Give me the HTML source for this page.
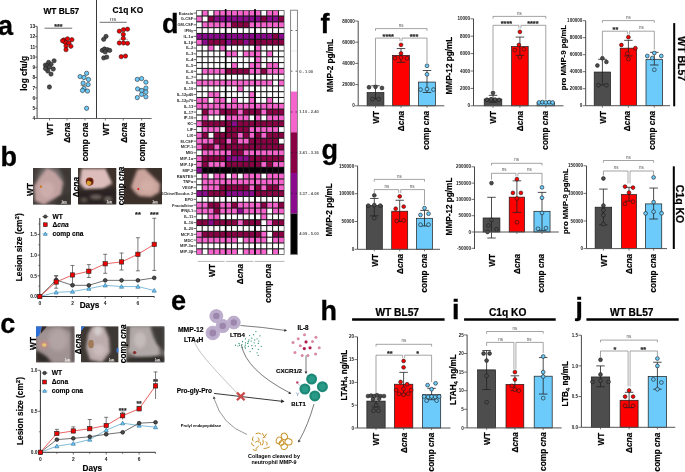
<!DOCTYPE html>
<html><head><meta charset="utf-8"><title>Figure</title>
<style>
html,body{margin:0;padding:0;background:#fff;width:685px;height:472px;overflow:hidden;}
svg{display:block;font-family:"Liberation Sans", sans-serif;will-change:transform;}
</style></head><body>
<svg width="685" height="472" viewBox="0 0 685 472">
<rect width="685" height="472" fill="#fff"/>
<defs>
<filter id="b2" x="-30%" y="-30%" width="160%" height="160%"><feGaussianBlur stdDeviation="2.2"/></filter>
<filter id="b15" x="-30%" y="-30%" width="160%" height="160%"><feGaussianBlur stdDeviation="1.4"/></filter>
<filter id="b05" x="-50%" y="-50%" width="200%" height="200%"><feGaussianBlur stdDeviation="0.5"/></filter>
</defs>
<text x="-2.1" y="34.9" font-size="27" font-weight="bold" text-anchor="start" fill="#000" stroke="#000" stroke-width="0.3">a</text>
<text x="61.3" y="13.6" font-size="8.4" font-weight="bold" text-anchor="middle" fill="#000" stroke="#000" stroke-width="0.18">WT BL57</text>
<text x="127.8" y="13.3" font-size="8.4" font-weight="bold" text-anchor="middle" fill="#000" stroke="#000" stroke-width="0.18">C1q KO</text>
<line x1="96.5" y1="0" x2="96.5" y2="118.5" stroke="#222" stroke-width="0.9"/>
<line x1="37.1" y1="26.34" x2="37.1" y2="118.5" stroke="#333" stroke-width="0.9"/>
<line x1="37.1" y1="118.5" x2="151.6" y2="118.5" stroke="#555" stroke-width="0.9"/>
<line x1="35.1" y1="118.5" x2="37.1" y2="118.5" stroke="#333" stroke-width="0.7"/>
<text x="35.3" y="120.25" font-size="4.9" font-weight="bold" text-anchor="end" fill="#222">4</text>
<line x1="35.1" y1="108.26" x2="37.1" y2="108.26" stroke="#333" stroke-width="0.7"/>
<text x="35.3" y="110.01" font-size="4.9" font-weight="bold" text-anchor="end" fill="#222">5</text>
<line x1="35.1" y1="98.02" x2="37.1" y2="98.02" stroke="#333" stroke-width="0.7"/>
<text x="35.3" y="99.77" font-size="4.9" font-weight="bold" text-anchor="end" fill="#222">6</text>
<line x1="35.1" y1="87.78" x2="37.1" y2="87.78" stroke="#333" stroke-width="0.7"/>
<text x="35.3" y="89.53" font-size="4.9" font-weight="bold" text-anchor="end" fill="#222">7</text>
<line x1="35.1" y1="77.54" x2="37.1" y2="77.54" stroke="#333" stroke-width="0.7"/>
<text x="35.3" y="79.29" font-size="4.9" font-weight="bold" text-anchor="end" fill="#222">8</text>
<line x1="35.1" y1="67.3" x2="37.1" y2="67.3" stroke="#333" stroke-width="0.7"/>
<text x="35.3" y="69.05" font-size="4.9" font-weight="bold" text-anchor="end" fill="#222">9</text>
<line x1="35.1" y1="57.06" x2="37.1" y2="57.06" stroke="#333" stroke-width="0.7"/>
<text x="35.3" y="58.81" font-size="4.9" font-weight="bold" text-anchor="end" fill="#222">10</text>
<line x1="35.1" y1="46.82" x2="37.1" y2="46.82" stroke="#333" stroke-width="0.7"/>
<text x="35.3" y="48.57" font-size="4.9" font-weight="bold" text-anchor="end" fill="#222">11</text>
<line x1="35.1" y1="36.58" x2="37.1" y2="36.58" stroke="#333" stroke-width="0.7"/>
<text x="35.3" y="38.33" font-size="4.9" font-weight="bold" text-anchor="end" fill="#222">12</text>
<line x1="35.1" y1="26.34" x2="37.1" y2="26.34" stroke="#333" stroke-width="0.7"/>
<text x="35.3" y="28.09" font-size="4.9" font-weight="bold" text-anchor="end" fill="#222">13</text>
<line x1="49.5" y1="118.5" x2="49.5" y2="120.5" stroke="#555" stroke-width="0.8"/>
<text x="0" y="0" transform="translate(52.89 122.6) rotate(-90)" font-size="8.3" font-weight="bold" text-anchor="end" fill="#000" stroke="#000" stroke-width="0.18">WT</text>
<line x1="67" y1="118.5" x2="67" y2="120.5" stroke="#555" stroke-width="0.8"/>
<text x="0" y="0" transform="translate(70.39 122.6) rotate(-90)" font-size="8.3" font-weight="bold" text-anchor="end" fill="#000" stroke="#000" stroke-width="0.18">&#916;<tspan font-style="italic">cna</tspan></text>
<line x1="85" y1="118.5" x2="85" y2="120.5" stroke="#555" stroke-width="0.8"/>
<text x="0" y="0" transform="translate(88.39 122.6) rotate(-90)" font-size="8.3" font-weight="bold" text-anchor="end" fill="#000" stroke="#000" stroke-width="0.18">comp <tspan font-style="italic">cna</tspan></text>
<line x1="105.4" y1="118.5" x2="105.4" y2="120.5" stroke="#555" stroke-width="0.8"/>
<text x="0" y="0" transform="translate(108.79 122.6) rotate(-90)" font-size="8.3" font-weight="bold" text-anchor="end" fill="#000" stroke="#000" stroke-width="0.18">WT</text>
<line x1="123.3" y1="118.5" x2="123.3" y2="120.5" stroke="#555" stroke-width="0.8"/>
<text x="0" y="0" transform="translate(126.69 122.6) rotate(-90)" font-size="8.3" font-weight="bold" text-anchor="end" fill="#000" stroke="#000" stroke-width="0.18">&#916;<tspan font-style="italic">cna</tspan></text>
<line x1="141.6" y1="118.5" x2="141.6" y2="120.5" stroke="#555" stroke-width="0.8"/>
<text x="0" y="0" transform="translate(144.99 122.6) rotate(-90)" font-size="8.3" font-weight="bold" text-anchor="end" fill="#000" stroke="#000" stroke-width="0.18">comp <tspan font-style="italic">cna</tspan></text>
<text x="0" y="0" transform="translate(26.52 73.3) rotate(-90)" font-size="8.4" font-weight="bold" text-anchor="middle" fill="#000" stroke="#000" stroke-width="0.18">log cfu/g</text>
<line x1="44.5" y1="28.2" x2="72.2" y2="28.2" stroke="#333" stroke-width="0.7"/>
<text x="58.3" y="29" font-size="7" font-weight="bold" text-anchor="middle" fill="#222" stroke="#222" stroke-width="0.15">***</text>
<line x1="99.7" y1="22.3" x2="126.7" y2="22.3" stroke="#333" stroke-width="0.7"/>
<text x="113.2" y="20.6" font-size="6" font-weight="normal" text-anchor="middle" fill="#444">ns</text>
<line x1="45" y1="68.5" x2="54" y2="68.5" stroke="#777" stroke-width="0.6"/>
<line x1="62.5" y1="43.5" x2="71.5" y2="43.5" stroke="#777" stroke-width="0.6"/>
<line x1="80.5" y1="85.5" x2="89.5" y2="85.5" stroke="#777" stroke-width="0.6"/>
<line x1="100.9" y1="48.5" x2="109.9" y2="48.5" stroke="#777" stroke-width="0.6"/>
<line x1="118.8" y1="39.3" x2="127.8" y2="39.3" stroke="#777" stroke-width="0.6"/>
<line x1="137.1" y1="89" x2="146.1" y2="89" stroke="#777" stroke-width="0.6"/>
<circle cx="54.1" cy="60.8" r="2.15" fill="#4a4a4a" stroke="#1a1a1a" stroke-width="0.55"/>
<circle cx="48.6" cy="62.4" r="2.15" fill="#4a4a4a" stroke="#1a1a1a" stroke-width="0.55"/>
<circle cx="45.4" cy="65.1" r="2.15" fill="#4a4a4a" stroke="#1a1a1a" stroke-width="0.55"/>
<circle cx="51" cy="64.3" r="2.15" fill="#4a4a4a" stroke="#1a1a1a" stroke-width="0.55"/>
<circle cx="47" cy="65.9" r="2.15" fill="#4a4a4a" stroke="#1a1a1a" stroke-width="0.55"/>
<circle cx="49.4" cy="67.1" r="2.15" fill="#4a4a4a" stroke="#1a1a1a" stroke-width="0.55"/>
<circle cx="53.3" cy="69" r="2.15" fill="#4a4a4a" stroke="#1a1a1a" stroke-width="0.55"/>
<circle cx="47.8" cy="71" r="2.15" fill="#4a4a4a" stroke="#1a1a1a" stroke-width="0.55"/>
<circle cx="51" cy="74.1" r="2.15" fill="#4a4a4a" stroke="#1a1a1a" stroke-width="0.55"/>
<circle cx="49.4" cy="87" r="2.15" fill="#4a4a4a" stroke="#1a1a1a" stroke-width="0.55"/>
<circle cx="45.5" cy="68.5" r="2.15" fill="#4a4a4a" stroke="#1a1a1a" stroke-width="0.55"/>
<circle cx="63.8" cy="40" r="2.15" fill="#f00000" stroke="#1a1a1a" stroke-width="0.55"/>
<circle cx="67.5" cy="38.8" r="2.15" fill="#f00000" stroke="#1a1a1a" stroke-width="0.55"/>
<circle cx="71.9" cy="39.7" r="2.15" fill="#f00000" stroke="#1a1a1a" stroke-width="0.55"/>
<circle cx="65.2" cy="42.3" r="2.15" fill="#f00000" stroke="#1a1a1a" stroke-width="0.55"/>
<circle cx="69" cy="43" r="2.15" fill="#f00000" stroke="#1a1a1a" stroke-width="0.55"/>
<circle cx="66" cy="46" r="2.15" fill="#f00000" stroke="#1a1a1a" stroke-width="0.55"/>
<circle cx="70.9" cy="46.3" r="2.15" fill="#f00000" stroke="#1a1a1a" stroke-width="0.55"/>
<circle cx="66" cy="49.7" r="2.15" fill="#f00000" stroke="#1a1a1a" stroke-width="0.55"/>
<circle cx="62.5" cy="40.8" r="2.15" fill="#f00000" stroke="#1a1a1a" stroke-width="0.55"/>
<circle cx="86.6" cy="73.3" r="2.15" fill="#6ccbfb" stroke="#1a1a1a" stroke-width="0.55"/>
<circle cx="80.1" cy="76.6" r="2.15" fill="#6ccbfb" stroke="#1a1a1a" stroke-width="0.55"/>
<circle cx="84" cy="77.5" r="2.15" fill="#6ccbfb" stroke="#1a1a1a" stroke-width="0.55"/>
<circle cx="88.5" cy="79.5" r="2.15" fill="#6ccbfb" stroke="#1a1a1a" stroke-width="0.55"/>
<circle cx="83.1" cy="83.1" r="2.15" fill="#6ccbfb" stroke="#1a1a1a" stroke-width="0.55"/>
<circle cx="88.1" cy="84.6" r="2.15" fill="#6ccbfb" stroke="#1a1a1a" stroke-width="0.55"/>
<circle cx="84" cy="88.4" r="2.15" fill="#6ccbfb" stroke="#1a1a1a" stroke-width="0.55"/>
<circle cx="87.5" cy="91.1" r="2.15" fill="#6ccbfb" stroke="#1a1a1a" stroke-width="0.55"/>
<circle cx="82.5" cy="90.5" r="2.15" fill="#6ccbfb" stroke="#1a1a1a" stroke-width="0.55"/>
<circle cx="86.6" cy="108.3" r="2.15" fill="#6ccbfb" stroke="#1a1a1a" stroke-width="0.55"/>
<circle cx="106" cy="36.4" r="2.15" fill="#4a4a4a" stroke="#1a1a1a" stroke-width="0.55"/>
<circle cx="103.7" cy="39.3" r="2.15" fill="#4a4a4a" stroke="#1a1a1a" stroke-width="0.55"/>
<circle cx="102.3" cy="50.4" r="2.15" fill="#4a4a4a" stroke="#1a1a1a" stroke-width="0.55"/>
<circle cx="104.5" cy="49" r="2.15" fill="#4a4a4a" stroke="#1a1a1a" stroke-width="0.55"/>
<circle cx="107.4" cy="49.7" r="2.15" fill="#4a4a4a" stroke="#1a1a1a" stroke-width="0.55"/>
<circle cx="109.7" cy="50.4" r="2.15" fill="#4a4a4a" stroke="#1a1a1a" stroke-width="0.55"/>
<circle cx="105.2" cy="51.9" r="2.15" fill="#4a4a4a" stroke="#1a1a1a" stroke-width="0.55"/>
<circle cx="103.7" cy="57.9" r="2.15" fill="#4a4a4a" stroke="#1a1a1a" stroke-width="0.55"/>
<circle cx="106.7" cy="57.1" r="2.15" fill="#4a4a4a" stroke="#1a1a1a" stroke-width="0.55"/>
<circle cx="119.3" cy="31.2" r="2.15" fill="#f00000" stroke="#1a1a1a" stroke-width="0.55"/>
<circle cx="123.5" cy="29.7" r="2.15" fill="#f00000" stroke="#1a1a1a" stroke-width="0.55"/>
<circle cx="127.5" cy="29.2" r="2.15" fill="#f00000" stroke="#1a1a1a" stroke-width="0.55"/>
<circle cx="123.3" cy="34.4" r="2.15" fill="#f00000" stroke="#1a1a1a" stroke-width="0.55"/>
<circle cx="123.3" cy="38.3" r="2.15" fill="#f00000" stroke="#1a1a1a" stroke-width="0.55"/>
<circle cx="119.3" cy="43" r="2.15" fill="#f00000" stroke="#1a1a1a" stroke-width="0.55"/>
<circle cx="123.5" cy="43" r="2.15" fill="#f00000" stroke="#1a1a1a" stroke-width="0.55"/>
<circle cx="127.5" cy="43.3" r="2.15" fill="#f00000" stroke="#1a1a1a" stroke-width="0.55"/>
<circle cx="121.2" cy="56.7" r="2.15" fill="#f00000" stroke="#1a1a1a" stroke-width="0.55"/>
<circle cx="125.5" cy="56.1" r="2.15" fill="#f00000" stroke="#1a1a1a" stroke-width="0.55"/>
<circle cx="137.3" cy="79.4" r="2.15" fill="#6ccbfb" stroke="#1a1a1a" stroke-width="0.55"/>
<circle cx="141.6" cy="78.6" r="2.15" fill="#6ccbfb" stroke="#1a1a1a" stroke-width="0.55"/>
<circle cx="145.9" cy="82.2" r="2.15" fill="#6ccbfb" stroke="#1a1a1a" stroke-width="0.55"/>
<circle cx="137.6" cy="88.9" r="2.15" fill="#6ccbfb" stroke="#1a1a1a" stroke-width="0.55"/>
<circle cx="141.6" cy="90.5" r="2.15" fill="#6ccbfb" stroke="#1a1a1a" stroke-width="0.55"/>
<circle cx="145.9" cy="88.1" r="2.15" fill="#6ccbfb" stroke="#1a1a1a" stroke-width="0.55"/>
<circle cx="145.9" cy="92.1" r="2.15" fill="#6ccbfb" stroke="#1a1a1a" stroke-width="0.55"/>
<circle cx="141.6" cy="94.4" r="2.15" fill="#6ccbfb" stroke="#1a1a1a" stroke-width="0.55"/>
<circle cx="145.9" cy="96.8" r="2.15" fill="#6ccbfb" stroke="#1a1a1a" stroke-width="0.55"/>
<circle cx="137.3" cy="97.6" r="2.15" fill="#6ccbfb" stroke="#1a1a1a" stroke-width="0.55"/>
<text x="0.4" y="166.4" font-size="27" font-weight="bold" text-anchor="start" fill="#000" stroke="#000" stroke-width="0.3">b</text>
<clipPath id="cp1"><rect x="33" y="168" width="38" height="36.8"/></clipPath>
<g clip-path="url(#cp1)">
<rect x="33" y="168" width="38" height="36.8" fill="#433d3a"/>
<ellipse cx="50" cy="180" rx="13" ry="16" fill="#6e6866" filter="url(#b2)" opacity="1"/>
<polygon points="47,168 55,172 63,182 61,195 52,200 44,205 35,201 34,186 40,177" fill="#c2a2a1" filter="url(#b15)" opacity="1"/>
<ellipse cx="47" cy="190" rx="7" ry="8" fill="#cdadac" filter="url(#b15)" opacity="1"/>
<polygon points="58,198 71,191 71,205 55,205" fill="#3a3432" filter="url(#b15)" opacity="1"/>
<polygon points="60,168 71,168 71,188" fill="#3e3836" filter="url(#b15)" opacity="1"/>
<ellipse cx="41" cy="186.7" rx="1.1" ry="1.1" fill="#d07010" filter="url(#b05)" opacity="1"/>
</g>
<text x="64" y="202.8" font-size="2.6" font-weight="bold" text-anchor="middle" fill="#fff">1cm</text>
<line x1="61" y1="203.4" x2="67" y2="203.4" stroke="#fff" stroke-width="0.5"/>
<clipPath id="cp2"><rect x="78" y="168" width="38.4" height="36.6"/></clipPath>
<g clip-path="url(#cp2)">
<rect x="78" y="168" width="38.4" height="36.6" fill="#3a302a"/>
<polygon points="81.5,168.6 106,168.6 112.4,183.2 103.3,188.7 85.1,189.6 79.6,183.2" fill="#dcbdbc" filter="url(#b15)" opacity="1"/>
<polygon points="106,168 116.4,168 116.4,186" fill="#3e302a" filter="url(#b15)" opacity="1"/>
<polygon points="78,191 100,190 116.4,188 116.4,205 78,205" fill="#2a2420" filter="url(#b15)" opacity="1"/>
<ellipse cx="96" cy="197" rx="6" ry="2.5" fill="#6a625c" filter="url(#b15)" opacity="1"/>
<ellipse cx="84" cy="200" rx="3.5" ry="2.2" fill="#5e564e" filter="url(#b15)" opacity="1"/>
<ellipse cx="108" cy="199" rx="4" ry="2.5" fill="#6e6a60" filter="url(#b15)" opacity="1"/>
<ellipse cx="89.7" cy="181.6" rx="3.9" ry="4.1" fill="#7a2a12" filter="url(#b05)" opacity="1"/>
<ellipse cx="88.9" cy="183" rx="2.4" ry="2.2" fill="#d8a030" filter="url(#b05)" opacity="1"/>
<ellipse cx="90.8" cy="180.2" rx="1.4" ry="1.4" fill="#4a1a0a" filter="url(#b05)" opacity="1"/>
</g>
<text x="109.4" y="202.6" font-size="2.6" font-weight="bold" text-anchor="middle" fill="#fff">1cm</text>
<line x1="106.4" y1="203.2" x2="112.4" y2="203.2" stroke="#fff" stroke-width="0.5"/>
<clipPath id="cp3"><rect x="124" y="168" width="38" height="36.6"/></clipPath>
<g clip-path="url(#cp3)">
<rect x="124" y="168" width="38" height="36.6" fill="#3c302a"/>
<polygon points="137.4,169.6 144.7,168.6 151.1,175 160.2,184.1 159.3,192.3 151.1,196.9 139.2,196 134.7,192.3 131,186.9 133.8,178.7" fill="#cba59d" filter="url(#b15)" opacity="1"/>
<ellipse cx="147" cy="186" rx="7" ry="6" fill="#d2aea6" filter="url(#b15)" opacity="1"/>
<ellipse cx="138.3" cy="189.1" rx="1.1" ry="1.1" fill="#d02020" filter="url(#b05)" opacity="1"/>
</g>
<text x="155" y="202.6" font-size="2.6" font-weight="bold" text-anchor="middle" fill="#fff">1cm</text>
<line x1="152" y1="203.2" x2="158" y2="203.2" stroke="#fff" stroke-width="0.5"/>
<text x="0" y="0" transform="translate(32.79 183) rotate(-90)" font-size="8.3" font-weight="bold" text-anchor="end" fill="#000" stroke="#000" stroke-width="0.18">WT</text>
<text x="0" y="0" transform="translate(78.99 177) rotate(-90)" font-size="8.3" font-weight="bold" text-anchor="end" fill="#000" stroke="#000" stroke-width="0.18">&#916;<tspan font-style="italic">cna</tspan></text>
<text x="0" y="0" transform="translate(123.79 166.6) rotate(-90)" font-size="8.3" font-weight="bold" text-anchor="end" fill="#000" stroke="#000" stroke-width="0.18">comp <tspan font-style="italic">cna</tspan></text>
<line x1="39.8" y1="218" x2="39.8" y2="296.5" stroke="#333" stroke-width="1"/>
<line x1="39.8" y1="296.5" x2="154.3" y2="296.5" stroke="#333" stroke-width="1"/>
<line x1="37.6" y1="296.5" x2="39.8" y2="296.5" stroke="#333" stroke-width="0.8"/>
<text x="37" y="298.25" font-size="4.9" font-weight="bold" text-anchor="end" fill="#222">0.0</text>
<line x1="37.6" y1="275.8" x2="39.8" y2="275.8" stroke="#333" stroke-width="0.8"/>
<text x="37" y="277.55" font-size="4.9" font-weight="bold" text-anchor="end" fill="#222">0.5</text>
<line x1="37.6" y1="255.1" x2="39.8" y2="255.1" stroke="#333" stroke-width="0.8"/>
<text x="37" y="256.85" font-size="4.9" font-weight="bold" text-anchor="end" fill="#222">1.0</text>
<line x1="37.6" y1="234.4" x2="39.8" y2="234.4" stroke="#333" stroke-width="0.8"/>
<text x="37" y="236.15" font-size="4.9" font-weight="bold" text-anchor="end" fill="#222">1.5</text>
<line x1="38.3" y1="286.15" x2="39.8" y2="286.15" stroke="#333" stroke-width="0.6"/>
<line x1="38.3" y1="265.45" x2="39.8" y2="265.45" stroke="#333" stroke-width="0.6"/>
<line x1="38.3" y1="244.75" x2="39.8" y2="244.75" stroke="#333" stroke-width="0.6"/>
<line x1="38.3" y1="224.05" x2="39.8" y2="224.05" stroke="#333" stroke-width="0.6"/>
<line x1="39.8" y1="296.5" x2="39.8" y2="298.7" stroke="#333" stroke-width="0.7"/>
<text x="39.8" y="304.6" font-size="4.9" font-weight="bold" text-anchor="middle" fill="#222">0</text>
<line x1="56.15" y1="296.5" x2="56.15" y2="298" stroke="#333" stroke-width="0.7"/>
<line x1="72.5" y1="296.5" x2="72.5" y2="298.7" stroke="#333" stroke-width="0.7"/>
<text x="72.5" y="304.6" font-size="4.9" font-weight="bold" text-anchor="middle" fill="#222">2</text>
<line x1="88.85" y1="296.5" x2="88.85" y2="298" stroke="#333" stroke-width="0.7"/>
<line x1="105.2" y1="296.5" x2="105.2" y2="298.7" stroke="#333" stroke-width="0.7"/>
<text x="105.2" y="304.6" font-size="4.9" font-weight="bold" text-anchor="middle" fill="#222">4</text>
<line x1="121.55" y1="296.5" x2="121.55" y2="298" stroke="#333" stroke-width="0.7"/>
<line x1="137.9" y1="296.5" x2="137.9" y2="298.7" stroke="#333" stroke-width="0.7"/>
<text x="137.9" y="304.6" font-size="4.9" font-weight="bold" text-anchor="middle" fill="#222">6</text>
<line x1="154.25" y1="296.5" x2="154.25" y2="298" stroke="#333" stroke-width="0.7"/>
<text x="89.5" y="308.3" font-size="8.2" font-weight="bold" text-anchor="middle" fill="#000" stroke="#000" stroke-width="0.18">Days</text>
<line x1="56.15" y1="282.84" x2="56.15" y2="275.8" stroke="#444" stroke-width="0.7"/>
<line x1="54.15" y1="275.8" x2="58.15" y2="275.8" stroke="#444" stroke-width="0.7"/>
<line x1="54.15" y1="282.84" x2="58.15" y2="282.84" stroke="#444" stroke-width="0.7"/>
<line x1="56.15" y1="288.22" x2="56.15" y2="275.8" stroke="#444" stroke-width="0.7"/>
<line x1="54.15" y1="275.8" x2="58.15" y2="275.8" stroke="#444" stroke-width="0.7"/>
<line x1="54.15" y1="288.22" x2="58.15" y2="288.22" stroke="#444" stroke-width="0.7"/>
<line x1="72.5" y1="284.08" x2="72.5" y2="265.45" stroke="#444" stroke-width="0.7"/>
<line x1="70.5" y1="265.45" x2="74.5" y2="265.45" stroke="#444" stroke-width="0.7"/>
<line x1="70.5" y1="284.08" x2="74.5" y2="284.08" stroke="#444" stroke-width="0.7"/>
<line x1="88.85" y1="277.46" x2="88.85" y2="264.62" stroke="#444" stroke-width="0.7"/>
<line x1="86.85" y1="264.62" x2="90.85" y2="264.62" stroke="#444" stroke-width="0.7"/>
<line x1="86.85" y1="277.46" x2="90.85" y2="277.46" stroke="#444" stroke-width="0.7"/>
<line x1="105.2" y1="273.32" x2="105.2" y2="254.27" stroke="#444" stroke-width="0.7"/>
<line x1="103.2" y1="254.27" x2="107.2" y2="254.27" stroke="#444" stroke-width="0.7"/>
<line x1="103.2" y1="273.32" x2="107.2" y2="273.32" stroke="#444" stroke-width="0.7"/>
<line x1="121.55" y1="270" x2="121.55" y2="253.03" stroke="#444" stroke-width="0.7"/>
<line x1="119.55" y1="253.03" x2="123.55" y2="253.03" stroke="#444" stroke-width="0.7"/>
<line x1="119.55" y1="270" x2="123.55" y2="270" stroke="#444" stroke-width="0.7"/>
<line x1="137.9" y1="270.83" x2="137.9" y2="237.71" stroke="#444" stroke-width="0.7"/>
<line x1="135.9" y1="237.71" x2="139.9" y2="237.71" stroke="#444" stroke-width="0.7"/>
<line x1="135.9" y1="270.83" x2="139.9" y2="270.83" stroke="#444" stroke-width="0.7"/>
<line x1="154.25" y1="270.42" x2="154.25" y2="218.25" stroke="#444" stroke-width="0.7"/>
<line x1="152.25" y1="218.25" x2="156.25" y2="218.25" stroke="#444" stroke-width="0.7"/>
<line x1="152.25" y1="270.42" x2="156.25" y2="270.42" stroke="#444" stroke-width="0.7"/>
<polyline points="39.8,296.5 56.15,292.36 72.5,291.53 88.85,288.63 105.2,285.32 121.55,286.56 137.9,286.56 154.25,290.5" fill="none" stroke="#4aa0c8" stroke-width="0.7"/>
<polyline points="39.8,296.5 56.15,279.94 72.5,285.32 88.85,285.32 105.2,280.35 121.55,280.35 137.9,280.35 154.25,277.87" fill="none" stroke="#333" stroke-width="0.7"/>
<polyline points="39.8,296.5 56.15,282.01 72.5,274.97 88.85,271.25 105.2,263.79 121.55,261.93 137.9,254.27 154.25,244.34" fill="none" stroke="#e02020" stroke-width="0.7"/>
<polygon points="39.8,294.43 37.73,298.16 41.87,298.16" fill="#6ccbfb" stroke="#2a6a90" stroke-width="0.6"/>
<polygon points="56.15,290.29 54.08,294.02 58.22,294.02" fill="#6ccbfb" stroke="#2a6a90" stroke-width="0.6"/>
<polygon points="72.5,289.46 70.43,293.19 74.57,293.19" fill="#6ccbfb" stroke="#2a6a90" stroke-width="0.6"/>
<polygon points="88.85,286.56 86.78,290.29 90.92,290.29" fill="#6ccbfb" stroke="#2a6a90" stroke-width="0.6"/>
<polygon points="105.2,283.25 103.13,286.98 107.27,286.98" fill="#6ccbfb" stroke="#2a6a90" stroke-width="0.6"/>
<polygon points="121.55,284.49 119.48,288.22 123.62,288.22" fill="#6ccbfb" stroke="#2a6a90" stroke-width="0.6"/>
<polygon points="137.9,284.49 135.83,288.22 139.97,288.22" fill="#6ccbfb" stroke="#2a6a90" stroke-width="0.6"/>
<polygon points="154.25,288.43 152.18,292.15 156.32,292.15" fill="#6ccbfb" stroke="#2a6a90" stroke-width="0.6"/>
<circle cx="39.8" cy="296.5" r="1.89" fill="#4a4a4a" stroke="#111" stroke-width="0.6"/>
<circle cx="56.15" cy="279.94" r="1.89" fill="#4a4a4a" stroke="#111" stroke-width="0.6"/>
<circle cx="72.5" cy="285.32" r="1.89" fill="#4a4a4a" stroke="#111" stroke-width="0.6"/>
<circle cx="88.85" cy="285.32" r="1.89" fill="#4a4a4a" stroke="#111" stroke-width="0.6"/>
<circle cx="105.2" cy="280.35" r="1.89" fill="#4a4a4a" stroke="#111" stroke-width="0.6"/>
<circle cx="121.55" cy="280.35" r="1.89" fill="#4a4a4a" stroke="#111" stroke-width="0.6"/>
<circle cx="137.9" cy="280.35" r="1.89" fill="#4a4a4a" stroke="#111" stroke-width="0.6"/>
<circle cx="154.25" cy="277.87" r="1.89" fill="#4a4a4a" stroke="#111" stroke-width="0.6"/>
<rect x="37.64" y="294.34" width="4.32" height="4.32" fill="#f00000" stroke="#222" stroke-width="0.6"/>
<rect x="53.99" y="279.85" width="4.32" height="4.32" fill="#f00000" stroke="#222" stroke-width="0.6"/>
<rect x="70.34" y="272.81" width="4.32" height="4.32" fill="#f00000" stroke="#222" stroke-width="0.6"/>
<rect x="86.69" y="269.09" width="4.32" height="4.32" fill="#f00000" stroke="#222" stroke-width="0.6"/>
<rect x="103.04" y="261.63" width="4.32" height="4.32" fill="#f00000" stroke="#222" stroke-width="0.6"/>
<rect x="119.39" y="259.77" width="4.32" height="4.32" fill="#f00000" stroke="#222" stroke-width="0.6"/>
<rect x="135.74" y="252.11" width="4.32" height="4.32" fill="#f00000" stroke="#222" stroke-width="0.6"/>
<rect x="152.09" y="242.18" width="4.32" height="4.32" fill="#f00000" stroke="#222" stroke-width="0.6"/>
<line x1="42.3" y1="216.6" x2="48.3" y2="216.6" stroke="#333" stroke-width="0.6"/>
<circle cx="45.3" cy="216.6" r="1.68" fill="#4a4a4a" stroke="#111" stroke-width="0.6"/>
<text x="52.6" y="218.9" font-size="6.6" font-weight="bold" text-anchor="start" fill="#000" stroke="#000" stroke-width="0.15">WT</text>
<rect x="43.38" y="222.78" width="3.84" height="3.84" fill="#f00000" stroke="#222" stroke-width="0.6"/>
<text x="52.6" y="227" font-size="6.6" font-weight="bold" text-anchor="start" fill="#000" stroke="#000" stroke-width="0.15">&#916;<tspan font-style="italic">cna</tspan></text>
<line x1="42.3" y1="233.9" x2="48.3" y2="233.9" stroke="#4a9ac0" stroke-width="0.6"/>
<polygon points="45.3,232.06 43.46,235.37 47.14,235.37" fill="#6ccbfb" stroke="#2a6a90" stroke-width="0.6"/>
<text x="52.6" y="236.2" font-size="6.6" font-weight="bold" text-anchor="start" fill="#000" stroke="#000" stroke-width="0.15">comp cna</text>
<text x="0" y="0" transform="translate(21.89 247.3) rotate(-90)" font-size="8.3" font-weight="bold" text-anchor="middle" fill="#000" stroke="#000" stroke-width="0.18">Lesion size (cm<tspan font-size="6.2" dy="-3.2">2</tspan><tspan dy="3.2">)</tspan></text>
<text x="137.9" y="217.1" font-size="7.4" font-weight="bold" text-anchor="middle" fill="#222" stroke="#222" stroke-width="0.16">**</text>
<text x="154.25" y="217.1" font-size="7.4" font-weight="bold" text-anchor="middle" fill="#222" stroke="#222" stroke-width="0.16">***</text>
<text x="0.2" y="333.2" font-size="27" font-weight="bold" text-anchor="start" fill="#000" stroke="#000" stroke-width="0.3">c</text>
<clipPath id="cp4"><rect x="36" y="326.2" width="38.6" height="36.4"/></clipPath>
<g clip-path="url(#cp4)">
<rect x="36" y="326.2" width="38.6" height="36.4" fill="#7e7270"/>
<polygon points="36,332 58,326 74.6,334 74.6,362.6 50,362.6 36,352" fill="#a09292" filter="url(#b15)" opacity="1"/>
<ellipse cx="58" cy="340" rx="10" ry="11" fill="#b2a4a4" filter="url(#b2)" opacity="1"/>
<polygon points="71,326 74.6,326 74.6,362 71,362" fill="#5e5654" filter="url(#b15)" opacity="1"/>
<polygon points="36,350 46,356 52,362.6 36,362.6" fill="#2e2a28" filter="url(#b15)" opacity="1"/>
<polygon points="36,326.2 42,326.2 39,336 36,337" fill="#2f6fd8" filter="url(#b05)" opacity="1"/>
<polygon points="42,326.2 47,326.2 40.5,334" fill="#302c2c" filter="url(#b05)" opacity="1"/>
<ellipse cx="44" cy="344.5" rx="4" ry="3.5" fill="#d08a84" filter="url(#b15)" opacity="0.8"/>
<ellipse cx="44.3" cy="345" rx="2.2" ry="1.7" fill="#e6c870" filter="url(#b05)" opacity="1"/>
</g>
<text x="67.6" y="360.6" font-size="2.6" font-weight="bold" text-anchor="middle" fill="#fff">1cm</text>
<line x1="64.6" y1="361.2" x2="70.6" y2="361.2" stroke="#fff" stroke-width="0.5"/>
<clipPath id="cp5"><rect x="81" y="326.2" width="37.6" height="36.4"/></clipPath>
<g clip-path="url(#cp5)">
<rect x="81" y="326.2" width="37.6" height="36.4" fill="#3e3834"/>
<polygon points="92,326.2 104,326.2 109,338 110,352 102,362.6 90,360 86,348 88,334" fill="#bcacab" filter="url(#b15)" opacity="1"/>
<ellipse cx="98" cy="331" rx="4" ry="5" fill="#d4cccc" filter="url(#b15)" opacity="1"/>
<ellipse cx="99" cy="350" rx="6" ry="6" fill="#cabcbc" filter="url(#b15)" opacity="1"/>
<polygon points="81,326.2 85,326.2 81,331" fill="#3a78d8" filter="url(#b05)" opacity="1"/>
<ellipse cx="91" cy="344" rx="2.8" ry="4.2" fill="#a07a58" filter="url(#b05)" opacity="1"/>
<ellipse cx="117.6" cy="350.3" rx="1.2" ry="2.6" fill="#3a78d8" filter="url(#b05)" opacity="1"/>
</g>
<text x="111.6" y="360.6" font-size="2.6" font-weight="bold" text-anchor="middle" fill="#fff">1cm</text>
<line x1="108.6" y1="361.2" x2="114.6" y2="361.2" stroke="#fff" stroke-width="0.5"/>
<clipPath id="cp6"><rect x="126.2" y="326.2" width="38.4" height="36.4"/></clipPath>
<g clip-path="url(#cp6)">
<rect x="126.2" y="326.2" width="38.4" height="36.4" fill="#6e6866"/>
<polygon points="130,326.2 150.3,326.2 153.1,336.7 159.4,345.8 159.4,354.9 150.3,358.5 136.7,357.6 127.6,352.1 128.5,341.2" fill="#b0a8a6" filter="url(#b15)" opacity="1"/>
<ellipse cx="140" cy="340" rx="6" ry="8" fill="#c4bcba" filter="url(#b15)" opacity="1"/>
<polygon points="126.2,326.2 129,326.2 129,348 126.2,348" fill="#4a4440" filter="url(#b15)" opacity="1"/>
<polygon points="151,326.2 164.6,326.2 164.6,352 157,344" fill="#3e3a38" filter="url(#b15)" opacity="1"/>
<polygon points="126.2,358 164.6,356 164.6,362.6 126.2,362.6" fill="#2e2a28" filter="url(#b15)" opacity="1"/>
<ellipse cx="134.6" cy="352.6" rx="1.8" ry="1.5" fill="#8a3030" filter="url(#b05)" opacity="1"/>
</g>
<text x="157.6" y="360.6" font-size="2.6" font-weight="bold" text-anchor="middle" fill="#fff">1cm</text>
<line x1="154.6" y1="361.2" x2="160.6" y2="361.2" stroke="#fff" stroke-width="0.5"/>
<text x="0" y="0" transform="translate(35.99 337) rotate(-90)" font-size="8.3" font-weight="bold" text-anchor="end" fill="#000" stroke="#000" stroke-width="0.18">WT</text>
<text x="0" y="0" transform="translate(81.39 334) rotate(-90)" font-size="8.3" font-weight="bold" text-anchor="end" fill="#000" stroke="#000" stroke-width="0.18">&#916;<tspan font-style="italic">cna</tspan></text>
<text x="0" y="0" transform="translate(126.19 324.5) rotate(-90)" font-size="8.3" font-weight="bold" text-anchor="end" fill="#000" stroke="#000" stroke-width="0.18">comp <tspan font-style="italic">cna</tspan></text>
<line x1="40.4" y1="370.7" x2="40.4" y2="452.3" stroke="#333" stroke-width="1"/>
<line x1="40.4" y1="452.3" x2="155.7" y2="452.3" stroke="#333" stroke-width="1"/>
<line x1="38.2" y1="452.3" x2="40.4" y2="452.3" stroke="#333" stroke-width="0.8"/>
<text x="37.6" y="454.05" font-size="4.9" font-weight="bold" text-anchor="end" fill="#222">0.0</text>
<line x1="38.2" y1="411.3" x2="40.4" y2="411.3" stroke="#333" stroke-width="0.8"/>
<text x="37.6" y="413.05" font-size="4.9" font-weight="bold" text-anchor="end" fill="#222">0.5</text>
<line x1="38.2" y1="370.3" x2="40.4" y2="370.3" stroke="#333" stroke-width="0.8"/>
<text x="37.6" y="372.05" font-size="4.9" font-weight="bold" text-anchor="end" fill="#222">1.0</text>
<line x1="38.9" y1="431.8" x2="40.4" y2="431.8" stroke="#333" stroke-width="0.6"/>
<line x1="38.9" y1="390.8" x2="40.4" y2="390.8" stroke="#333" stroke-width="0.6"/>
<line x1="40.4" y1="452.3" x2="40.4" y2="454.5" stroke="#333" stroke-width="0.7"/>
<text x="40.4" y="461.3" font-size="4.9" font-weight="bold" text-anchor="middle" fill="#222">0</text>
<line x1="56.85" y1="452.3" x2="56.85" y2="453.8" stroke="#333" stroke-width="0.7"/>
<line x1="73.3" y1="452.3" x2="73.3" y2="454.5" stroke="#333" stroke-width="0.7"/>
<text x="73.3" y="461.3" font-size="4.9" font-weight="bold" text-anchor="middle" fill="#222">2</text>
<line x1="89.75" y1="452.3" x2="89.75" y2="453.8" stroke="#333" stroke-width="0.7"/>
<line x1="106.2" y1="452.3" x2="106.2" y2="454.5" stroke="#333" stroke-width="0.7"/>
<text x="106.2" y="461.3" font-size="4.9" font-weight="bold" text-anchor="middle" fill="#222">4</text>
<line x1="122.65" y1="452.3" x2="122.65" y2="453.8" stroke="#333" stroke-width="0.7"/>
<line x1="139.1" y1="452.3" x2="139.1" y2="454.5" stroke="#333" stroke-width="0.7"/>
<text x="139.1" y="461.3" font-size="4.9" font-weight="bold" text-anchor="middle" fill="#222">6</text>
<line x1="155.55" y1="452.3" x2="155.55" y2="453.8" stroke="#333" stroke-width="0.7"/>
<text x="92.3" y="471" font-size="8.2" font-weight="bold" text-anchor="middle" fill="#000" stroke="#000" stroke-width="0.18">Days</text>
<line x1="56.85" y1="433.44" x2="56.85" y2="429.34" stroke="#444" stroke-width="0.7"/>
<line x1="54.85" y1="429.34" x2="58.85" y2="429.34" stroke="#444" stroke-width="0.7"/>
<line x1="73.3" y1="430.98" x2="73.3" y2="426.88" stroke="#444" stroke-width="0.7"/>
<line x1="71.3" y1="426.88" x2="75.3" y2="426.88" stroke="#444" stroke-width="0.7"/>
<line x1="89.75" y1="428.68" x2="89.75" y2="419.5" stroke="#444" stroke-width="0.7"/>
<line x1="87.75" y1="419.5" x2="91.75" y2="419.5" stroke="#444" stroke-width="0.7"/>
<line x1="106.2" y1="425.49" x2="106.2" y2="417.29" stroke="#444" stroke-width="0.7"/>
<line x1="104.2" y1="417.29" x2="108.2" y2="417.29" stroke="#444" stroke-width="0.7"/>
<line x1="122.65" y1="419.5" x2="122.65" y2="412.12" stroke="#444" stroke-width="0.7"/>
<line x1="120.65" y1="412.12" x2="124.65" y2="412.12" stroke="#444" stroke-width="0.7"/>
<line x1="139.1" y1="410.48" x2="139.1" y2="406.38" stroke="#444" stroke-width="0.7"/>
<line x1="137.1" y1="406.38" x2="141.1" y2="406.38" stroke="#444" stroke-width="0.7"/>
<line x1="155.55" y1="399" x2="155.55" y2="371.94" stroke="#444" stroke-width="0.7"/>
<line x1="153.55" y1="371.94" x2="157.55" y2="371.94" stroke="#444" stroke-width="0.7"/>
<polyline points="40.4,452.3 56.85,446.15 73.3,443.61 89.75,439.51 106.2,430.16 122.65,423.19 139.1,425.49 155.55,427.13" fill="none" stroke="#4aa0c8" stroke-width="0.7"/>
<polyline points="40.4,452.3 56.85,439.59 73.3,438.36 89.75,436.72 106.2,434.26 122.65,432.29 139.1,423.19 155.55,422.29" fill="none" stroke="#333" stroke-width="0.7"/>
<polyline points="40.4,452.3 56.85,433.44 73.3,430.98 89.75,428.68 106.2,425.49 122.65,415.73 139.1,408.84 155.55,385.88" fill="none" stroke="#e02020" stroke-width="0.7"/>
<polygon points="40.4,450.23 38.33,453.96 42.47,453.96" fill="#6ccbfb" stroke="#2a6a90" stroke-width="0.6"/>
<polygon points="56.85,444.08 54.78,447.81 58.92,447.81" fill="#6ccbfb" stroke="#2a6a90" stroke-width="0.6"/>
<polygon points="73.3,441.54 71.23,445.26 75.37,445.26" fill="#6ccbfb" stroke="#2a6a90" stroke-width="0.6"/>
<polygon points="89.75,437.44 87.68,441.16 91.82,441.16" fill="#6ccbfb" stroke="#2a6a90" stroke-width="0.6"/>
<polygon points="106.2,428.09 104.13,431.82 108.27,431.82" fill="#6ccbfb" stroke="#2a6a90" stroke-width="0.6"/>
<polygon points="122.65,421.12 120.58,424.85 124.72,424.85" fill="#6ccbfb" stroke="#2a6a90" stroke-width="0.6"/>
<polygon points="139.1,423.42 137.03,427.14 141.17,427.14" fill="#6ccbfb" stroke="#2a6a90" stroke-width="0.6"/>
<polygon points="155.55,425.06 153.48,428.78 157.62,428.78" fill="#6ccbfb" stroke="#2a6a90" stroke-width="0.6"/>
<circle cx="40.4" cy="452.3" r="1.89" fill="#4a4a4a" stroke="#111" stroke-width="0.6"/>
<circle cx="56.85" cy="439.59" r="1.89" fill="#4a4a4a" stroke="#111" stroke-width="0.6"/>
<circle cx="73.3" cy="438.36" r="1.89" fill="#4a4a4a" stroke="#111" stroke-width="0.6"/>
<circle cx="89.75" cy="436.72" r="1.89" fill="#4a4a4a" stroke="#111" stroke-width="0.6"/>
<circle cx="106.2" cy="434.26" r="1.89" fill="#4a4a4a" stroke="#111" stroke-width="0.6"/>
<circle cx="122.65" cy="432.29" r="1.89" fill="#4a4a4a" stroke="#111" stroke-width="0.6"/>
<circle cx="139.1" cy="423.19" r="1.89" fill="#4a4a4a" stroke="#111" stroke-width="0.6"/>
<circle cx="155.55" cy="422.29" r="1.89" fill="#4a4a4a" stroke="#111" stroke-width="0.6"/>
<rect x="38.24" y="450.14" width="4.32" height="4.32" fill="#f00000" stroke="#222" stroke-width="0.6"/>
<rect x="54.69" y="431.28" width="4.32" height="4.32" fill="#f00000" stroke="#222" stroke-width="0.6"/>
<rect x="71.14" y="428.82" width="4.32" height="4.32" fill="#f00000" stroke="#222" stroke-width="0.6"/>
<rect x="87.59" y="426.52" width="4.32" height="4.32" fill="#f00000" stroke="#222" stroke-width="0.6"/>
<rect x="104.04" y="423.33" width="4.32" height="4.32" fill="#f00000" stroke="#222" stroke-width="0.6"/>
<rect x="120.49" y="413.57" width="4.32" height="4.32" fill="#f00000" stroke="#222" stroke-width="0.6"/>
<rect x="136.94" y="406.68" width="4.32" height="4.32" fill="#f00000" stroke="#222" stroke-width="0.6"/>
<rect x="153.39" y="383.72" width="4.32" height="4.32" fill="#f00000" stroke="#222" stroke-width="0.6"/>
<line x1="41.6" y1="373" x2="47.6" y2="373" stroke="#333" stroke-width="0.6"/>
<circle cx="44.6" cy="373" r="1.68" fill="#4a4a4a" stroke="#111" stroke-width="0.6"/>
<text x="51.8" y="375.3" font-size="6.7" font-weight="bold" text-anchor="start" fill="#000" stroke="#000" stroke-width="0.15">WT</text>
<rect x="42.68" y="380.08" width="3.84" height="3.84" fill="#f00000" stroke="#222" stroke-width="0.6"/>
<text x="51.8" y="384.3" font-size="6.7" font-weight="bold" text-anchor="start" fill="#000" stroke="#000" stroke-width="0.15">&#916;cna</text>
<line x1="41.6" y1="390.9" x2="47.6" y2="390.9" stroke="#4a9ac0" stroke-width="0.6"/>
<polygon points="44.6,389.06 42.76,392.37 46.44,392.37" fill="#6ccbfb" stroke="#2a6a90" stroke-width="0.6"/>
<text x="51.8" y="393.2" font-size="6.7" font-weight="bold" text-anchor="start" fill="#000" stroke="#000" stroke-width="0.15">comp cna</text>
<text x="0" y="0" transform="translate(23.19 411) rotate(-90)" font-size="8.3" font-weight="bold" text-anchor="middle" fill="#000" stroke="#000" stroke-width="0.18">Lesion size (cm<tspan font-size="6.2" dy="-3.2">2</tspan><tspan dy="3.2">)</tspan></text>
<text x="122.65" y="413" font-size="6.6" font-weight="bold" text-anchor="middle" fill="#222" stroke="#222" stroke-width="0.15">***</text>
<text x="139.1" y="405.7" font-size="6.6" font-weight="bold" text-anchor="middle" fill="#222" stroke="#222" stroke-width="0.15">**</text>
<text x="155.55" y="383.7" font-size="6.6" font-weight="bold" text-anchor="middle" fill="#222" stroke="#222" stroke-width="0.15">**</text>
<text x="162" y="32.9" font-size="27" font-weight="bold" text-anchor="start" fill="#000" stroke="#000" stroke-width="0.3">d</text>
<rect x="196.3" y="10.2" width="88.05" height="244.44" fill="#1a1a1a"/>
<rect x="196.85" y="10.75" width="4.77" height="4.72" fill="#ffffff"/>
<rect x="202.72" y="10.75" width="4.77" height="4.72" fill="#f564cc"/>
<rect x="208.59" y="10.75" width="4.77" height="4.72" fill="#ffffff"/>
<rect x="214.46" y="10.75" width="4.77" height="4.72" fill="#f564cc"/>
<rect x="220.33" y="10.75" width="4.77" height="4.72" fill="#f564cc"/>
<rect x="226.2" y="10.75" width="4.77" height="4.72" fill="#f564cc"/>
<rect x="232.07" y="10.75" width="4.77" height="4.72" fill="#f564cc"/>
<rect x="237.94" y="10.75" width="4.77" height="4.72" fill="#f564cc"/>
<rect x="243.81" y="10.75" width="4.77" height="4.72" fill="#f564cc"/>
<rect x="249.68" y="10.75" width="4.77" height="4.72" fill="#f564cc"/>
<rect x="255.55" y="10.75" width="4.77" height="4.72" fill="#f564cc"/>
<rect x="261.42" y="10.75" width="4.77" height="4.72" fill="#ffffff"/>
<rect x="267.29" y="10.75" width="4.77" height="4.72" fill="#f564cc"/>
<rect x="273.16" y="10.75" width="4.77" height="4.72" fill="#f564cc"/>
<rect x="279.03" y="10.75" width="4.77" height="4.72" fill="#ffffff"/>
<rect x="196.85" y="16.57" width="4.77" height="4.72" fill="#f564cc"/>
<rect x="202.72" y="16.57" width="4.77" height="4.72" fill="#ffffff"/>
<rect x="208.59" y="16.57" width="4.77" height="4.72" fill="#8a0044"/>
<rect x="214.46" y="16.57" width="4.77" height="4.72" fill="#8c0a8e"/>
<rect x="220.33" y="16.57" width="4.77" height="4.72" fill="#8c0a8e"/>
<rect x="226.2" y="16.57" width="4.77" height="4.72" fill="#8c0a8e"/>
<rect x="232.07" y="16.57" width="4.77" height="4.72" fill="#8c0a8e"/>
<rect x="237.94" y="16.57" width="4.77" height="4.72" fill="#8c0a8e"/>
<rect x="243.81" y="16.57" width="4.77" height="4.72" fill="#8c0a8e"/>
<rect x="249.68" y="16.57" width="4.77" height="4.72" fill="#8c0a8e"/>
<rect x="255.55" y="16.57" width="4.77" height="4.72" fill="#8c0a8e"/>
<rect x="261.42" y="16.57" width="4.77" height="4.72" fill="#8a0044"/>
<rect x="267.29" y="16.57" width="4.77" height="4.72" fill="#8c0a8e"/>
<rect x="273.16" y="16.57" width="4.77" height="4.72" fill="#8c0a8e"/>
<rect x="279.03" y="16.57" width="4.77" height="4.72" fill="#8a0044"/>
<rect x="196.85" y="22.39" width="4.77" height="4.72" fill="#ffffff"/>
<rect x="202.72" y="22.39" width="4.77" height="4.72" fill="#f564cc"/>
<rect x="208.59" y="22.39" width="4.77" height="4.72" fill="#f564cc"/>
<rect x="214.46" y="22.39" width="4.77" height="4.72" fill="#f564cc"/>
<rect x="220.33" y="22.39" width="4.77" height="4.72" fill="#f564cc"/>
<rect x="226.2" y="22.39" width="4.77" height="4.72" fill="#f564cc"/>
<rect x="232.07" y="22.39" width="4.77" height="4.72" fill="#8a0044"/>
<rect x="237.94" y="22.39" width="4.77" height="4.72" fill="#8a0044"/>
<rect x="243.81" y="22.39" width="4.77" height="4.72" fill="#8a0044"/>
<rect x="249.68" y="22.39" width="4.77" height="4.72" fill="#f564cc"/>
<rect x="255.55" y="22.39" width="4.77" height="4.72" fill="#f564cc"/>
<rect x="261.42" y="22.39" width="4.77" height="4.72" fill="#f564cc"/>
<rect x="267.29" y="22.39" width="4.77" height="4.72" fill="#f564cc"/>
<rect x="273.16" y="22.39" width="4.77" height="4.72" fill="#f564cc"/>
<rect x="279.03" y="22.39" width="4.77" height="4.72" fill="#f564cc"/>
<rect x="196.85" y="28.21" width="4.77" height="4.72" fill="#ffffff"/>
<rect x="202.72" y="28.21" width="4.77" height="4.72" fill="#ffffff"/>
<rect x="208.59" y="28.21" width="4.77" height="4.72" fill="#ffffff"/>
<rect x="214.46" y="28.21" width="4.77" height="4.72" fill="#ffffff"/>
<rect x="220.33" y="28.21" width="4.77" height="4.72" fill="#ffffff"/>
<rect x="226.2" y="28.21" width="4.77" height="4.72" fill="#ffffff"/>
<rect x="232.07" y="28.21" width="4.77" height="4.72" fill="#ffffff"/>
<rect x="237.94" y="28.21" width="4.77" height="4.72" fill="#ffffff"/>
<rect x="243.81" y="28.21" width="4.77" height="4.72" fill="#ffffff"/>
<rect x="249.68" y="28.21" width="4.77" height="4.72" fill="#ffffff"/>
<rect x="255.55" y="28.21" width="4.77" height="4.72" fill="#ffffff"/>
<rect x="261.42" y="28.21" width="4.77" height="4.72" fill="#ffffff"/>
<rect x="267.29" y="28.21" width="4.77" height="4.72" fill="#ffffff"/>
<rect x="273.16" y="28.21" width="4.77" height="4.72" fill="#ffffff"/>
<rect x="279.03" y="28.21" width="4.77" height="4.72" fill="#ffffff"/>
<rect x="196.85" y="34.03" width="4.77" height="4.72" fill="#8c0a8e"/>
<rect x="202.72" y="34.03" width="4.77" height="4.72" fill="#8c0a8e"/>
<rect x="208.59" y="34.03" width="4.77" height="4.72" fill="#8c0a8e"/>
<rect x="214.46" y="34.03" width="4.77" height="4.72" fill="#8c0a8e"/>
<rect x="220.33" y="34.03" width="4.77" height="4.72" fill="#8c0a8e"/>
<rect x="226.2" y="34.03" width="4.77" height="4.72" fill="#8c0a8e"/>
<rect x="232.07" y="34.03" width="4.77" height="4.72" fill="#8c0a8e"/>
<rect x="237.94" y="34.03" width="4.77" height="4.72" fill="#8c0a8e"/>
<rect x="243.81" y="34.03" width="4.77" height="4.72" fill="#8c0a8e"/>
<rect x="249.68" y="34.03" width="4.77" height="4.72" fill="#8c0a8e"/>
<rect x="255.55" y="34.03" width="4.77" height="4.72" fill="#8c0a8e"/>
<rect x="261.42" y="34.03" width="4.77" height="4.72" fill="#8c0a8e"/>
<rect x="267.29" y="34.03" width="4.77" height="4.72" fill="#8c0a8e"/>
<rect x="273.16" y="34.03" width="4.77" height="4.72" fill="#8a0044"/>
<rect x="279.03" y="34.03" width="4.77" height="4.72" fill="#8c0a8e"/>
<rect x="196.85" y="39.85" width="4.77" height="4.72" fill="#f564cc"/>
<rect x="202.72" y="39.85" width="4.77" height="4.72" fill="#8c0a8e"/>
<rect x="208.59" y="39.85" width="4.77" height="4.72" fill="#8a0044"/>
<rect x="214.46" y="39.85" width="4.77" height="4.72" fill="#8a0044"/>
<rect x="220.33" y="39.85" width="4.77" height="4.72" fill="#8a0044"/>
<rect x="226.2" y="39.85" width="4.77" height="4.72" fill="#8c0a8e"/>
<rect x="232.07" y="39.85" width="4.77" height="4.72" fill="#8a0044"/>
<rect x="237.94" y="39.85" width="4.77" height="4.72" fill="#8a0044"/>
<rect x="243.81" y="39.85" width="4.77" height="4.72" fill="#8c0a8e"/>
<rect x="249.68" y="39.85" width="4.77" height="4.72" fill="#8a0044"/>
<rect x="255.55" y="39.85" width="4.77" height="4.72" fill="#8a0044"/>
<rect x="261.42" y="39.85" width="4.77" height="4.72" fill="#8a0044"/>
<rect x="267.29" y="39.85" width="4.77" height="4.72" fill="#8a0044"/>
<rect x="273.16" y="39.85" width="4.77" height="4.72" fill="#8a0044"/>
<rect x="279.03" y="39.85" width="4.77" height="4.72" fill="#8a0044"/>
<rect x="196.85" y="45.67" width="4.77" height="4.72" fill="#ffffff"/>
<rect x="202.72" y="45.67" width="4.77" height="4.72" fill="#ffffff"/>
<rect x="208.59" y="45.67" width="4.77" height="4.72" fill="#f564cc"/>
<rect x="214.46" y="45.67" width="4.77" height="4.72" fill="#ffffff"/>
<rect x="220.33" y="45.67" width="4.77" height="4.72" fill="#f564cc"/>
<rect x="226.2" y="45.67" width="4.77" height="4.72" fill="#ffffff"/>
<rect x="232.07" y="45.67" width="4.77" height="4.72" fill="#ffffff"/>
<rect x="237.94" y="45.67" width="4.77" height="4.72" fill="#ffffff"/>
<rect x="243.81" y="45.67" width="4.77" height="4.72" fill="#ffffff"/>
<rect x="249.68" y="45.67" width="4.77" height="4.72" fill="#ffffff"/>
<rect x="255.55" y="45.67" width="4.77" height="4.72" fill="#f564cc"/>
<rect x="261.42" y="45.67" width="4.77" height="4.72" fill="#ffffff"/>
<rect x="267.29" y="45.67" width="4.77" height="4.72" fill="#ffffff"/>
<rect x="273.16" y="45.67" width="4.77" height="4.72" fill="#ffffff"/>
<rect x="279.03" y="45.67" width="4.77" height="4.72" fill="#ffffff"/>
<rect x="196.85" y="51.49" width="4.77" height="4.72" fill="#ffffff"/>
<rect x="202.72" y="51.49" width="4.77" height="4.72" fill="#ffffff"/>
<rect x="208.59" y="51.49" width="4.77" height="4.72" fill="#ffffff"/>
<rect x="214.46" y="51.49" width="4.77" height="4.72" fill="#ffffff"/>
<rect x="220.33" y="51.49" width="4.77" height="4.72" fill="#ffffff"/>
<rect x="226.2" y="51.49" width="4.77" height="4.72" fill="#f564cc"/>
<rect x="232.07" y="51.49" width="4.77" height="4.72" fill="#f564cc"/>
<rect x="237.94" y="51.49" width="4.77" height="4.72" fill="#ffffff"/>
<rect x="243.81" y="51.49" width="4.77" height="4.72" fill="#f564cc"/>
<rect x="249.68" y="51.49" width="4.77" height="4.72" fill="#f564cc"/>
<rect x="255.55" y="51.49" width="4.77" height="4.72" fill="#f564cc"/>
<rect x="261.42" y="51.49" width="4.77" height="4.72" fill="#ffffff"/>
<rect x="267.29" y="51.49" width="4.77" height="4.72" fill="#f564cc"/>
<rect x="273.16" y="51.49" width="4.77" height="4.72" fill="#ffffff"/>
<rect x="279.03" y="51.49" width="4.77" height="4.72" fill="#ffffff"/>
<rect x="196.85" y="57.31" width="4.77" height="4.72" fill="#ffffff"/>
<rect x="202.72" y="57.31" width="4.77" height="4.72" fill="#ffffff"/>
<rect x="208.59" y="57.31" width="4.77" height="4.72" fill="#ffffff"/>
<rect x="214.46" y="57.31" width="4.77" height="4.72" fill="#ffffff"/>
<rect x="220.33" y="57.31" width="4.77" height="4.72" fill="#ffffff"/>
<rect x="226.2" y="57.31" width="4.77" height="4.72" fill="#ffffff"/>
<rect x="232.07" y="57.31" width="4.77" height="4.72" fill="#ffffff"/>
<rect x="237.94" y="57.31" width="4.77" height="4.72" fill="#ffffff"/>
<rect x="243.81" y="57.31" width="4.77" height="4.72" fill="#ffffff"/>
<rect x="249.68" y="57.31" width="4.77" height="4.72" fill="#ffffff"/>
<rect x="255.55" y="57.31" width="4.77" height="4.72" fill="#f564cc"/>
<rect x="261.42" y="57.31" width="4.77" height="4.72" fill="#ffffff"/>
<rect x="267.29" y="57.31" width="4.77" height="4.72" fill="#ffffff"/>
<rect x="273.16" y="57.31" width="4.77" height="4.72" fill="#ffffff"/>
<rect x="279.03" y="57.31" width="4.77" height="4.72" fill="#ffffff"/>
<rect x="196.85" y="63.13" width="4.77" height="4.72" fill="#ffffff"/>
<rect x="202.72" y="63.13" width="4.77" height="4.72" fill="#ffffff"/>
<rect x="208.59" y="63.13" width="4.77" height="4.72" fill="#ffffff"/>
<rect x="214.46" y="63.13" width="4.77" height="4.72" fill="#ffffff"/>
<rect x="220.33" y="63.13" width="4.77" height="4.72" fill="#ffffff"/>
<rect x="226.2" y="63.13" width="4.77" height="4.72" fill="#ffffff"/>
<rect x="232.07" y="63.13" width="4.77" height="4.72" fill="#f564cc"/>
<rect x="237.94" y="63.13" width="4.77" height="4.72" fill="#ffffff"/>
<rect x="243.81" y="63.13" width="4.77" height="4.72" fill="#ffffff"/>
<rect x="249.68" y="63.13" width="4.77" height="4.72" fill="#f564cc"/>
<rect x="255.55" y="63.13" width="4.77" height="4.72" fill="#f564cc"/>
<rect x="261.42" y="63.13" width="4.77" height="4.72" fill="#ffffff"/>
<rect x="267.29" y="63.13" width="4.77" height="4.72" fill="#f564cc"/>
<rect x="273.16" y="63.13" width="4.77" height="4.72" fill="#f564cc"/>
<rect x="279.03" y="63.13" width="4.77" height="4.72" fill="#ffffff"/>
<rect x="196.85" y="68.95" width="4.77" height="4.72" fill="#ffffff"/>
<rect x="202.72" y="68.95" width="4.77" height="4.72" fill="#f564cc"/>
<rect x="208.59" y="68.95" width="4.77" height="4.72" fill="#f564cc"/>
<rect x="214.46" y="68.95" width="4.77" height="4.72" fill="#f564cc"/>
<rect x="220.33" y="68.95" width="4.77" height="4.72" fill="#f564cc"/>
<rect x="226.2" y="68.95" width="4.77" height="4.72" fill="#8a0044"/>
<rect x="232.07" y="68.95" width="4.77" height="4.72" fill="#8a0044"/>
<rect x="237.94" y="68.95" width="4.77" height="4.72" fill="#8a0044"/>
<rect x="243.81" y="68.95" width="4.77" height="4.72" fill="#8a0044"/>
<rect x="249.68" y="68.95" width="4.77" height="4.72" fill="#f564cc"/>
<rect x="255.55" y="68.95" width="4.77" height="4.72" fill="#f564cc"/>
<rect x="261.42" y="68.95" width="4.77" height="4.72" fill="#8a0044"/>
<rect x="267.29" y="68.95" width="4.77" height="4.72" fill="#f564cc"/>
<rect x="273.16" y="68.95" width="4.77" height="4.72" fill="#f564cc"/>
<rect x="279.03" y="68.95" width="4.77" height="4.72" fill="#f564cc"/>
<rect x="196.85" y="74.77" width="4.77" height="4.72" fill="#ffffff"/>
<rect x="202.72" y="74.77" width="4.77" height="4.72" fill="#ffffff"/>
<rect x="208.59" y="74.77" width="4.77" height="4.72" fill="#ffffff"/>
<rect x="214.46" y="74.77" width="4.77" height="4.72" fill="#ffffff"/>
<rect x="220.33" y="74.77" width="4.77" height="4.72" fill="#ffffff"/>
<rect x="226.2" y="74.77" width="4.77" height="4.72" fill="#ffffff"/>
<rect x="232.07" y="74.77" width="4.77" height="4.72" fill="#ffffff"/>
<rect x="237.94" y="74.77" width="4.77" height="4.72" fill="#ffffff"/>
<rect x="243.81" y="74.77" width="4.77" height="4.72" fill="#ffffff"/>
<rect x="249.68" y="74.77" width="4.77" height="4.72" fill="#ffffff"/>
<rect x="255.55" y="74.77" width="4.77" height="4.72" fill="#ffffff"/>
<rect x="261.42" y="74.77" width="4.77" height="4.72" fill="#ffffff"/>
<rect x="267.29" y="74.77" width="4.77" height="4.72" fill="#ffffff"/>
<rect x="273.16" y="74.77" width="4.77" height="4.72" fill="#ffffff"/>
<rect x="279.03" y="74.77" width="4.77" height="4.72" fill="#ffffff"/>
<rect x="196.85" y="80.59" width="4.77" height="4.72" fill="#f564cc"/>
<rect x="202.72" y="80.59" width="4.77" height="4.72" fill="#f564cc"/>
<rect x="208.59" y="80.59" width="4.77" height="4.72" fill="#f564cc"/>
<rect x="214.46" y="80.59" width="4.77" height="4.72" fill="#f564cc"/>
<rect x="220.33" y="80.59" width="4.77" height="4.72" fill="#f564cc"/>
<rect x="226.2" y="80.59" width="4.77" height="4.72" fill="#f564cc"/>
<rect x="232.07" y="80.59" width="4.77" height="4.72" fill="#f564cc"/>
<rect x="237.94" y="80.59" width="4.77" height="4.72" fill="#f564cc"/>
<rect x="243.81" y="80.59" width="4.77" height="4.72" fill="#f564cc"/>
<rect x="249.68" y="80.59" width="4.77" height="4.72" fill="#f564cc"/>
<rect x="255.55" y="80.59" width="4.77" height="4.72" fill="#f564cc"/>
<rect x="261.42" y="80.59" width="4.77" height="4.72" fill="#f564cc"/>
<rect x="267.29" y="80.59" width="4.77" height="4.72" fill="#f564cc"/>
<rect x="273.16" y="80.59" width="4.77" height="4.72" fill="#ffffff"/>
<rect x="279.03" y="80.59" width="4.77" height="4.72" fill="#f564cc"/>
<rect x="196.85" y="86.41" width="4.77" height="4.72" fill="#ffffff"/>
<rect x="202.72" y="86.41" width="4.77" height="4.72" fill="#ffffff"/>
<rect x="208.59" y="86.41" width="4.77" height="4.72" fill="#ffffff"/>
<rect x="214.46" y="86.41" width="4.77" height="4.72" fill="#ffffff"/>
<rect x="220.33" y="86.41" width="4.77" height="4.72" fill="#ffffff"/>
<rect x="226.2" y="86.41" width="4.77" height="4.72" fill="#ffffff"/>
<rect x="232.07" y="86.41" width="4.77" height="4.72" fill="#ffffff"/>
<rect x="237.94" y="86.41" width="4.77" height="4.72" fill="#f564cc"/>
<rect x="243.81" y="86.41" width="4.77" height="4.72" fill="#ffffff"/>
<rect x="249.68" y="86.41" width="4.77" height="4.72" fill="#ffffff"/>
<rect x="255.55" y="86.41" width="4.77" height="4.72" fill="#ffffff"/>
<rect x="261.42" y="86.41" width="4.77" height="4.72" fill="#ffffff"/>
<rect x="267.29" y="86.41" width="4.77" height="4.72" fill="#ffffff"/>
<rect x="273.16" y="86.41" width="4.77" height="4.72" fill="#ffffff"/>
<rect x="279.03" y="86.41" width="4.77" height="4.72" fill="#ffffff"/>
<rect x="196.85" y="92.23" width="4.77" height="4.72" fill="#ffffff"/>
<rect x="202.72" y="92.23" width="4.77" height="4.72" fill="#ffffff"/>
<rect x="208.59" y="92.23" width="4.77" height="4.72" fill="#f564cc"/>
<rect x="214.46" y="92.23" width="4.77" height="4.72" fill="#f564cc"/>
<rect x="220.33" y="92.23" width="4.77" height="4.72" fill="#ffffff"/>
<rect x="226.2" y="92.23" width="4.77" height="4.72" fill="#ffffff"/>
<rect x="232.07" y="92.23" width="4.77" height="4.72" fill="#ffffff"/>
<rect x="237.94" y="92.23" width="4.77" height="4.72" fill="#ffffff"/>
<rect x="243.81" y="92.23" width="4.77" height="4.72" fill="#ffffff"/>
<rect x="249.68" y="92.23" width="4.77" height="4.72" fill="#f564cc"/>
<rect x="255.55" y="92.23" width="4.77" height="4.72" fill="#ffffff"/>
<rect x="261.42" y="92.23" width="4.77" height="4.72" fill="#ffffff"/>
<rect x="267.29" y="92.23" width="4.77" height="4.72" fill="#ffffff"/>
<rect x="273.16" y="92.23" width="4.77" height="4.72" fill="#ffffff"/>
<rect x="279.03" y="92.23" width="4.77" height="4.72" fill="#ffffff"/>
<rect x="196.85" y="98.05" width="4.77" height="4.72" fill="#f564cc"/>
<rect x="202.72" y="98.05" width="4.77" height="4.72" fill="#f564cc"/>
<rect x="208.59" y="98.05" width="4.77" height="4.72" fill="#ffffff"/>
<rect x="214.46" y="98.05" width="4.77" height="4.72" fill="#f564cc"/>
<rect x="220.33" y="98.05" width="4.77" height="4.72" fill="#f564cc"/>
<rect x="226.2" y="98.05" width="4.77" height="4.72" fill="#ffffff"/>
<rect x="232.07" y="98.05" width="4.77" height="4.72" fill="#f564cc"/>
<rect x="237.94" y="98.05" width="4.77" height="4.72" fill="#ffffff"/>
<rect x="243.81" y="98.05" width="4.77" height="4.72" fill="#ffffff"/>
<rect x="249.68" y="98.05" width="4.77" height="4.72" fill="#f564cc"/>
<rect x="255.55" y="98.05" width="4.77" height="4.72" fill="#ffffff"/>
<rect x="261.42" y="98.05" width="4.77" height="4.72" fill="#ffffff"/>
<rect x="267.29" y="98.05" width="4.77" height="4.72" fill="#f564cc"/>
<rect x="273.16" y="98.05" width="4.77" height="4.72" fill="#ffffff"/>
<rect x="279.03" y="98.05" width="4.77" height="4.72" fill="#ffffff"/>
<rect x="196.85" y="103.87" width="4.77" height="4.72" fill="#f564cc"/>
<rect x="202.72" y="103.87" width="4.77" height="4.72" fill="#f564cc"/>
<rect x="208.59" y="103.87" width="4.77" height="4.72" fill="#f564cc"/>
<rect x="214.46" y="103.87" width="4.77" height="4.72" fill="#f564cc"/>
<rect x="220.33" y="103.87" width="4.77" height="4.72" fill="#f564cc"/>
<rect x="226.2" y="103.87" width="4.77" height="4.72" fill="#f564cc"/>
<rect x="232.07" y="103.87" width="4.77" height="4.72" fill="#f564cc"/>
<rect x="237.94" y="103.87" width="4.77" height="4.72" fill="#f564cc"/>
<rect x="243.81" y="103.87" width="4.77" height="4.72" fill="#f564cc"/>
<rect x="249.68" y="103.87" width="4.77" height="4.72" fill="#f564cc"/>
<rect x="255.55" y="103.87" width="4.77" height="4.72" fill="#f564cc"/>
<rect x="261.42" y="103.87" width="4.77" height="4.72" fill="#f564cc"/>
<rect x="267.29" y="103.87" width="4.77" height="4.72" fill="#f564cc"/>
<rect x="273.16" y="103.87" width="4.77" height="4.72" fill="#f564cc"/>
<rect x="279.03" y="103.87" width="4.77" height="4.72" fill="#f564cc"/>
<rect x="196.85" y="109.69" width="4.77" height="4.72" fill="#ffffff"/>
<rect x="202.72" y="109.69" width="4.77" height="4.72" fill="#8a0044"/>
<rect x="208.59" y="109.69" width="4.77" height="4.72" fill="#f564cc"/>
<rect x="214.46" y="109.69" width="4.77" height="4.72" fill="#f564cc"/>
<rect x="220.33" y="109.69" width="4.77" height="4.72" fill="#8a0044"/>
<rect x="226.2" y="109.69" width="4.77" height="4.72" fill="#8a0044"/>
<rect x="232.07" y="109.69" width="4.77" height="4.72" fill="#8a0044"/>
<rect x="237.94" y="109.69" width="4.77" height="4.72" fill="#f564cc"/>
<rect x="243.81" y="109.69" width="4.77" height="4.72" fill="#8a0044"/>
<rect x="249.68" y="109.69" width="4.77" height="4.72" fill="#8a0044"/>
<rect x="255.55" y="109.69" width="4.77" height="4.72" fill="#8a0044"/>
<rect x="261.42" y="109.69" width="4.77" height="4.72" fill="#f564cc"/>
<rect x="267.29" y="109.69" width="4.77" height="4.72" fill="#8a0044"/>
<rect x="273.16" y="109.69" width="4.77" height="4.72" fill="#8a0044"/>
<rect x="279.03" y="109.69" width="4.77" height="4.72" fill="#8a0044"/>
<rect x="196.85" y="115.51" width="4.77" height="4.72" fill="#ffffff"/>
<rect x="202.72" y="115.51" width="4.77" height="4.72" fill="#f564cc"/>
<rect x="208.59" y="115.51" width="4.77" height="4.72" fill="#ffffff"/>
<rect x="214.46" y="115.51" width="4.77" height="4.72" fill="#ffffff"/>
<rect x="220.33" y="115.51" width="4.77" height="4.72" fill="#ffffff"/>
<rect x="226.2" y="115.51" width="4.77" height="4.72" fill="#f564cc"/>
<rect x="232.07" y="115.51" width="4.77" height="4.72" fill="#f564cc"/>
<rect x="237.94" y="115.51" width="4.77" height="4.72" fill="#f564cc"/>
<rect x="243.81" y="115.51" width="4.77" height="4.72" fill="#f564cc"/>
<rect x="249.68" y="115.51" width="4.77" height="4.72" fill="#ffffff"/>
<rect x="255.55" y="115.51" width="4.77" height="4.72" fill="#f564cc"/>
<rect x="261.42" y="115.51" width="4.77" height="4.72" fill="#ffffff"/>
<rect x="267.29" y="115.51" width="4.77" height="4.72" fill="#f564cc"/>
<rect x="273.16" y="115.51" width="4.77" height="4.72" fill="#f564cc"/>
<rect x="279.03" y="115.51" width="4.77" height="4.72" fill="#f564cc"/>
<rect x="196.85" y="121.33" width="4.77" height="4.72" fill="#f564cc"/>
<rect x="202.72" y="121.33" width="4.77" height="4.72" fill="#8a0044"/>
<rect x="208.59" y="121.33" width="4.77" height="4.72" fill="#8a0044"/>
<rect x="214.46" y="121.33" width="4.77" height="4.72" fill="#8a0044"/>
<rect x="220.33" y="121.33" width="4.77" height="4.72" fill="#8a0044"/>
<rect x="226.2" y="121.33" width="4.77" height="4.72" fill="#8a0044"/>
<rect x="232.07" y="121.33" width="4.77" height="4.72" fill="#8c0a8e"/>
<rect x="237.94" y="121.33" width="4.77" height="4.72" fill="#8a0044"/>
<rect x="243.81" y="121.33" width="4.77" height="4.72" fill="#8a0044"/>
<rect x="249.68" y="121.33" width="4.77" height="4.72" fill="#8a0044"/>
<rect x="255.55" y="121.33" width="4.77" height="4.72" fill="#8a0044"/>
<rect x="261.42" y="121.33" width="4.77" height="4.72" fill="#8a0044"/>
<rect x="267.29" y="121.33" width="4.77" height="4.72" fill="#8a0044"/>
<rect x="273.16" y="121.33" width="4.77" height="4.72" fill="#8a0044"/>
<rect x="279.03" y="121.33" width="4.77" height="4.72" fill="#8a0044"/>
<rect x="196.85" y="127.15" width="4.77" height="4.72" fill="#ffffff"/>
<rect x="202.72" y="127.15" width="4.77" height="4.72" fill="#f564cc"/>
<rect x="208.59" y="127.15" width="4.77" height="4.72" fill="#f564cc"/>
<rect x="214.46" y="127.15" width="4.77" height="4.72" fill="#f564cc"/>
<rect x="220.33" y="127.15" width="4.77" height="4.72" fill="#ffffff"/>
<rect x="226.2" y="127.15" width="4.77" height="4.72" fill="#8a0044"/>
<rect x="232.07" y="127.15" width="4.77" height="4.72" fill="#8a0044"/>
<rect x="237.94" y="127.15" width="4.77" height="4.72" fill="#8a0044"/>
<rect x="243.81" y="127.15" width="4.77" height="4.72" fill="#8a0044"/>
<rect x="249.68" y="127.15" width="4.77" height="4.72" fill="#f564cc"/>
<rect x="255.55" y="127.15" width="4.77" height="4.72" fill="#f564cc"/>
<rect x="261.42" y="127.15" width="4.77" height="4.72" fill="#f564cc"/>
<rect x="267.29" y="127.15" width="4.77" height="4.72" fill="#f564cc"/>
<rect x="273.16" y="127.15" width="4.77" height="4.72" fill="#f564cc"/>
<rect x="279.03" y="127.15" width="4.77" height="4.72" fill="#ffffff"/>
<rect x="196.85" y="132.97" width="4.77" height="4.72" fill="#f564cc"/>
<rect x="202.72" y="132.97" width="4.77" height="4.72" fill="#8a0044"/>
<rect x="208.59" y="132.97" width="4.77" height="4.72" fill="#ffffff"/>
<rect x="214.46" y="132.97" width="4.77" height="4.72" fill="#8a0044"/>
<rect x="220.33" y="132.97" width="4.77" height="4.72" fill="#8a0044"/>
<rect x="226.2" y="132.97" width="4.77" height="4.72" fill="#8a0044"/>
<rect x="232.07" y="132.97" width="4.77" height="4.72" fill="#8a0044"/>
<rect x="237.94" y="132.97" width="4.77" height="4.72" fill="#f564cc"/>
<rect x="243.81" y="132.97" width="4.77" height="4.72" fill="#8a0044"/>
<rect x="249.68" y="132.97" width="4.77" height="4.72" fill="#f564cc"/>
<rect x="255.55" y="132.97" width="4.77" height="4.72" fill="#8a0044"/>
<rect x="261.42" y="132.97" width="4.77" height="4.72" fill="#f564cc"/>
<rect x="267.29" y="132.97" width="4.77" height="4.72" fill="#8a0044"/>
<rect x="273.16" y="132.97" width="4.77" height="4.72" fill="#8a0044"/>
<rect x="279.03" y="132.97" width="4.77" height="4.72" fill="#8a0044"/>
<rect x="196.85" y="138.79" width="4.77" height="4.72" fill="#f564cc"/>
<rect x="202.72" y="138.79" width="4.77" height="4.72" fill="#f564cc"/>
<rect x="208.59" y="138.79" width="4.77" height="4.72" fill="#f564cc"/>
<rect x="214.46" y="138.79" width="4.77" height="4.72" fill="#8a0044"/>
<rect x="220.33" y="138.79" width="4.77" height="4.72" fill="#8a0044"/>
<rect x="226.2" y="138.79" width="4.77" height="4.72" fill="#f564cc"/>
<rect x="232.07" y="138.79" width="4.77" height="4.72" fill="#8a0044"/>
<rect x="237.94" y="138.79" width="4.77" height="4.72" fill="#f564cc"/>
<rect x="243.81" y="138.79" width="4.77" height="4.72" fill="#f564cc"/>
<rect x="249.68" y="138.79" width="4.77" height="4.72" fill="#8a0044"/>
<rect x="255.55" y="138.79" width="4.77" height="4.72" fill="#8a0044"/>
<rect x="261.42" y="138.79" width="4.77" height="4.72" fill="#8a0044"/>
<rect x="267.29" y="138.79" width="4.77" height="4.72" fill="#8a0044"/>
<rect x="273.16" y="138.79" width="4.77" height="4.72" fill="#8a0044"/>
<rect x="279.03" y="138.79" width="4.77" height="4.72" fill="#ffffff"/>
<rect x="196.85" y="144.61" width="4.77" height="4.72" fill="#f564cc"/>
<rect x="202.72" y="144.61" width="4.77" height="4.72" fill="#8a0044"/>
<rect x="208.59" y="144.61" width="4.77" height="4.72" fill="#8a0044"/>
<rect x="214.46" y="144.61" width="4.77" height="4.72" fill="#f564cc"/>
<rect x="220.33" y="144.61" width="4.77" height="4.72" fill="#8a0044"/>
<rect x="226.2" y="144.61" width="4.77" height="4.72" fill="#8a0044"/>
<rect x="232.07" y="144.61" width="4.77" height="4.72" fill="#8a0044"/>
<rect x="237.94" y="144.61" width="4.77" height="4.72" fill="#8a0044"/>
<rect x="243.81" y="144.61" width="4.77" height="4.72" fill="#8a0044"/>
<rect x="249.68" y="144.61" width="4.77" height="4.72" fill="#8a0044"/>
<rect x="255.55" y="144.61" width="4.77" height="4.72" fill="#8a0044"/>
<rect x="261.42" y="144.61" width="4.77" height="4.72" fill="#8a0044"/>
<rect x="267.29" y="144.61" width="4.77" height="4.72" fill="#8a0044"/>
<rect x="273.16" y="144.61" width="4.77" height="4.72" fill="#8a0044"/>
<rect x="279.03" y="144.61" width="4.77" height="4.72" fill="#8a0044"/>
<rect x="196.85" y="150.43" width="4.77" height="4.72" fill="#ffffff"/>
<rect x="202.72" y="150.43" width="4.77" height="4.72" fill="#f564cc"/>
<rect x="208.59" y="150.43" width="4.77" height="4.72" fill="#f564cc"/>
<rect x="214.46" y="150.43" width="4.77" height="4.72" fill="#f564cc"/>
<rect x="220.33" y="150.43" width="4.77" height="4.72" fill="#f564cc"/>
<rect x="226.2" y="150.43" width="4.77" height="4.72" fill="#f564cc"/>
<rect x="232.07" y="150.43" width="4.77" height="4.72" fill="#8a0044"/>
<rect x="237.94" y="150.43" width="4.77" height="4.72" fill="#8a0044"/>
<rect x="243.81" y="150.43" width="4.77" height="4.72" fill="#f564cc"/>
<rect x="249.68" y="150.43" width="4.77" height="4.72" fill="#f564cc"/>
<rect x="255.55" y="150.43" width="4.77" height="4.72" fill="#f564cc"/>
<rect x="261.42" y="150.43" width="4.77" height="4.72" fill="#f564cc"/>
<rect x="267.29" y="150.43" width="4.77" height="4.72" fill="#f564cc"/>
<rect x="273.16" y="150.43" width="4.77" height="4.72" fill="#f564cc"/>
<rect x="279.03" y="150.43" width="4.77" height="4.72" fill="#f564cc"/>
<rect x="196.85" y="156.25" width="4.77" height="4.72" fill="#f564cc"/>
<rect x="202.72" y="156.25" width="4.77" height="4.72" fill="#8a0044"/>
<rect x="208.59" y="156.25" width="4.77" height="4.72" fill="#8a0044"/>
<rect x="214.46" y="156.25" width="4.77" height="4.72" fill="#8a0044"/>
<rect x="220.33" y="156.25" width="4.77" height="4.72" fill="#8a0044"/>
<rect x="226.2" y="156.25" width="4.77" height="4.72" fill="#8c0a8e"/>
<rect x="232.07" y="156.25" width="4.77" height="4.72" fill="#8c0a8e"/>
<rect x="237.94" y="156.25" width="4.77" height="4.72" fill="#8c0a8e"/>
<rect x="243.81" y="156.25" width="4.77" height="4.72" fill="#8c0a8e"/>
<rect x="249.68" y="156.25" width="4.77" height="4.72" fill="#8a0044"/>
<rect x="255.55" y="156.25" width="4.77" height="4.72" fill="#8a0044"/>
<rect x="261.42" y="156.25" width="4.77" height="4.72" fill="#8a0044"/>
<rect x="267.29" y="156.25" width="4.77" height="4.72" fill="#8a0044"/>
<rect x="273.16" y="156.25" width="4.77" height="4.72" fill="#8a0044"/>
<rect x="279.03" y="156.25" width="4.77" height="4.72" fill="#8a0044"/>
<rect x="196.85" y="162.07" width="4.77" height="4.72" fill="#f564cc"/>
<rect x="202.72" y="162.07" width="4.77" height="4.72" fill="#8a0044"/>
<rect x="208.59" y="162.07" width="4.77" height="4.72" fill="#f564cc"/>
<rect x="214.46" y="162.07" width="4.77" height="4.72" fill="#f564cc"/>
<rect x="220.33" y="162.07" width="4.77" height="4.72" fill="#f564cc"/>
<rect x="226.2" y="162.07" width="4.77" height="4.72" fill="#8a0044"/>
<rect x="232.07" y="162.07" width="4.77" height="4.72" fill="#8a0044"/>
<rect x="237.94" y="162.07" width="4.77" height="4.72" fill="#8a0044"/>
<rect x="243.81" y="162.07" width="4.77" height="4.72" fill="#8a0044"/>
<rect x="249.68" y="162.07" width="4.77" height="4.72" fill="#8a0044"/>
<rect x="255.55" y="162.07" width="4.77" height="4.72" fill="#8a0044"/>
<rect x="261.42" y="162.07" width="4.77" height="4.72" fill="#f564cc"/>
<rect x="267.29" y="162.07" width="4.77" height="4.72" fill="#8a0044"/>
<rect x="273.16" y="162.07" width="4.77" height="4.72" fill="#f564cc"/>
<rect x="279.03" y="162.07" width="4.77" height="4.72" fill="#f564cc"/>
<rect x="196.85" y="167.89" width="4.77" height="4.72" fill="#8c0a8e"/>
<rect x="202.72" y="167.89" width="4.77" height="4.72" fill="#050005"/>
<rect x="208.59" y="167.89" width="4.77" height="4.72" fill="#050005"/>
<rect x="214.46" y="167.89" width="4.77" height="4.72" fill="#050005"/>
<rect x="220.33" y="167.89" width="4.77" height="4.72" fill="#050005"/>
<rect x="226.2" y="167.89" width="4.77" height="4.72" fill="#050005"/>
<rect x="232.07" y="167.89" width="4.77" height="4.72" fill="#050005"/>
<rect x="237.94" y="167.89" width="4.77" height="4.72" fill="#050005"/>
<rect x="243.81" y="167.89" width="4.77" height="4.72" fill="#050005"/>
<rect x="249.68" y="167.89" width="4.77" height="4.72" fill="#050005"/>
<rect x="255.55" y="167.89" width="4.77" height="4.72" fill="#050005"/>
<rect x="261.42" y="167.89" width="4.77" height="4.72" fill="#050005"/>
<rect x="267.29" y="167.89" width="4.77" height="4.72" fill="#050005"/>
<rect x="273.16" y="167.89" width="4.77" height="4.72" fill="#050005"/>
<rect x="279.03" y="167.89" width="4.77" height="4.72" fill="#050005"/>
<rect x="196.85" y="173.71" width="4.77" height="4.72" fill="#ffffff"/>
<rect x="202.72" y="173.71" width="4.77" height="4.72" fill="#f564cc"/>
<rect x="208.59" y="173.71" width="4.77" height="4.72" fill="#ffffff"/>
<rect x="214.46" y="173.71" width="4.77" height="4.72" fill="#f564cc"/>
<rect x="220.33" y="173.71" width="4.77" height="4.72" fill="#f564cc"/>
<rect x="226.2" y="173.71" width="4.77" height="4.72" fill="#ffffff"/>
<rect x="232.07" y="173.71" width="4.77" height="4.72" fill="#f564cc"/>
<rect x="237.94" y="173.71" width="4.77" height="4.72" fill="#ffffff"/>
<rect x="243.81" y="173.71" width="4.77" height="4.72" fill="#f564cc"/>
<rect x="249.68" y="173.71" width="4.77" height="4.72" fill="#f564cc"/>
<rect x="255.55" y="173.71" width="4.77" height="4.72" fill="#f564cc"/>
<rect x="261.42" y="173.71" width="4.77" height="4.72" fill="#ffffff"/>
<rect x="267.29" y="173.71" width="4.77" height="4.72" fill="#f564cc"/>
<rect x="273.16" y="173.71" width="4.77" height="4.72" fill="#f564cc"/>
<rect x="279.03" y="173.71" width="4.77" height="4.72" fill="#f564cc"/>
<rect x="196.85" y="179.53" width="4.77" height="4.72" fill="#ffffff"/>
<rect x="202.72" y="179.53" width="4.77" height="4.72" fill="#f564cc"/>
<rect x="208.59" y="179.53" width="4.77" height="4.72" fill="#f564cc"/>
<rect x="214.46" y="179.53" width="4.77" height="4.72" fill="#f564cc"/>
<rect x="220.33" y="179.53" width="4.77" height="4.72" fill="#f564cc"/>
<rect x="226.2" y="179.53" width="4.77" height="4.72" fill="#f564cc"/>
<rect x="232.07" y="179.53" width="4.77" height="4.72" fill="#f564cc"/>
<rect x="237.94" y="179.53" width="4.77" height="4.72" fill="#f564cc"/>
<rect x="243.81" y="179.53" width="4.77" height="4.72" fill="#f564cc"/>
<rect x="249.68" y="179.53" width="4.77" height="4.72" fill="#f564cc"/>
<rect x="255.55" y="179.53" width="4.77" height="4.72" fill="#f564cc"/>
<rect x="261.42" y="179.53" width="4.77" height="4.72" fill="#f564cc"/>
<rect x="267.29" y="179.53" width="4.77" height="4.72" fill="#f564cc"/>
<rect x="273.16" y="179.53" width="4.77" height="4.72" fill="#f564cc"/>
<rect x="279.03" y="179.53" width="4.77" height="4.72" fill="#f564cc"/>
<rect x="196.85" y="185.35" width="4.77" height="4.72" fill="#ffffff"/>
<rect x="202.72" y="185.35" width="4.77" height="4.72" fill="#f564cc"/>
<rect x="208.59" y="185.35" width="4.77" height="4.72" fill="#f564cc"/>
<rect x="214.46" y="185.35" width="4.77" height="4.72" fill="#f564cc"/>
<rect x="220.33" y="185.35" width="4.77" height="4.72" fill="#8a0044"/>
<rect x="226.2" y="185.35" width="4.77" height="4.72" fill="#8a0044"/>
<rect x="232.07" y="185.35" width="4.77" height="4.72" fill="#8a0044"/>
<rect x="237.94" y="185.35" width="4.77" height="4.72" fill="#8a0044"/>
<rect x="243.81" y="185.35" width="4.77" height="4.72" fill="#8a0044"/>
<rect x="249.68" y="185.35" width="4.77" height="4.72" fill="#f564cc"/>
<rect x="255.55" y="185.35" width="4.77" height="4.72" fill="#8a0044"/>
<rect x="261.42" y="185.35" width="4.77" height="4.72" fill="#f564cc"/>
<rect x="267.29" y="185.35" width="4.77" height="4.72" fill="#8a0044"/>
<rect x="273.16" y="185.35" width="4.77" height="4.72" fill="#8a0044"/>
<rect x="279.03" y="185.35" width="4.77" height="4.72" fill="#f564cc"/>
<rect x="196.85" y="191.17" width="4.77" height="4.72" fill="#8c0a8e"/>
<rect x="202.72" y="191.17" width="4.77" height="4.72" fill="#8c0a8e"/>
<rect x="208.59" y="191.17" width="4.77" height="4.72" fill="#8a0044"/>
<rect x="214.46" y="191.17" width="4.77" height="4.72" fill="#8a0044"/>
<rect x="220.33" y="191.17" width="4.77" height="4.72" fill="#8a0044"/>
<rect x="226.2" y="191.17" width="4.77" height="4.72" fill="#8c0a8e"/>
<rect x="232.07" y="191.17" width="4.77" height="4.72" fill="#8c0a8e"/>
<rect x="237.94" y="191.17" width="4.77" height="4.72" fill="#8c0a8e"/>
<rect x="243.81" y="191.17" width="4.77" height="4.72" fill="#8c0a8e"/>
<rect x="249.68" y="191.17" width="4.77" height="4.72" fill="#8c0a8e"/>
<rect x="255.55" y="191.17" width="4.77" height="4.72" fill="#8a0044"/>
<rect x="261.42" y="191.17" width="4.77" height="4.72" fill="#8a0044"/>
<rect x="267.29" y="191.17" width="4.77" height="4.72" fill="#8a0044"/>
<rect x="273.16" y="191.17" width="4.77" height="4.72" fill="#8a0044"/>
<rect x="279.03" y="191.17" width="4.77" height="4.72" fill="#8a0044"/>
<rect x="196.85" y="196.99" width="4.77" height="4.72" fill="#ffffff"/>
<rect x="202.72" y="196.99" width="4.77" height="4.72" fill="#ffffff"/>
<rect x="208.59" y="196.99" width="4.77" height="4.72" fill="#ffffff"/>
<rect x="214.46" y="196.99" width="4.77" height="4.72" fill="#ffffff"/>
<rect x="220.33" y="196.99" width="4.77" height="4.72" fill="#ffffff"/>
<rect x="226.2" y="196.99" width="4.77" height="4.72" fill="#ffffff"/>
<rect x="232.07" y="196.99" width="4.77" height="4.72" fill="#ffffff"/>
<rect x="237.94" y="196.99" width="4.77" height="4.72" fill="#ffffff"/>
<rect x="243.81" y="196.99" width="4.77" height="4.72" fill="#ffffff"/>
<rect x="249.68" y="196.99" width="4.77" height="4.72" fill="#ffffff"/>
<rect x="255.55" y="196.99" width="4.77" height="4.72" fill="#ffffff"/>
<rect x="261.42" y="196.99" width="4.77" height="4.72" fill="#ffffff"/>
<rect x="267.29" y="196.99" width="4.77" height="4.72" fill="#ffffff"/>
<rect x="273.16" y="196.99" width="4.77" height="4.72" fill="#ffffff"/>
<rect x="279.03" y="196.99" width="4.77" height="4.72" fill="#ffffff"/>
<rect x="196.85" y="202.81" width="4.77" height="4.72" fill="#f564cc"/>
<rect x="202.72" y="202.81" width="4.77" height="4.72" fill="#f564cc"/>
<rect x="208.59" y="202.81" width="4.77" height="4.72" fill="#8a0044"/>
<rect x="214.46" y="202.81" width="4.77" height="4.72" fill="#8a0044"/>
<rect x="220.33" y="202.81" width="4.77" height="4.72" fill="#f564cc"/>
<rect x="226.2" y="202.81" width="4.77" height="4.72" fill="#f564cc"/>
<rect x="232.07" y="202.81" width="4.77" height="4.72" fill="#8a0044"/>
<rect x="237.94" y="202.81" width="4.77" height="4.72" fill="#f564cc"/>
<rect x="243.81" y="202.81" width="4.77" height="4.72" fill="#f564cc"/>
<rect x="249.68" y="202.81" width="4.77" height="4.72" fill="#f564cc"/>
<rect x="255.55" y="202.81" width="4.77" height="4.72" fill="#f564cc"/>
<rect x="261.42" y="202.81" width="4.77" height="4.72" fill="#8a0044"/>
<rect x="267.29" y="202.81" width="4.77" height="4.72" fill="#f564cc"/>
<rect x="273.16" y="202.81" width="4.77" height="4.72" fill="#f564cc"/>
<rect x="279.03" y="202.81" width="4.77" height="4.72" fill="#8a0044"/>
<rect x="196.85" y="208.63" width="4.77" height="4.72" fill="#f564cc"/>
<rect x="202.72" y="208.63" width="4.77" height="4.72" fill="#f564cc"/>
<rect x="208.59" y="208.63" width="4.77" height="4.72" fill="#f564cc"/>
<rect x="214.46" y="208.63" width="4.77" height="4.72" fill="#8a0044"/>
<rect x="220.33" y="208.63" width="4.77" height="4.72" fill="#f564cc"/>
<rect x="226.2" y="208.63" width="4.77" height="4.72" fill="#f564cc"/>
<rect x="232.07" y="208.63" width="4.77" height="4.72" fill="#f564cc"/>
<rect x="237.94" y="208.63" width="4.77" height="4.72" fill="#8c0a8e"/>
<rect x="243.81" y="208.63" width="4.77" height="4.72" fill="#f564cc"/>
<rect x="249.68" y="208.63" width="4.77" height="4.72" fill="#f564cc"/>
<rect x="255.55" y="208.63" width="4.77" height="4.72" fill="#f564cc"/>
<rect x="261.42" y="208.63" width="4.77" height="4.72" fill="#f564cc"/>
<rect x="267.29" y="208.63" width="4.77" height="4.72" fill="#ffffff"/>
<rect x="273.16" y="208.63" width="4.77" height="4.72" fill="#f564cc"/>
<rect x="279.03" y="208.63" width="4.77" height="4.72" fill="#f564cc"/>
<rect x="196.85" y="214.45" width="4.77" height="4.72" fill="#ffffff"/>
<rect x="202.72" y="214.45" width="4.77" height="4.72" fill="#ffffff"/>
<rect x="208.59" y="214.45" width="4.77" height="4.72" fill="#f564cc"/>
<rect x="214.46" y="214.45" width="4.77" height="4.72" fill="#f564cc"/>
<rect x="220.33" y="214.45" width="4.77" height="4.72" fill="#ffffff"/>
<rect x="226.2" y="214.45" width="4.77" height="4.72" fill="#ffffff"/>
<rect x="232.07" y="214.45" width="4.77" height="4.72" fill="#ffffff"/>
<rect x="237.94" y="214.45" width="4.77" height="4.72" fill="#ffffff"/>
<rect x="243.81" y="214.45" width="4.77" height="4.72" fill="#ffffff"/>
<rect x="249.68" y="214.45" width="4.77" height="4.72" fill="#ffffff"/>
<rect x="255.55" y="214.45" width="4.77" height="4.72" fill="#ffffff"/>
<rect x="261.42" y="214.45" width="4.77" height="4.72" fill="#f564cc"/>
<rect x="267.29" y="214.45" width="4.77" height="4.72" fill="#ffffff"/>
<rect x="273.16" y="214.45" width="4.77" height="4.72" fill="#ffffff"/>
<rect x="279.03" y="214.45" width="4.77" height="4.72" fill="#ffffff"/>
<rect x="196.85" y="220.27" width="4.77" height="4.72" fill="#8a0044"/>
<rect x="202.72" y="220.27" width="4.77" height="4.72" fill="#8a0044"/>
<rect x="208.59" y="220.27" width="4.77" height="4.72" fill="#8c0a8e"/>
<rect x="214.46" y="220.27" width="4.77" height="4.72" fill="#8a0044"/>
<rect x="220.33" y="220.27" width="4.77" height="4.72" fill="#8a0044"/>
<rect x="226.2" y="220.27" width="4.77" height="4.72" fill="#8a0044"/>
<rect x="232.07" y="220.27" width="4.77" height="4.72" fill="#8a0044"/>
<rect x="237.94" y="220.27" width="4.77" height="4.72" fill="#f564cc"/>
<rect x="243.81" y="220.27" width="4.77" height="4.72" fill="#8a0044"/>
<rect x="249.68" y="220.27" width="4.77" height="4.72" fill="#8a0044"/>
<rect x="255.55" y="220.27" width="4.77" height="4.72" fill="#8a0044"/>
<rect x="261.42" y="220.27" width="4.77" height="4.72" fill="#ffffff"/>
<rect x="267.29" y="220.27" width="4.77" height="4.72" fill="#f564cc"/>
<rect x="273.16" y="220.27" width="4.77" height="4.72" fill="#8a0044"/>
<rect x="279.03" y="220.27" width="4.77" height="4.72" fill="#8a0044"/>
<rect x="196.85" y="226.09" width="4.77" height="4.72" fill="#ffffff"/>
<rect x="202.72" y="226.09" width="4.77" height="4.72" fill="#ffffff"/>
<rect x="208.59" y="226.09" width="4.77" height="4.72" fill="#ffffff"/>
<rect x="214.46" y="226.09" width="4.77" height="4.72" fill="#ffffff"/>
<rect x="220.33" y="226.09" width="4.77" height="4.72" fill="#ffffff"/>
<rect x="226.2" y="226.09" width="4.77" height="4.72" fill="#ffffff"/>
<rect x="232.07" y="226.09" width="4.77" height="4.72" fill="#ffffff"/>
<rect x="237.94" y="226.09" width="4.77" height="4.72" fill="#ffffff"/>
<rect x="243.81" y="226.09" width="4.77" height="4.72" fill="#ffffff"/>
<rect x="249.68" y="226.09" width="4.77" height="4.72" fill="#ffffff"/>
<rect x="255.55" y="226.09" width="4.77" height="4.72" fill="#ffffff"/>
<rect x="261.42" y="226.09" width="4.77" height="4.72" fill="#ffffff"/>
<rect x="267.29" y="226.09" width="4.77" height="4.72" fill="#ffffff"/>
<rect x="273.16" y="226.09" width="4.77" height="4.72" fill="#ffffff"/>
<rect x="279.03" y="226.09" width="4.77" height="4.72" fill="#ffffff"/>
<rect x="196.85" y="231.91" width="4.77" height="4.72" fill="#f564cc"/>
<rect x="202.72" y="231.91" width="4.77" height="4.72" fill="#8a0044"/>
<rect x="208.59" y="231.91" width="4.77" height="4.72" fill="#8a0044"/>
<rect x="214.46" y="231.91" width="4.77" height="4.72" fill="#8a0044"/>
<rect x="220.33" y="231.91" width="4.77" height="4.72" fill="#8a0044"/>
<rect x="226.2" y="231.91" width="4.77" height="4.72" fill="#8a0044"/>
<rect x="232.07" y="231.91" width="4.77" height="4.72" fill="#8a0044"/>
<rect x="237.94" y="231.91" width="4.77" height="4.72" fill="#8a0044"/>
<rect x="243.81" y="231.91" width="4.77" height="4.72" fill="#8a0044"/>
<rect x="249.68" y="231.91" width="4.77" height="4.72" fill="#8a0044"/>
<rect x="255.55" y="231.91" width="4.77" height="4.72" fill="#8a0044"/>
<rect x="261.42" y="231.91" width="4.77" height="4.72" fill="#f564cc"/>
<rect x="267.29" y="231.91" width="4.77" height="4.72" fill="#ffffff"/>
<rect x="273.16" y="231.91" width="4.77" height="4.72" fill="#8a0044"/>
<rect x="279.03" y="231.91" width="4.77" height="4.72" fill="#8a0044"/>
<rect x="196.85" y="237.73" width="4.77" height="4.72" fill="#f564cc"/>
<rect x="202.72" y="237.73" width="4.77" height="4.72" fill="#f564cc"/>
<rect x="208.59" y="237.73" width="4.77" height="4.72" fill="#f564cc"/>
<rect x="214.46" y="237.73" width="4.77" height="4.72" fill="#f564cc"/>
<rect x="220.33" y="237.73" width="4.77" height="4.72" fill="#f564cc"/>
<rect x="226.2" y="237.73" width="4.77" height="4.72" fill="#f564cc"/>
<rect x="232.07" y="237.73" width="4.77" height="4.72" fill="#f564cc"/>
<rect x="237.94" y="237.73" width="4.77" height="4.72" fill="#ffffff"/>
<rect x="243.81" y="237.73" width="4.77" height="4.72" fill="#f564cc"/>
<rect x="249.68" y="237.73" width="4.77" height="4.72" fill="#f564cc"/>
<rect x="255.55" y="237.73" width="4.77" height="4.72" fill="#f564cc"/>
<rect x="261.42" y="237.73" width="4.77" height="4.72" fill="#f564cc"/>
<rect x="267.29" y="237.73" width="4.77" height="4.72" fill="#ffffff"/>
<rect x="273.16" y="237.73" width="4.77" height="4.72" fill="#f564cc"/>
<rect x="279.03" y="237.73" width="4.77" height="4.72" fill="#f564cc"/>
<rect x="196.85" y="243.55" width="4.77" height="4.72" fill="#ffffff"/>
<rect x="202.72" y="243.55" width="4.77" height="4.72" fill="#ffffff"/>
<rect x="208.59" y="243.55" width="4.77" height="4.72" fill="#ffffff"/>
<rect x="214.46" y="243.55" width="4.77" height="4.72" fill="#ffffff"/>
<rect x="220.33" y="243.55" width="4.77" height="4.72" fill="#ffffff"/>
<rect x="226.2" y="243.55" width="4.77" height="4.72" fill="#ffffff"/>
<rect x="232.07" y="243.55" width="4.77" height="4.72" fill="#ffffff"/>
<rect x="237.94" y="243.55" width="4.77" height="4.72" fill="#ffffff"/>
<rect x="243.81" y="243.55" width="4.77" height="4.72" fill="#ffffff"/>
<rect x="249.68" y="243.55" width="4.77" height="4.72" fill="#ffffff"/>
<rect x="255.55" y="243.55" width="4.77" height="4.72" fill="#ffffff"/>
<rect x="261.42" y="243.55" width="4.77" height="4.72" fill="#ffffff"/>
<rect x="267.29" y="243.55" width="4.77" height="4.72" fill="#ffffff"/>
<rect x="273.16" y="243.55" width="4.77" height="4.72" fill="#ffffff"/>
<rect x="279.03" y="243.55" width="4.77" height="4.72" fill="#ffffff"/>
<rect x="196.85" y="249.37" width="4.77" height="4.72" fill="#f564cc"/>
<rect x="202.72" y="249.37" width="4.77" height="4.72" fill="#ffffff"/>
<rect x="208.59" y="249.37" width="4.77" height="4.72" fill="#f564cc"/>
<rect x="214.46" y="249.37" width="4.77" height="4.72" fill="#f564cc"/>
<rect x="220.33" y="249.37" width="4.77" height="4.72" fill="#f564cc"/>
<rect x="226.2" y="249.37" width="4.77" height="4.72" fill="#f564cc"/>
<rect x="232.07" y="249.37" width="4.77" height="4.72" fill="#f564cc"/>
<rect x="237.94" y="249.37" width="4.77" height="4.72" fill="#ffffff"/>
<rect x="243.81" y="249.37" width="4.77" height="4.72" fill="#f564cc"/>
<rect x="249.68" y="249.37" width="4.77" height="4.72" fill="#f564cc"/>
<rect x="255.55" y="249.37" width="4.77" height="4.72" fill="#f564cc"/>
<rect x="261.42" y="249.37" width="4.77" height="4.72" fill="#f564cc"/>
<rect x="267.29" y="249.37" width="4.77" height="4.72" fill="#ffffff"/>
<rect x="273.16" y="249.37" width="4.77" height="4.72" fill="#f564cc"/>
<rect x="279.03" y="249.37" width="4.77" height="4.72" fill="#ffffff"/>
<line x1="225.65" y1="9" x2="225.65" y2="254.64" stroke="#000" stroke-width="1.6"/>
<line x1="255" y1="9" x2="255" y2="254.64" stroke="#000" stroke-width="1.6"/>
<line x1="193.6" y1="13.11" x2="196.3" y2="13.11" stroke="#222" stroke-width="0.7"/>
<text x="193.2" y="14.56" font-size="4" font-weight="bold" text-anchor="end" fill="#2a2a2a">Eotaxin</text>
<line x1="193.6" y1="18.93" x2="196.3" y2="18.93" stroke="#222" stroke-width="0.7"/>
<text x="193.2" y="20.38" font-size="4" font-weight="bold" text-anchor="end" fill="#2a2a2a">G-CSF</text>
<line x1="193.6" y1="24.75" x2="196.3" y2="24.75" stroke="#222" stroke-width="0.7"/>
<text x="193.2" y="26.2" font-size="4" font-weight="bold" text-anchor="end" fill="#2a2a2a">GM-CSF</text>
<line x1="193.6" y1="30.57" x2="196.3" y2="30.57" stroke="#222" stroke-width="0.7"/>
<text x="193.2" y="32.02" font-size="4" font-weight="bold" text-anchor="end" fill="#2a2a2a">IFN&#947;</text>
<line x1="193.6" y1="36.39" x2="196.3" y2="36.39" stroke="#222" stroke-width="0.7"/>
<text x="193.2" y="37.84" font-size="4" font-weight="bold" text-anchor="end" fill="#2a2a2a">IL-1&#945;</text>
<line x1="193.6" y1="42.21" x2="196.3" y2="42.21" stroke="#222" stroke-width="0.7"/>
<text x="193.2" y="43.66" font-size="4" font-weight="bold" text-anchor="end" fill="#2a2a2a">IL-1&#946;</text>
<line x1="193.6" y1="48.03" x2="196.3" y2="48.03" stroke="#222" stroke-width="0.7"/>
<text x="193.2" y="49.48" font-size="4" font-weight="bold" text-anchor="end" fill="#2a2a2a">IL-2</text>
<line x1="193.6" y1="53.85" x2="196.3" y2="53.85" stroke="#222" stroke-width="0.7"/>
<text x="193.2" y="55.3" font-size="4" font-weight="bold" text-anchor="end" fill="#2a2a2a">IL-3</text>
<line x1="193.6" y1="59.67" x2="196.3" y2="59.67" stroke="#222" stroke-width="0.7"/>
<text x="193.2" y="61.12" font-size="4" font-weight="bold" text-anchor="end" fill="#2a2a2a">IL-4</text>
<line x1="193.6" y1="65.49" x2="196.3" y2="65.49" stroke="#222" stroke-width="0.7"/>
<text x="193.2" y="66.94" font-size="4" font-weight="bold" text-anchor="end" fill="#2a2a2a">IL-5</text>
<line x1="193.6" y1="71.31" x2="196.3" y2="71.31" stroke="#222" stroke-width="0.7"/>
<text x="193.2" y="72.76" font-size="4" font-weight="bold" text-anchor="end" fill="#2a2a2a">IL-6</text>
<line x1="193.6" y1="77.13" x2="196.3" y2="77.13" stroke="#222" stroke-width="0.7"/>
<text x="193.2" y="78.58" font-size="4" font-weight="bold" text-anchor="end" fill="#2a2a2a">IL-7</text>
<line x1="193.6" y1="82.95" x2="196.3" y2="82.95" stroke="#222" stroke-width="0.7"/>
<text x="193.2" y="84.4" font-size="4" font-weight="bold" text-anchor="end" fill="#2a2a2a">IL-9</text>
<line x1="193.6" y1="88.77" x2="196.3" y2="88.77" stroke="#222" stroke-width="0.7"/>
<text x="193.2" y="90.22" font-size="4" font-weight="bold" text-anchor="end" fill="#2a2a2a">IL-10</text>
<line x1="193.6" y1="94.59" x2="196.3" y2="94.59" stroke="#222" stroke-width="0.7"/>
<text x="193.2" y="96.04" font-size="4" font-weight="bold" text-anchor="end" fill="#2a2a2a">IL-12p40</text>
<line x1="193.6" y1="100.41" x2="196.3" y2="100.41" stroke="#222" stroke-width="0.7"/>
<text x="193.2" y="101.86" font-size="4" font-weight="bold" text-anchor="end" fill="#2a2a2a">IL-12p70</text>
<line x1="193.6" y1="106.23" x2="196.3" y2="106.23" stroke="#222" stroke-width="0.7"/>
<text x="193.2" y="107.68" font-size="4" font-weight="bold" text-anchor="end" fill="#2a2a2a">IL-13</text>
<line x1="193.6" y1="112.05" x2="196.3" y2="112.05" stroke="#222" stroke-width="0.7"/>
<text x="193.2" y="113.5" font-size="4" font-weight="bold" text-anchor="end" fill="#2a2a2a">IL-17</text>
<line x1="193.6" y1="117.87" x2="196.3" y2="117.87" stroke="#222" stroke-width="0.7"/>
<text x="193.2" y="119.32" font-size="4" font-weight="bold" text-anchor="end" fill="#2a2a2a">IP-10</text>
<line x1="193.6" y1="123.69" x2="196.3" y2="123.69" stroke="#222" stroke-width="0.7"/>
<text x="193.2" y="125.14" font-size="4" font-weight="bold" text-anchor="end" fill="#2a2a2a">KC</text>
<line x1="193.6" y1="129.51" x2="196.3" y2="129.51" stroke="#222" stroke-width="0.7"/>
<text x="193.2" y="130.96" font-size="4" font-weight="bold" text-anchor="end" fill="#2a2a2a">LIF</text>
<line x1="193.6" y1="135.33" x2="196.3" y2="135.33" stroke="#222" stroke-width="0.7"/>
<text x="193.2" y="136.78" font-size="4" font-weight="bold" text-anchor="end" fill="#2a2a2a">LIX</text>
<line x1="193.6" y1="141.15" x2="196.3" y2="141.15" stroke="#222" stroke-width="0.7"/>
<text x="193.2" y="142.6" font-size="4" font-weight="bold" text-anchor="end" fill="#2a2a2a">M-CSF</text>
<line x1="193.6" y1="146.97" x2="196.3" y2="146.97" stroke="#222" stroke-width="0.7"/>
<text x="193.2" y="148.42" font-size="4" font-weight="bold" text-anchor="end" fill="#2a2a2a">MCP-1</text>
<line x1="193.6" y1="152.79" x2="196.3" y2="152.79" stroke="#222" stroke-width="0.7"/>
<text x="193.2" y="154.24" font-size="4" font-weight="bold" text-anchor="end" fill="#2a2a2a">MIG</text>
<line x1="193.6" y1="158.61" x2="196.3" y2="158.61" stroke="#222" stroke-width="0.7"/>
<text x="193.2" y="160.06" font-size="4" font-weight="bold" text-anchor="end" fill="#2a2a2a">MIP-1&#945;</text>
<line x1="193.6" y1="164.43" x2="196.3" y2="164.43" stroke="#222" stroke-width="0.7"/>
<text x="193.2" y="165.88" font-size="4" font-weight="bold" text-anchor="end" fill="#2a2a2a">MIP-1&#946;</text>
<line x1="193.6" y1="170.25" x2="196.3" y2="170.25" stroke="#222" stroke-width="0.7"/>
<text x="193.2" y="171.7" font-size="4" font-weight="bold" text-anchor="end" fill="#2a2a2a">MIP-2</text>
<line x1="193.6" y1="176.07" x2="196.3" y2="176.07" stroke="#222" stroke-width="0.7"/>
<text x="193.2" y="177.52" font-size="4" font-weight="bold" text-anchor="end" fill="#2a2a2a">RANTES</text>
<line x1="193.6" y1="181.89" x2="196.3" y2="181.89" stroke="#222" stroke-width="0.7"/>
<text x="193.2" y="183.34" font-size="4" font-weight="bold" text-anchor="end" fill="#2a2a2a">TNF&#945;</text>
<line x1="193.6" y1="187.71" x2="196.3" y2="187.71" stroke="#222" stroke-width="0.7"/>
<text x="193.2" y="189.16" font-size="4" font-weight="bold" text-anchor="end" fill="#2a2a2a">VEGF</text>
<line x1="193.6" y1="193.53" x2="196.3" y2="193.53" stroke="#222" stroke-width="0.7"/>
<text x="193.2" y="194.98" font-size="4" font-weight="bold" text-anchor="end" fill="#2a2a2a">6Ckine/Exodus 2</text>
<line x1="193.6" y1="199.35" x2="196.3" y2="199.35" stroke="#222" stroke-width="0.7"/>
<text x="193.2" y="200.8" font-size="4" font-weight="bold" text-anchor="end" fill="#2a2a2a">EPO</text>
<line x1="193.6" y1="205.17" x2="196.3" y2="205.17" stroke="#222" stroke-width="0.7"/>
<text x="193.2" y="206.62" font-size="4" font-weight="bold" text-anchor="end" fill="#2a2a2a">Fractalkine</text>
<line x1="193.6" y1="210.99" x2="196.3" y2="210.99" stroke="#222" stroke-width="0.7"/>
<text x="193.2" y="212.44" font-size="4" font-weight="bold" text-anchor="end" fill="#2a2a2a">IFN&#946;-1</text>
<line x1="193.6" y1="216.81" x2="196.3" y2="216.81" stroke="#222" stroke-width="0.7"/>
<text x="193.2" y="218.26" font-size="4" font-weight="bold" text-anchor="end" fill="#2a2a2a">IL-11</text>
<line x1="193.6" y1="222.63" x2="196.3" y2="222.63" stroke="#222" stroke-width="0.7"/>
<text x="193.2" y="224.08" font-size="4" font-weight="bold" text-anchor="end" fill="#2a2a2a">IL-16</text>
<line x1="193.6" y1="228.45" x2="196.3" y2="228.45" stroke="#222" stroke-width="0.7"/>
<text x="193.2" y="229.9" font-size="4" font-weight="bold" text-anchor="end" fill="#2a2a2a">IL-20</text>
<line x1="193.6" y1="234.27" x2="196.3" y2="234.27" stroke="#222" stroke-width="0.7"/>
<text x="193.2" y="235.72" font-size="4" font-weight="bold" text-anchor="end" fill="#2a2a2a">MCP-5</text>
<line x1="193.6" y1="240.09" x2="196.3" y2="240.09" stroke="#222" stroke-width="0.7"/>
<text x="193.2" y="241.54" font-size="4" font-weight="bold" text-anchor="end" fill="#2a2a2a">MDC</text>
<line x1="193.6" y1="245.91" x2="196.3" y2="245.91" stroke="#222" stroke-width="0.7"/>
<text x="193.2" y="247.36" font-size="4" font-weight="bold" text-anchor="end" fill="#2a2a2a">MIP-3&#945;</text>
<line x1="193.6" y1="251.73" x2="196.3" y2="251.73" stroke="#222" stroke-width="0.7"/>
<text x="193.2" y="253.18" font-size="4" font-weight="bold" text-anchor="end" fill="#2a2a2a">MIP-3&#946;</text>
<line x1="197.7" y1="261.4" x2="224.6" y2="261.4" stroke="#888" stroke-width="0.6"/>
<line x1="226" y1="261.4" x2="253.2" y2="261.4" stroke="#888" stroke-width="0.6"/>
<line x1="254.6" y1="261.4" x2="284.5" y2="261.4" stroke="#888" stroke-width="0.6"/>
<text x="0" y="0" transform="translate(215.29 264) rotate(-90)" font-size="8.3" font-weight="bold" text-anchor="end" fill="#000" stroke="#000" stroke-width="0.18">WT</text>
<text x="0" y="0" transform="translate(243.39 264) rotate(-90)" font-size="8.3" font-weight="bold" text-anchor="end" fill="#000" stroke="#000" stroke-width="0.18">&#916;<tspan font-style="italic">cna</tspan></text>
<text x="0" y="0" transform="translate(270.59 264) rotate(-90)" font-size="8.3" font-weight="bold" text-anchor="end" fill="#000" stroke="#000" stroke-width="0.18">comp <tspan font-style="italic">cna</tspan></text>
<rect x="290.6" y="10.2" width="6.8" height="81.4" fill="#ffffff"/>
<rect x="290.6" y="91.6" width="6.8" height="40.7" fill="#f564cc"/>
<rect x="290.6" y="132.3" width="6.8" height="40.7" fill="#8a0044"/>
<rect x="290.6" y="173" width="6.8" height="40.7" fill="#8c0a8e"/>
<rect x="290.6" y="213.7" width="6.8" height="40.7" fill="#000000"/>
<line x1="291.1" y1="50.9" x2="296.9" y2="50.9" stroke="#ddd" stroke-width="0.6"/>
<rect x="290.6" y="10.2" width="6.8" height="244.2" fill="none" stroke="#7a7a7a" stroke-width="0.9"/>
<line x1="291.1" y1="30.5" x2="292.4" y2="30.5" stroke="#111" stroke-width="0.7"/>
<line x1="295.6" y1="30.5" x2="296.9" y2="30.5" stroke="#111" stroke-width="0.7"/>
<line x1="291.1" y1="71.2" x2="292.4" y2="71.2" stroke="#111" stroke-width="0.7"/>
<line x1="295.6" y1="71.2" x2="296.9" y2="71.2" stroke="#111" stroke-width="0.7"/>
<line x1="291.1" y1="112" x2="292.4" y2="112" stroke="#111" stroke-width="0.7"/>
<line x1="295.6" y1="112" x2="296.9" y2="112" stroke="#111" stroke-width="0.7"/>
<line x1="291.1" y1="152.6" x2="292.4" y2="152.6" stroke="#111" stroke-width="0.7"/>
<line x1="295.6" y1="152.6" x2="296.9" y2="152.6" stroke="#111" stroke-width="0.7"/>
<line x1="291.1" y1="193.3" x2="292.4" y2="193.3" stroke="#111" stroke-width="0.7"/>
<line x1="295.6" y1="193.3" x2="296.9" y2="193.3" stroke="#111" stroke-width="0.7"/>
<line x1="291.1" y1="234" x2="292.4" y2="234" stroke="#111" stroke-width="0.7"/>
<line x1="295.6" y1="234" x2="296.9" y2="234" stroke="#111" stroke-width="0.7"/>
<text x="299.2" y="72.65" font-size="4.1" font-weight="bold" text-anchor="start" fill="#555">0 - 1.00</text>
<text x="299.2" y="113.45" font-size="4.1" font-weight="bold" text-anchor="start" fill="#555">1.10 - 2.40</text>
<text x="299.2" y="154.05" font-size="4.1" font-weight="bold" text-anchor="start" fill="#555">2.41 - 3.36</text>
<text x="299.2" y="194.75" font-size="4.1" font-weight="bold" text-anchor="start" fill="#555">3.37 - 4.08</text>
<text x="299.2" y="235.45" font-size="4.1" font-weight="bold" text-anchor="start" fill="#555">4.09 - 5.00</text>
<text x="171.1" y="309.8" font-size="27" font-weight="bold" text-anchor="start" fill="#000" stroke="#000" stroke-width="0.3">e</text>
<circle cx="216.3" cy="316.1" r="6.9" fill="#cfc2da" filter="url(#b05)"/>
<circle cx="216.3" cy="316.1" r="6.5" fill="#bdadcd" stroke="#a898b8" stroke-width="0.5" stroke-dasharray="0.8 0.6"/>
<circle cx="216.3" cy="316.1" r="3.25" fill="#9c86ac" filter="url(#b05)"/>
<circle cx="233.8" cy="322.5" r="6.8" fill="#cfc2da" filter="url(#b05)"/>
<circle cx="233.8" cy="322.5" r="6.4" fill="#bdadcd" stroke="#a898b8" stroke-width="0.5" stroke-dasharray="0.8 0.6"/>
<circle cx="233.8" cy="322.5" r="3.2" fill="#9c86ac" filter="url(#b05)"/>
<circle cx="212.8" cy="333" r="7.2" fill="#cfc2da" filter="url(#b05)"/>
<circle cx="212.8" cy="333" r="6.8" fill="#bdadcd" stroke="#a898b8" stroke-width="0.5" stroke-dasharray="0.8 0.6"/>
<circle cx="212.8" cy="333" r="3.4" fill="#9c86ac" filter="url(#b05)"/>
<circle cx="222.7" cy="326" r="7" fill="#cfc2da" filter="url(#b05)"/>
<circle cx="222.7" cy="326" r="6.6" fill="#bdadcd" stroke="#a898b8" stroke-width="0.5" stroke-dasharray="0.8 0.6"/>
<circle cx="222.7" cy="326" r="3.3" fill="#9c86ac" filter="url(#b05)"/>
<text x="190.8" y="331.6" font-size="6.8" font-weight="bold" text-anchor="middle" fill="#000" stroke="#000" stroke-width="0.15">MMP-12</text>
<text x="193.6" y="341.6" font-size="6.6" font-weight="bold" text-anchor="middle" fill="#000" stroke="#000" stroke-width="0.15">LTA<tspan font-size="4.5" dy="1.2">4</tspan><tspan dy="-1.2">H</tspan></text>
<text x="237.5" y="336.7" font-size="6.2" font-weight="bold" text-anchor="middle" fill="#000" stroke="#000" stroke-width="0.14">LTB4</text>
<text x="303" y="330.4" font-size="6.3" font-weight="bold" text-anchor="middle" fill="#000" stroke="#000" stroke-width="0.14">IL-8</text>
<text x="289" y="372.7" font-size="6.2" font-weight="bold" text-anchor="middle" fill="#000" stroke="#000" stroke-width="0.14">CXCR1/2</text>
<text x="298.6" y="405.6" font-size="6" font-weight="bold" text-anchor="middle" fill="#000" stroke="#000" stroke-width="0.13">BLT1</text>
<text x="194.4" y="393.4" font-size="6.5" font-weight="bold" text-anchor="middle" fill="#000" stroke="#000" stroke-width="0.14">Pro-gly-Pro</text>
<text x="201" y="426.8" font-size="4" font-weight="bold" text-anchor="middle" fill="#000">Prolyl endopeptidase</text>
<text x="274" y="457.8" font-size="5.4" font-weight="bold" text-anchor="middle" fill="#000">Collagen cleaved by</text>
<text x="274" y="463.6" font-size="5.4" font-weight="bold" text-anchor="middle" fill="#000">neutrophil MMP-9</text>
<circle cx="249.5" cy="335.52" r="0.62" fill="#1f8a6a"/>
<circle cx="253.58" cy="334.7" r="0.62" fill="#1f8a6a"/>
<circle cx="255.91" cy="331.56" r="0.62" fill="#1f8a6a"/>
<circle cx="259.99" cy="335.87" r="0.62" fill="#1f8a6a"/>
<circle cx="245.43" cy="338.78" r="0.62" fill="#1f8a6a"/>
<circle cx="248.92" cy="339.94" r="0.62" fill="#1f8a6a"/>
<circle cx="251.83" cy="338.2" r="0.62" fill="#1f8a6a"/>
<circle cx="257.08" cy="338.78" r="0.62" fill="#1f8a6a"/>
<circle cx="239.02" cy="343.44" r="0.62" fill="#1f8a6a"/>
<circle cx="242.52" cy="341.69" r="0.62" fill="#1f8a6a"/>
<circle cx="245.43" cy="342.86" r="0.62" fill="#1f8a6a"/>
<circle cx="248.34" cy="341.69" r="0.62" fill="#1f8a6a"/>
<circle cx="251.25" cy="341.11" r="0.62" fill="#1f8a6a"/>
<circle cx="254.16" cy="342.86" r="0.62" fill="#1f8a6a"/>
<circle cx="258.24" cy="343.44" r="0.62" fill="#1f8a6a"/>
<circle cx="235.53" cy="345.19" r="0.62" fill="#1f8a6a"/>
<circle cx="237.86" cy="346" r="0.62" fill="#1f8a6a"/>
<circle cx="241.93" cy="344.6" r="0.62" fill="#1f8a6a"/>
<circle cx="245.43" cy="345.19" r="0.62" fill="#1f8a6a"/>
<circle cx="248.34" cy="346.35" r="0.62" fill="#1f8a6a"/>
<circle cx="251.83" cy="345.54" r="0.62" fill="#1f8a6a"/>
<circle cx="255.33" cy="345.77" r="0.62" fill="#1f8a6a"/>
<circle cx="261.15" cy="346.35" r="0.62" fill="#1f8a6a"/>
<circle cx="241.93" cy="347.52" r="0.62" fill="#1f8a6a"/>
<circle cx="245.43" cy="348.1" r="0.62" fill="#1f8a6a"/>
<circle cx="252.42" cy="348.68" r="0.62" fill="#1f8a6a"/>
<circle cx="258.24" cy="349.26" r="0.62" fill="#1f8a6a"/>
<circle cx="250.09" cy="351.59" r="0.62" fill="#1f8a6a"/>
<circle cx="257.08" cy="352.76" r="0.62" fill="#1f8a6a"/>
<circle cx="258.24" cy="355.32" r="0.62" fill="#1f8a6a"/>
<circle cx="247.76" cy="343.44" r="0.62" fill="#1f8a6a"/>
<circle cx="254.75" cy="339.94" r="0.62" fill="#1f8a6a"/>
<circle cx="239.6" cy="345.19" r="0.62" fill="#1f8a6a"/>
<circle cx="244.85" cy="346.93" r="0.62" fill="#1f8a6a"/>
<circle cx="258.82" cy="341.11" r="0.62" fill="#1f8a6a"/>
<circle cx="304.5" cy="334.85" r="1.5" fill="#d98aa2"/>
<circle cx="315.95" cy="337.14" r="1.5" fill="#d98aa2"/>
<circle cx="298.21" cy="338.66" r="1.5" fill="#d98aa2"/>
<circle cx="293.05" cy="342.48" r="1.5" fill="#d98aa2"/>
<circle cx="306.03" cy="341.91" r="1.6" fill="#b01e4e"/>
<circle cx="312.52" cy="341.53" r="1.5" fill="#d98aa2"/>
<circle cx="300.31" cy="345.73" r="1.5" fill="#d98aa2"/>
<circle cx="304.31" cy="348.59" r="1.6" fill="#b01e4e"/>
<circle cx="310.04" cy="347.82" r="1.6" fill="#b01e4e"/>
<circle cx="319.2" cy="347.82" r="1.5" fill="#d98aa2"/>
<circle cx="294.96" cy="352.6" r="1.5" fill="#d98aa2"/>
<circle cx="302.21" cy="355.46" r="1.5" fill="#d98aa2"/>
<circle cx="307.94" cy="355.46" r="1.5" fill="#d98aa2"/>
<circle cx="315.57" cy="354.12" r="1.5" fill="#d98aa2"/>
<circle cx="311.6" cy="379.1" r="5.5" fill="#1d8a78"/>
<circle cx="311.6" cy="379.1" r="3.2" fill="#2a9a88" filter="url(#b05)"/>
<circle cx="304.9" cy="389" r="5.5" fill="#1d8a78"/>
<circle cx="304.9" cy="389" r="3.2" fill="#2a9a88" filter="url(#b05)"/>
<circle cx="322.4" cy="386.7" r="5.5" fill="#1d8a78"/>
<circle cx="322.4" cy="386.7" r="3.2" fill="#2a9a88" filter="url(#b05)"/>
<circle cx="314.8" cy="395.9" r="5.5" fill="#1d8a78"/>
<circle cx="314.8" cy="395.9" r="3.2" fill="#2a9a88" filter="url(#b05)"/>
<circle cx="297.3" cy="382.5" r="1.2" fill="#c04070"/>
<line x1="297.6" y1="383.5" x2="300.5" y2="386" stroke="#7090b0" stroke-width="0.5"/>
<path d="M296.3 392.5 L297.6 394.5 L299 392.5 M297.6 394.5 L297.6 396" stroke="#5080b0" stroke-width="0.6" fill="none"/>
<path d="M240.5 325.5 Q262 327 285 330.4" fill="none" stroke="#222" stroke-width="0.6"/>
<polygon points="287,330.6 284.56,328.91 284.26,331.75" fill="#222"/>
<path d="M306 355.5 L306 371.5" fill="none" stroke="#222" stroke-width="0.6"/>
<polygon points="306,374 307.43,371.4 304.57,371.4" fill="#222"/>
<path d="M241.5 345 Q246 370 289 392.5" fill="none" stroke="#222" stroke-width="0.6"/>
<polygon points="291.2,394 289.8,391.38 288.24,393.78" fill="#222"/>
<path d="M214 393.4 L281 401.2" fill="none" stroke="#222" stroke-width="0.9"/>
<polygon points="284.5,401.6 281.34,399.35 280.91,403.07" fill="#222"/>
<path d="M314 404 Q308 425 299.5 440" fill="none" stroke="#222" stroke-width="0.6"/>
<polygon points="298.3,442.6 300.78,440.98 298.26,439.63" fill="#222"/>
<path d="M247 434.5 Q222 425 214.2 399" fill="none" stroke="#333" stroke-width="0.5"/>
<polygon points="213.8,396.2 212.84,399.01 215.66,398.51" fill="#333"/>
<path d="M194.4 341.6 C198 352, 214 369, 238 394" fill="none" stroke="#777" stroke-width="0.45"/>
<path d="M237 392.6 L244.6 400.2 M244.6 392.6 L237 400.2" stroke="#c94a4a" stroke-width="2.3" stroke-linecap="butt"/>
<ellipse cx="278.9" cy="440.3" rx="2.6" ry="3.4" transform="rotate(20 278.9 440.3)" fill="none" stroke="#c8952a" stroke-width="1"/>
<ellipse cx="284.4" cy="436.4" rx="3" ry="3.4" transform="rotate(-30 284.4 436.4)" fill="none" stroke="#c8952a" stroke-width="1"/>
<ellipse cx="288.5" cy="441.8" rx="3.6" ry="3.2" transform="rotate(10 288.5 441.8)" fill="none" stroke="#c8952a" stroke-width="1"/>
<ellipse cx="284.2" cy="446.6" rx="3.2" ry="2.8" transform="rotate(-20 284.2 446.6)" fill="none" stroke="#c8952a" stroke-width="1"/>
<ellipse cx="281.5" cy="443" rx="2.2" ry="2.6" transform="rotate(40 281.5 443)" fill="none" stroke="#c8952a" stroke-width="1"/>
<path d="M256 433.5 q3 -1.5 5 0.5" fill="none" stroke="#c8952a" stroke-width="1" stroke-linecap="round"/>
<path d="M253 437 q-1.5 2 0 4" fill="none" stroke="#c8952a" stroke-width="1" stroke-linecap="round"/>
<path d="M258 437.5 q2 1 1 3.5" fill="none" stroke="#c8952a" stroke-width="1" stroke-linecap="round"/>
<path d="M251.5 443 q0 2.5 2.5 3" fill="none" stroke="#c8952a" stroke-width="1" stroke-linecap="round"/>
<path d="M255.5 442 q2 -2 3.5 0" fill="none" stroke="#c8952a" stroke-width="1" stroke-linecap="round"/>
<path d="M262.5 433.5 l2.5 4" fill="none" stroke="#c8952a" stroke-width="1" stroke-linecap="round"/>
<path d="M266.5 434 q-1 3 -3.5 4" fill="none" stroke="#c8952a" stroke-width="1" stroke-linecap="round"/>
<path d="M263 440 q1 3 -0.5 5" fill="none" stroke="#c8952a" stroke-width="1" stroke-linecap="round"/>
<path d="M266 441.5 q2 1 1 3.5" fill="none" stroke="#c8952a" stroke-width="1" stroke-linecap="round"/>
<path d="M264 448.5 q3 0 5.5 -1.5" fill="none" stroke="#c8952a" stroke-width="1" stroke-linecap="round"/>
<path d="M253 449.5 q2 2 4 0.5" fill="none" stroke="#c8952a" stroke-width="1" stroke-linecap="round"/>
<path d="M258.5 446 q-1 2 -2.5 2.5" fill="none" stroke="#c8952a" stroke-width="1" stroke-linecap="round"/>
<path d="M260 442 l1 3" fill="none" stroke="#c8952a" stroke-width="1" stroke-linecap="round"/>
<text x="320.4" y="32.6" font-size="27" font-weight="bold" text-anchor="start" fill="#000" stroke="#000" stroke-width="0.3">f</text>
<rect x="367.1" y="92.55" width="16.8" height="13.25" fill="#4d4d4d" stroke="#1a1a1a" stroke-width="0.7"/>
<rect x="392.6" y="55.34" width="16.8" height="50.46" fill="#fe0000" stroke="#1a1a1a" stroke-width="0.7"/>
<rect x="418.6" y="82.06" width="16.8" height="23.74" fill="#6ccbfb" stroke="#1a1a1a" stroke-width="0.7"/>
<line x1="375.5" y1="98.91" x2="375.5" y2="85.77" stroke="#222" stroke-width="0.8"/>
<line x1="371.25" y1="85.77" x2="379.75" y2="85.77" stroke="#222" stroke-width="0.8"/>
<line x1="371.25" y1="98.91" x2="379.75" y2="98.91" stroke="#222" stroke-width="0.8"/>
<line x1="401" y1="62.34" x2="401" y2="48.56" stroke="#222" stroke-width="0.8"/>
<line x1="396.75" y1="48.56" x2="405.25" y2="48.56" stroke="#222" stroke-width="0.8"/>
<line x1="396.75" y1="62.34" x2="405.25" y2="62.34" stroke="#222" stroke-width="0.8"/>
<line x1="427" y1="92.44" x2="427" y2="70.5" stroke="#222" stroke-width="0.8"/>
<line x1="422.75" y1="70.5" x2="431.25" y2="70.5" stroke="#222" stroke-width="0.8"/>
<line x1="422.75" y1="92.44" x2="431.25" y2="92.44" stroke="#222" stroke-width="0.8"/>
<circle cx="369" cy="87.25" r="1.9" fill="#4d4d4d" stroke="#1a1a1a" stroke-width="0.6"/>
<circle cx="375.5" cy="86.83" r="1.9" fill="#4d4d4d" stroke="#1a1a1a" stroke-width="0.6"/>
<circle cx="382" cy="87.99" r="1.9" fill="#4d4d4d" stroke="#1a1a1a" stroke-width="0.6"/>
<circle cx="372.5" cy="99.12" r="1.9" fill="#4d4d4d" stroke="#1a1a1a" stroke-width="0.6"/>
<circle cx="378.7" cy="99.12" r="1.9" fill="#4d4d4d" stroke="#1a1a1a" stroke-width="0.6"/>
<circle cx="401" cy="44.85" r="1.9" fill="#fe0000" stroke="#1a1a1a" stroke-width="0.6"/>
<circle cx="401" cy="53.44" r="1.9" fill="#fe0000" stroke="#1a1a1a" stroke-width="0.6"/>
<circle cx="395" cy="58.1" r="1.9" fill="#fe0000" stroke="#1a1a1a" stroke-width="0.6"/>
<circle cx="401" cy="57.57" r="1.9" fill="#fe0000" stroke="#1a1a1a" stroke-width="0.6"/>
<circle cx="407" cy="58.31" r="1.9" fill="#fe0000" stroke="#1a1a1a" stroke-width="0.6"/>
<circle cx="427" cy="65.84" r="1.9" fill="#6ccbfb" stroke="#1a1a1a" stroke-width="0.6"/>
<circle cx="427" cy="74.32" r="1.9" fill="#6ccbfb" stroke="#1a1a1a" stroke-width="0.6"/>
<circle cx="420.5" cy="89.58" r="1.9" fill="#6ccbfb" stroke="#1a1a1a" stroke-width="0.6"/>
<circle cx="427" cy="89.05" r="1.9" fill="#6ccbfb" stroke="#1a1a1a" stroke-width="0.6"/>
<circle cx="433.5" cy="89.58" r="1.9" fill="#6ccbfb" stroke="#1a1a1a" stroke-width="0.6"/>
<line x1="358.2" y1="21" x2="358.2" y2="105.8" stroke="#333" stroke-width="0.9"/>
<line x1="358.2" y1="105.8" x2="444.3" y2="105.8" stroke="#555" stroke-width="1"/>
<line x1="355.2" y1="105.8" x2="358.2" y2="105.8" stroke="#333" stroke-width="0.7"/>
<text x="354.8" y="107.45" font-size="4.55" font-weight="bold" text-anchor="end" fill="#222">0</text>
<line x1="355.2" y1="84.6" x2="358.2" y2="84.6" stroke="#333" stroke-width="0.7"/>
<text x="354.8" y="86.25" font-size="4.55" font-weight="bold" text-anchor="end" fill="#222">20000</text>
<line x1="355.2" y1="63.4" x2="358.2" y2="63.4" stroke="#333" stroke-width="0.7"/>
<text x="354.8" y="65.05" font-size="4.55" font-weight="bold" text-anchor="end" fill="#222">40000</text>
<line x1="355.2" y1="42.2" x2="358.2" y2="42.2" stroke="#333" stroke-width="0.7"/>
<text x="354.8" y="43.85" font-size="4.55" font-weight="bold" text-anchor="end" fill="#222">60000</text>
<line x1="355.2" y1="21" x2="358.2" y2="21" stroke="#333" stroke-width="0.7"/>
<text x="354.8" y="22.65" font-size="4.55" font-weight="bold" text-anchor="end" fill="#222">80000</text>
<line x1="375.5" y1="105.8" x2="375.5" y2="107.8" stroke="#555" stroke-width="0.8"/>
<line x1="401" y1="105.8" x2="401" y2="107.8" stroke="#555" stroke-width="0.8"/>
<line x1="427" y1="105.8" x2="427" y2="107.8" stroke="#555" stroke-width="0.8"/>
<text x="0" y="0" transform="translate(332.55 65.5) rotate(-90)" font-size="8.2" font-weight="bold" text-anchor="middle" fill="#000" stroke="#000" stroke-width="0.18">MMP-2 pg/mL</text>
<text x="0" y="0" transform="translate(378.89 110.9) rotate(-90)" font-size="8.3" font-weight="bold" text-anchor="end" fill="#000" stroke="#000" stroke-width="0.18">WT</text>
<text x="0" y="0" transform="translate(404.39 110.9) rotate(-90)" font-size="8.3" font-weight="bold" text-anchor="end" fill="#000" stroke="#000" stroke-width="0.18">&#916;<tspan font-style="italic">cna</tspan></text>
<text x="0" y="0" transform="translate(429.39 110.9) rotate(-90)" font-size="8.3" font-weight="bold" text-anchor="end" fill="#000" stroke="#000" stroke-width="0.18">comp <tspan font-style="italic">cna</tspan></text>
<line x1="375.5" y1="28.6" x2="427" y2="28.6" stroke="#666" stroke-width="0.6"/>
<line x1="375.5" y1="28.6" x2="375.5" y2="30.8" stroke="#666" stroke-width="0.6"/>
<line x1="427" y1="28.6" x2="427" y2="30.8" stroke="#666" stroke-width="0.6"/>
<text x="401.25" y="26.7" font-size="4.5" font-weight="normal" text-anchor="middle" fill="#555">ns</text>
<line x1="375.5" y1="38.1" x2="400" y2="38.1" stroke="#666" stroke-width="0.6"/>
<line x1="402" y1="38.1" x2="427" y2="38.1" stroke="#666" stroke-width="0.6"/>
<line x1="375.5" y1="38.1" x2="375.5" y2="85.5" stroke="#666" stroke-width="0.6"/>
<line x1="400" y1="38.1" x2="400" y2="41.2" stroke="#666" stroke-width="0.55"/>
<line x1="402" y1="38.1" x2="402" y2="41.2" stroke="#666" stroke-width="0.55"/>
<line x1="427" y1="38.1" x2="427" y2="63.5" stroke="#666" stroke-width="0.6"/>
<text x="388.25" y="38.95" font-size="7.3" font-weight="bold" text-anchor="middle" fill="#222" stroke="#222" stroke-width="0.16">****</text>
<text x="414" y="38.95" font-size="7.3" font-weight="bold" text-anchor="middle" fill="#222" stroke="#222" stroke-width="0.16">***</text>
<rect x="484.2" y="99.01" width="17.6" height="6.79" fill="#4d4d4d" stroke="#1a1a1a" stroke-width="0.7"/>
<rect x="511.6" y="46.55" width="16.6" height="59.25" fill="#fe0000" stroke="#1a1a1a" stroke-width="0.7"/>
<rect x="537.1" y="102.58" width="17.4" height="3.22" fill="#6ccbfb" stroke="#1a1a1a" stroke-width="0.7"/>
<line x1="493" y1="102.32" x2="493" y2="95.36" stroke="#222" stroke-width="0.8"/>
<line x1="488.75" y1="95.36" x2="497.25" y2="95.36" stroke="#222" stroke-width="0.8"/>
<line x1="488.75" y1="102.32" x2="497.25" y2="102.32" stroke="#222" stroke-width="0.8"/>
<line x1="519.9" y1="55.34" x2="519.9" y2="37.07" stroke="#222" stroke-width="0.8"/>
<line x1="515.65" y1="37.07" x2="524.15" y2="37.07" stroke="#222" stroke-width="0.8"/>
<line x1="515.65" y1="55.34" x2="524.15" y2="55.34" stroke="#222" stroke-width="0.8"/>
<circle cx="493" cy="92.92" r="1.9" fill="#4d4d4d" stroke="#1a1a1a" stroke-width="0.6"/>
<circle cx="487" cy="99.71" r="1.9" fill="#4d4d4d" stroke="#1a1a1a" stroke-width="0.6"/>
<circle cx="491" cy="99.27" r="1.9" fill="#4d4d4d" stroke="#1a1a1a" stroke-width="0.6"/>
<circle cx="495" cy="99.54" r="1.9" fill="#4d4d4d" stroke="#1a1a1a" stroke-width="0.6"/>
<circle cx="499" cy="99.88" r="1.9" fill="#4d4d4d" stroke="#1a1a1a" stroke-width="0.6"/>
<circle cx="519.9" cy="31.85" r="1.9" fill="#fe0000" stroke="#1a1a1a" stroke-width="0.6"/>
<circle cx="518.9" cy="44.9" r="1.9" fill="#fe0000" stroke="#1a1a1a" stroke-width="0.6"/>
<circle cx="514.9" cy="50.12" r="1.9" fill="#fe0000" stroke="#1a1a1a" stroke-width="0.6"/>
<circle cx="523.9" cy="49.25" r="1.9" fill="#fe0000" stroke="#1a1a1a" stroke-width="0.6"/>
<circle cx="519.9" cy="57.08" r="1.9" fill="#fe0000" stroke="#1a1a1a" stroke-width="0.6"/>
<circle cx="539" cy="102.49" r="1.9" fill="#6ccbfb" stroke="#1a1a1a" stroke-width="0.6"/>
<circle cx="542.4" cy="102.15" r="1.9" fill="#6ccbfb" stroke="#1a1a1a" stroke-width="0.6"/>
<circle cx="545.8" cy="102.41" r="1.9" fill="#6ccbfb" stroke="#1a1a1a" stroke-width="0.6"/>
<circle cx="549.2" cy="102.15" r="1.9" fill="#6ccbfb" stroke="#1a1a1a" stroke-width="0.6"/>
<circle cx="552.6" cy="102.49" r="1.9" fill="#6ccbfb" stroke="#1a1a1a" stroke-width="0.6"/>
<line x1="473.5" y1="18.8" x2="473.5" y2="105.8" stroke="#333" stroke-width="0.9"/>
<line x1="473.5" y1="105.8" x2="563.5" y2="105.8" stroke="#555" stroke-width="1"/>
<line x1="470.5" y1="105.8" x2="473.5" y2="105.8" stroke="#333" stroke-width="0.7"/>
<text x="470.1" y="107.45" font-size="4.55" font-weight="bold" text-anchor="end" fill="#222">0</text>
<line x1="470.5" y1="88.4" x2="473.5" y2="88.4" stroke="#333" stroke-width="0.7"/>
<text x="470.1" y="90.05" font-size="4.55" font-weight="bold" text-anchor="end" fill="#222">2000</text>
<line x1="470.5" y1="71" x2="473.5" y2="71" stroke="#333" stroke-width="0.7"/>
<text x="470.1" y="72.65" font-size="4.55" font-weight="bold" text-anchor="end" fill="#222">4000</text>
<line x1="470.5" y1="53.6" x2="473.5" y2="53.6" stroke="#333" stroke-width="0.7"/>
<text x="470.1" y="55.25" font-size="4.55" font-weight="bold" text-anchor="end" fill="#222">6000</text>
<line x1="470.5" y1="36.2" x2="473.5" y2="36.2" stroke="#333" stroke-width="0.7"/>
<text x="470.1" y="37.85" font-size="4.55" font-weight="bold" text-anchor="end" fill="#222">8000</text>
<line x1="470.5" y1="18.8" x2="473.5" y2="18.8" stroke="#333" stroke-width="0.7"/>
<text x="470.1" y="20.45" font-size="4.55" font-weight="bold" text-anchor="end" fill="#222">10000</text>
<line x1="493" y1="105.8" x2="493" y2="107.8" stroke="#555" stroke-width="0.8"/>
<line x1="519.9" y1="105.8" x2="519.9" y2="107.8" stroke="#555" stroke-width="0.8"/>
<line x1="545.8" y1="105.8" x2="545.8" y2="107.8" stroke="#555" stroke-width="0.8"/>
<text x="0" y="0" transform="translate(451.95 65.6) rotate(-90)" font-size="8.2" font-weight="bold" text-anchor="middle" fill="#000" stroke="#000" stroke-width="0.18">MMP-12 pg/mL</text>
<text x="0" y="0" transform="translate(496.39 110.9) rotate(-90)" font-size="8.3" font-weight="bold" text-anchor="end" fill="#000" stroke="#000" stroke-width="0.18">WT</text>
<text x="0" y="0" transform="translate(523.29 110.9) rotate(-90)" font-size="8.3" font-weight="bold" text-anchor="end" fill="#000" stroke="#000" stroke-width="0.18">&#916;<tspan font-style="italic">cna</tspan></text>
<text x="0" y="0" transform="translate(548.19 110.9) rotate(-90)" font-size="8.3" font-weight="bold" text-anchor="end" fill="#000" stroke="#000" stroke-width="0.18">comp <tspan font-style="italic">cna</tspan></text>
<line x1="493" y1="16.4" x2="545.8" y2="16.4" stroke="#666" stroke-width="0.6"/>
<line x1="493" y1="16.4" x2="493" y2="18.6" stroke="#666" stroke-width="0.6"/>
<line x1="545.8" y1="16.4" x2="545.8" y2="18.6" stroke="#666" stroke-width="0.6"/>
<text x="519.4" y="14.5" font-size="4.5" font-weight="normal" text-anchor="middle" fill="#555">ns</text>
<line x1="493" y1="25.3" x2="518.9" y2="25.3" stroke="#666" stroke-width="0.6"/>
<line x1="520.9" y1="25.3" x2="545.8" y2="25.3" stroke="#666" stroke-width="0.6"/>
<line x1="493" y1="25.3" x2="493" y2="90" stroke="#666" stroke-width="0.6"/>
<line x1="518.9" y1="25.3" x2="518.9" y2="28.5" stroke="#666" stroke-width="0.55"/>
<line x1="520.9" y1="25.3" x2="520.9" y2="28.5" stroke="#666" stroke-width="0.55"/>
<line x1="545.8" y1="25.3" x2="545.8" y2="99.5" stroke="#666" stroke-width="0.6"/>
<text x="506.45" y="26.15" font-size="7.3" font-weight="bold" text-anchor="middle" fill="#222" stroke="#222" stroke-width="0.16">****</text>
<text x="532.85" y="26.15" font-size="7.3" font-weight="bold" text-anchor="middle" fill="#222" stroke="#222" stroke-width="0.16">****</text>
<rect x="594.2" y="72.04" width="16.4" height="33.66" fill="#4d4d4d" stroke="#1a1a1a" stroke-width="0.7"/>
<rect x="620.2" y="48.16" width="16.4" height="57.54" fill="#fe0000" stroke="#1a1a1a" stroke-width="0.7"/>
<rect x="646" y="59.29" width="16.6" height="46.41" fill="#6ccbfb" stroke="#1a1a1a" stroke-width="0.7"/>
<line x1="602.4" y1="84.88" x2="602.4" y2="59.29" stroke="#222" stroke-width="0.8"/>
<line x1="598.15" y1="59.29" x2="606.65" y2="59.29" stroke="#222" stroke-width="0.8"/>
<line x1="598.15" y1="84.88" x2="606.65" y2="84.88" stroke="#222" stroke-width="0.8"/>
<line x1="628.4" y1="55.98" x2="628.4" y2="40.34" stroke="#222" stroke-width="0.8"/>
<line x1="624.15" y1="40.34" x2="632.65" y2="40.34" stroke="#222" stroke-width="0.8"/>
<line x1="624.15" y1="55.98" x2="632.65" y2="55.98" stroke="#222" stroke-width="0.8"/>
<line x1="654.3" y1="64.99" x2="654.3" y2="52.32" stroke="#222" stroke-width="0.8"/>
<line x1="650.05" y1="52.32" x2="658.55" y2="52.32" stroke="#222" stroke-width="0.8"/>
<line x1="650.05" y1="64.99" x2="658.55" y2="64.99" stroke="#222" stroke-width="0.8"/>
<circle cx="602.4" cy="58.27" r="1.9" fill="#4d4d4d" stroke="#1a1a1a" stroke-width="0.6"/>
<circle cx="597.4" cy="65.5" r="1.9" fill="#4d4d4d" stroke="#1a1a1a" stroke-width="0.6"/>
<circle cx="606.4" cy="61.93" r="1.9" fill="#4d4d4d" stroke="#1a1a1a" stroke-width="0.6"/>
<circle cx="598.4" cy="85.22" r="1.9" fill="#4d4d4d" stroke="#1a1a1a" stroke-width="0.6"/>
<circle cx="606.4" cy="85.22" r="1.9" fill="#4d4d4d" stroke="#1a1a1a" stroke-width="0.6"/>
<circle cx="628.4" cy="37.19" r="1.9" fill="#fe0000" stroke="#1a1a1a" stroke-width="0.6"/>
<circle cx="621.4" cy="45.01" r="1.9" fill="#fe0000" stroke="#1a1a1a" stroke-width="0.6"/>
<circle cx="635.4" cy="48.16" r="1.9" fill="#fe0000" stroke="#1a1a1a" stroke-width="0.6"/>
<circle cx="627.4" cy="53.43" r="1.9" fill="#fe0000" stroke="#1a1a1a" stroke-width="0.6"/>
<circle cx="628.4" cy="59.12" r="1.9" fill="#fe0000" stroke="#1a1a1a" stroke-width="0.6"/>
<circle cx="654.3" cy="53" r="1.9" fill="#6ccbfb" stroke="#1a1a1a" stroke-width="0.6"/>
<circle cx="647.3" cy="55.98" r="1.9" fill="#6ccbfb" stroke="#1a1a1a" stroke-width="0.6"/>
<circle cx="661.3" cy="55.98" r="1.9" fill="#6ccbfb" stroke="#1a1a1a" stroke-width="0.6"/>
<circle cx="652.3" cy="58.1" r="1.9" fill="#6ccbfb" stroke="#1a1a1a" stroke-width="0.6"/>
<circle cx="654.3" cy="69.75" r="1.9" fill="#6ccbfb" stroke="#1a1a1a" stroke-width="0.6"/>
<line x1="585.7" y1="20.7" x2="585.7" y2="105.7" stroke="#333" stroke-width="0.9"/>
<line x1="585.7" y1="105.7" x2="670" y2="105.7" stroke="#555" stroke-width="1"/>
<line x1="582.7" y1="105.7" x2="585.7" y2="105.7" stroke="#333" stroke-width="0.7"/>
<text x="582.3" y="107.35" font-size="4.55" font-weight="bold" text-anchor="end" fill="#222">0</text>
<line x1="582.7" y1="88.7" x2="585.7" y2="88.7" stroke="#333" stroke-width="0.7"/>
<text x="582.3" y="90.35" font-size="4.55" font-weight="bold" text-anchor="end" fill="#222">20000</text>
<line x1="582.7" y1="71.7" x2="585.7" y2="71.7" stroke="#333" stroke-width="0.7"/>
<text x="582.3" y="73.35" font-size="4.55" font-weight="bold" text-anchor="end" fill="#222">40000</text>
<line x1="582.7" y1="54.7" x2="585.7" y2="54.7" stroke="#333" stroke-width="0.7"/>
<text x="582.3" y="56.35" font-size="4.55" font-weight="bold" text-anchor="end" fill="#222">60000</text>
<line x1="582.7" y1="37.7" x2="585.7" y2="37.7" stroke="#333" stroke-width="0.7"/>
<text x="582.3" y="39.35" font-size="4.55" font-weight="bold" text-anchor="end" fill="#222">80000</text>
<line x1="582.7" y1="20.7" x2="585.7" y2="20.7" stroke="#333" stroke-width="0.7"/>
<text x="582.3" y="22.35" font-size="4.55" font-weight="bold" text-anchor="end" fill="#222">100000</text>
<line x1="602.4" y1="105.7" x2="602.4" y2="107.7" stroke="#555" stroke-width="0.8"/>
<line x1="628.4" y1="105.7" x2="628.4" y2="107.7" stroke="#555" stroke-width="0.8"/>
<line x1="654.3" y1="105.7" x2="654.3" y2="107.7" stroke="#555" stroke-width="0.8"/>
<text x="0" y="0" transform="translate(566.31 57.6) rotate(-90)" font-size="7.8" font-weight="bold" text-anchor="middle" fill="#000" stroke="#000" stroke-width="0.17">pro MMP-9 pg/mL</text>
<text x="0" y="0" transform="translate(605.79 110.9) rotate(-90)" font-size="8.3" font-weight="bold" text-anchor="end" fill="#000" stroke="#000" stroke-width="0.18">WT</text>
<text x="0" y="0" transform="translate(630.29 110.9) rotate(-90)" font-size="8.3" font-weight="bold" text-anchor="end" fill="#000" stroke="#000" stroke-width="0.18">&#916;<tspan font-style="italic">cna</tspan></text>
<text x="0" y="0" transform="translate(655.19 110.9) rotate(-90)" font-size="8.3" font-weight="bold" text-anchor="end" fill="#000" stroke="#000" stroke-width="0.18">comp <tspan font-style="italic">cna</tspan></text>
<line x1="602.4" y1="20.6" x2="654.3" y2="20.6" stroke="#666" stroke-width="0.6"/>
<line x1="602.4" y1="20.6" x2="602.4" y2="22.8" stroke="#666" stroke-width="0.6"/>
<line x1="654.3" y1="20.6" x2="654.3" y2="22.8" stroke="#666" stroke-width="0.6"/>
<text x="628.35" y="18.7" font-size="4.5" font-weight="normal" text-anchor="middle" fill="#555">ns</text>
<line x1="602.4" y1="31.2" x2="627.4" y2="31.2" stroke="#666" stroke-width="0.6"/>
<line x1="629.4" y1="31.2" x2="654.3" y2="31.2" stroke="#666" stroke-width="0.6"/>
<line x1="602.4" y1="31.2" x2="602.4" y2="56" stroke="#666" stroke-width="0.6"/>
<line x1="627.4" y1="31.2" x2="627.4" y2="34.5" stroke="#666" stroke-width="0.55"/>
<line x1="629.4" y1="31.2" x2="629.4" y2="34.5" stroke="#666" stroke-width="0.55"/>
<line x1="654.3" y1="31.2" x2="654.3" y2="49.5" stroke="#666" stroke-width="0.6"/>
<text x="615.4" y="32.05" font-size="7.3" font-weight="bold" text-anchor="middle" fill="#222" stroke="#222" stroke-width="0.16">**</text>
<text x="641.35" y="29.3" font-size="4.5" font-weight="normal" text-anchor="middle" fill="#555">ns</text>
<line x1="674.2" y1="23.1" x2="674.2" y2="106.3" stroke="#000" stroke-width="2"/>
<text x="0" y="0" transform="translate(677.72 58.7) rotate(90)" font-size="10.5" font-weight="bold" text-anchor="middle" fill="#000" stroke="#000" stroke-width="0.23">WT BL57</text>
<text x="321.4" y="158.6" font-size="27" font-weight="bold" text-anchor="start" fill="#000" stroke="#000" stroke-width="0.3">g</text>
<rect x="366.3" y="205.6" width="16" height="43.7" fill="#4d4d4d" stroke="#1a1a1a" stroke-width="0.7"/>
<rect x="391.7" y="211.21" width="16" height="38.09" fill="#fe0000" stroke="#1a1a1a" stroke-width="0.7"/>
<rect x="416.6" y="218.28" width="15.8" height="31.02" fill="#6ccbfb" stroke="#1a1a1a" stroke-width="0.7"/>
<line x1="374.3" y1="215.83" x2="374.3" y2="198.48" stroke="#222" stroke-width="0.8"/>
<line x1="370.05" y1="198.48" x2="378.55" y2="198.48" stroke="#222" stroke-width="0.8"/>
<line x1="370.05" y1="215.83" x2="378.55" y2="215.83" stroke="#222" stroke-width="0.8"/>
<line x1="399.7" y1="221.5" x2="399.7" y2="200.26" stroke="#222" stroke-width="0.8"/>
<line x1="395.45" y1="200.26" x2="403.95" y2="200.26" stroke="#222" stroke-width="0.8"/>
<line x1="395.45" y1="221.5" x2="403.95" y2="221.5" stroke="#222" stroke-width="0.8"/>
<line x1="424.5" y1="225.95" x2="424.5" y2="210.38" stroke="#222" stroke-width="0.8"/>
<line x1="420.25" y1="210.38" x2="428.75" y2="210.38" stroke="#222" stroke-width="0.8"/>
<line x1="420.25" y1="225.95" x2="428.75" y2="225.95" stroke="#222" stroke-width="0.8"/>
<circle cx="374.3" cy="195.37" r="1.9" fill="#4d4d4d" stroke="#1a1a1a" stroke-width="0.6"/>
<circle cx="368.3" cy="205.6" r="1.9" fill="#4d4d4d" stroke="#1a1a1a" stroke-width="0.6"/>
<circle cx="374.3" cy="205.1" r="1.9" fill="#4d4d4d" stroke="#1a1a1a" stroke-width="0.6"/>
<circle cx="380.3" cy="205.6" r="1.9" fill="#4d4d4d" stroke="#1a1a1a" stroke-width="0.6"/>
<circle cx="374.3" cy="218.16" r="1.9" fill="#4d4d4d" stroke="#1a1a1a" stroke-width="0.6"/>
<circle cx="399.7" cy="196.37" r="1.9" fill="#fe0000" stroke="#1a1a1a" stroke-width="0.6"/>
<circle cx="395.7" cy="208.71" r="1.9" fill="#fe0000" stroke="#1a1a1a" stroke-width="0.6"/>
<circle cx="403.7" cy="206.6" r="1.9" fill="#fe0000" stroke="#1a1a1a" stroke-width="0.6"/>
<circle cx="396.7" cy="220.89" r="1.9" fill="#fe0000" stroke="#1a1a1a" stroke-width="0.6"/>
<circle cx="403.7" cy="220.39" r="1.9" fill="#fe0000" stroke="#1a1a1a" stroke-width="0.6"/>
<circle cx="424.5" cy="208.1" r="1.9" fill="#6ccbfb" stroke="#1a1a1a" stroke-width="0.6"/>
<circle cx="420.5" cy="214.94" r="1.9" fill="#6ccbfb" stroke="#1a1a1a" stroke-width="0.6"/>
<circle cx="428.5" cy="213.72" r="1.9" fill="#6ccbfb" stroke="#1a1a1a" stroke-width="0.6"/>
<circle cx="420.5" cy="224.67" r="1.9" fill="#6ccbfb" stroke="#1a1a1a" stroke-width="0.6"/>
<circle cx="428.5" cy="224.67" r="1.9" fill="#6ccbfb" stroke="#1a1a1a" stroke-width="0.6"/>
<line x1="357.6" y1="165.9" x2="357.6" y2="249.3" stroke="#333" stroke-width="0.9"/>
<line x1="357.6" y1="249.3" x2="440" y2="249.3" stroke="#555" stroke-width="1"/>
<line x1="354.6" y1="249.3" x2="357.6" y2="249.3" stroke="#333" stroke-width="0.7"/>
<text x="354.2" y="250.95" font-size="4.55" font-weight="bold" text-anchor="end" fill="#222">0</text>
<line x1="354.6" y1="221.5" x2="357.6" y2="221.5" stroke="#333" stroke-width="0.7"/>
<text x="354.2" y="223.15" font-size="4.55" font-weight="bold" text-anchor="end" fill="#222">50000</text>
<line x1="354.6" y1="193.7" x2="357.6" y2="193.7" stroke="#333" stroke-width="0.7"/>
<text x="354.2" y="195.35" font-size="4.55" font-weight="bold" text-anchor="end" fill="#222">100000</text>
<line x1="354.6" y1="165.9" x2="357.6" y2="165.9" stroke="#333" stroke-width="0.7"/>
<text x="354.2" y="167.55" font-size="4.55" font-weight="bold" text-anchor="end" fill="#222">150000</text>
<line x1="374.3" y1="249.3" x2="374.3" y2="251.3" stroke="#555" stroke-width="0.8"/>
<line x1="399.7" y1="249.3" x2="399.7" y2="251.3" stroke="#555" stroke-width="0.8"/>
<line x1="424.5" y1="249.3" x2="424.5" y2="251.3" stroke="#555" stroke-width="0.8"/>
<text x="0" y="0" transform="translate(331.85 209.9) rotate(-90)" font-size="8.2" font-weight="bold" text-anchor="middle" fill="#000" stroke="#000" stroke-width="0.18">MMP-2 pg/mL</text>
<text x="0" y="0" transform="translate(377.69 253.8) rotate(-90)" font-size="8.3" font-weight="bold" text-anchor="end" fill="#000" stroke="#000" stroke-width="0.18">WT</text>
<text x="0" y="0" transform="translate(403.09 253.8) rotate(-90)" font-size="8.3" font-weight="bold" text-anchor="end" fill="#000" stroke="#000" stroke-width="0.18">&#916;<tspan font-style="italic">cna</tspan></text>
<text x="0" y="0" transform="translate(426.89 253.8) rotate(-90)" font-size="8.3" font-weight="bold" text-anchor="end" fill="#000" stroke="#000" stroke-width="0.18">comp <tspan font-style="italic">cna</tspan></text>
<line x1="374.3" y1="179.4" x2="424.5" y2="179.4" stroke="#666" stroke-width="0.6"/>
<line x1="374.3" y1="179.4" x2="374.3" y2="181.6" stroke="#666" stroke-width="0.6"/>
<line x1="424.5" y1="179.4" x2="424.5" y2="181.6" stroke="#666" stroke-width="0.6"/>
<text x="399.4" y="177.5" font-size="4.5" font-weight="normal" text-anchor="middle" fill="#555">ns</text>
<line x1="374.3" y1="189.6" x2="398.7" y2="189.6" stroke="#666" stroke-width="0.6"/>
<line x1="400.7" y1="189.6" x2="424.5" y2="189.6" stroke="#666" stroke-width="0.6"/>
<line x1="374.3" y1="189.6" x2="374.3" y2="193" stroke="#666" stroke-width="0.6"/>
<line x1="398.7" y1="189.6" x2="398.7" y2="193" stroke="#666" stroke-width="0.55"/>
<line x1="400.7" y1="189.6" x2="400.7" y2="193" stroke="#666" stroke-width="0.55"/>
<line x1="424.5" y1="189.6" x2="424.5" y2="205" stroke="#666" stroke-width="0.6"/>
<text x="387" y="187.7" font-size="4.5" font-weight="normal" text-anchor="middle" fill="#555">ns</text>
<text x="412.1" y="187.7" font-size="4.5" font-weight="normal" text-anchor="middle" fill="#555">ns</text>
<rect x="483.1" y="217.98" width="16.8" height="14.02" fill="#4d4d4d" stroke="#1a1a1a" stroke-width="0.7"/>
<rect x="509.2" y="197.12" width="15.4" height="34.88" fill="#fe0000" stroke="#1a1a1a" stroke-width="0.7"/>
<rect x="533.95" y="211.3" width="16.1" height="20.7" fill="#6ccbfb" stroke="#1a1a1a" stroke-width="0.7"/>
<line x1="491.5" y1="238" x2="491.5" y2="197.31" stroke="#222" stroke-width="0.8"/>
<line x1="487.25" y1="197.31" x2="495.75" y2="197.31" stroke="#222" stroke-width="0.8"/>
<line x1="487.25" y1="238" x2="495.75" y2="238" stroke="#222" stroke-width="0.8"/>
<line x1="516.9" y1="212.41" x2="516.9" y2="180.82" stroke="#222" stroke-width="0.8"/>
<line x1="512.65" y1="180.82" x2="521.15" y2="180.82" stroke="#222" stroke-width="0.8"/>
<line x1="512.65" y1="212.41" x2="521.15" y2="212.41" stroke="#222" stroke-width="0.8"/>
<line x1="542" y1="230.37" x2="542" y2="192.39" stroke="#222" stroke-width="0.8"/>
<line x1="537.75" y1="192.39" x2="546.25" y2="192.39" stroke="#222" stroke-width="0.8"/>
<line x1="537.75" y1="230.37" x2="546.25" y2="230.37" stroke="#222" stroke-width="0.8"/>
<circle cx="491.5" cy="183.1" r="1.9" fill="#4d4d4d" stroke="#1a1a1a" stroke-width="0.6"/>
<circle cx="491.5" cy="219.91" r="1.9" fill="#4d4d4d" stroke="#1a1a1a" stroke-width="0.6"/>
<circle cx="488.5" cy="225.48" r="1.9" fill="#4d4d4d" stroke="#1a1a1a" stroke-width="0.6"/>
<circle cx="496.5" cy="229.39" r="1.9" fill="#4d4d4d" stroke="#1a1a1a" stroke-width="0.6"/>
<circle cx="487.5" cy="232" r="1.9" fill="#4d4d4d" stroke="#1a1a1a" stroke-width="0.6"/>
<circle cx="516.9" cy="179.19" r="1.9" fill="#fe0000" stroke="#1a1a1a" stroke-width="0.6"/>
<circle cx="512.9" cy="192.88" r="1.9" fill="#fe0000" stroke="#1a1a1a" stroke-width="0.6"/>
<circle cx="520.9" cy="192.88" r="1.9" fill="#fe0000" stroke="#1a1a1a" stroke-width="0.6"/>
<circle cx="516.9" cy="198.42" r="1.9" fill="#fe0000" stroke="#1a1a1a" stroke-width="0.6"/>
<circle cx="516.9" cy="222.22" r="1.9" fill="#fe0000" stroke="#1a1a1a" stroke-width="0.6"/>
<circle cx="542" cy="187.34" r="1.9" fill="#6ccbfb" stroke="#1a1a1a" stroke-width="0.6"/>
<circle cx="542" cy="197.77" r="1.9" fill="#6ccbfb" stroke="#1a1a1a" stroke-width="0.6"/>
<circle cx="542" cy="212.9" r="1.9" fill="#6ccbfb" stroke="#1a1a1a" stroke-width="0.6"/>
<circle cx="538" cy="228.74" r="1.9" fill="#6ccbfb" stroke="#1a1a1a" stroke-width="0.6"/>
<circle cx="546" cy="228.09" r="1.9" fill="#6ccbfb" stroke="#1a1a1a" stroke-width="0.6"/>
<line x1="474.5" y1="166.8" x2="474.5" y2="249" stroke="#333" stroke-width="0.9"/>
<line x1="474.5" y1="232" x2="558.8" y2="232" stroke="#555" stroke-width="1"/>
<line x1="471.5" y1="248.3" x2="474.5" y2="248.3" stroke="#333" stroke-width="0.7"/>
<text x="471.1" y="249.95" font-size="4.55" font-weight="bold" text-anchor="end" fill="#222">-50000</text>
<line x1="471.5" y1="232" x2="474.5" y2="232" stroke="#333" stroke-width="0.7"/>
<text x="471.1" y="233.65" font-size="4.55" font-weight="bold" text-anchor="end" fill="#222">0</text>
<line x1="471.5" y1="215.7" x2="474.5" y2="215.7" stroke="#333" stroke-width="0.7"/>
<text x="471.1" y="217.35" font-size="4.55" font-weight="bold" text-anchor="end" fill="#222">50000</text>
<line x1="471.5" y1="199.4" x2="474.5" y2="199.4" stroke="#333" stroke-width="0.7"/>
<text x="471.1" y="201.05" font-size="4.55" font-weight="bold" text-anchor="end" fill="#222">100000</text>
<line x1="471.5" y1="183.1" x2="474.5" y2="183.1" stroke="#333" stroke-width="0.7"/>
<text x="471.1" y="184.75" font-size="4.55" font-weight="bold" text-anchor="end" fill="#222">150000</text>
<line x1="471.5" y1="166.8" x2="474.5" y2="166.8" stroke="#333" stroke-width="0.7"/>
<text x="471.1" y="168.45" font-size="4.55" font-weight="bold" text-anchor="end" fill="#222">200000</text>
<line x1="491.5" y1="232" x2="491.5" y2="234" stroke="#555" stroke-width="0.8"/>
<line x1="516.9" y1="232" x2="516.9" y2="234" stroke="#555" stroke-width="0.8"/>
<line x1="542" y1="232" x2="542" y2="234" stroke="#555" stroke-width="0.8"/>
<text x="0" y="0" transform="translate(452.25 206.5) rotate(-90)" font-size="8.2" font-weight="bold" text-anchor="middle" fill="#000" stroke="#000" stroke-width="0.18">MMP-12 pg/mL</text>
<text x="0" y="0" transform="translate(494.89 253.8) rotate(-90)" font-size="8.3" font-weight="bold" text-anchor="end" fill="#000" stroke="#000" stroke-width="0.18">WT</text>
<text x="0" y="0" transform="translate(520.29 253.8) rotate(-90)" font-size="8.3" font-weight="bold" text-anchor="end" fill="#000" stroke="#000" stroke-width="0.18">&#916;<tspan font-style="italic">cna</tspan></text>
<text x="0" y="0" transform="translate(544.39 253.8) rotate(-90)" font-size="8.3" font-weight="bold" text-anchor="end" fill="#000" stroke="#000" stroke-width="0.18">comp <tspan font-style="italic">cna</tspan></text>
<line x1="491.5" y1="163.3" x2="542" y2="163.3" stroke="#666" stroke-width="0.6"/>
<line x1="491.5" y1="163.3" x2="491.5" y2="165.5" stroke="#666" stroke-width="0.6"/>
<line x1="542" y1="163.3" x2="542" y2="165.5" stroke="#666" stroke-width="0.6"/>
<text x="516.75" y="161.4" font-size="4.5" font-weight="normal" text-anchor="middle" fill="#555">ns</text>
<line x1="491.5" y1="173.3" x2="515.9" y2="173.3" stroke="#666" stroke-width="0.6"/>
<line x1="517.9" y1="173.3" x2="542" y2="173.3" stroke="#666" stroke-width="0.6"/>
<line x1="491.5" y1="173.3" x2="491.5" y2="179.5" stroke="#666" stroke-width="0.6"/>
<line x1="515.9" y1="173.3" x2="515.9" y2="176.5" stroke="#666" stroke-width="0.55"/>
<line x1="517.9" y1="173.3" x2="517.9" y2="176.5" stroke="#666" stroke-width="0.55"/>
<line x1="542" y1="173.3" x2="542" y2="184.5" stroke="#666" stroke-width="0.6"/>
<text x="504.2" y="171.4" font-size="4.5" font-weight="normal" text-anchor="middle" fill="#555">ns</text>
<text x="529.45" y="171.4" font-size="4.5" font-weight="normal" text-anchor="middle" fill="#555">ns</text>
<rect x="595.15" y="207.2" width="16.5" height="41.4" fill="#4d4d4d" stroke="#1a1a1a" stroke-width="0.7"/>
<rect x="621.45" y="194.5" width="15.1" height="54.1" fill="#fe0000" stroke="#1a1a1a" stroke-width="0.7"/>
<rect x="645.45" y="203.89" width="16.3" height="44.71" fill="#6ccbfb" stroke="#1a1a1a" stroke-width="0.7"/>
<line x1="603.4" y1="224.86" x2="603.4" y2="189.09" stroke="#222" stroke-width="0.8"/>
<line x1="599.15" y1="189.09" x2="607.65" y2="189.09" stroke="#222" stroke-width="0.8"/>
<line x1="599.15" y1="224.86" x2="607.65" y2="224.86" stroke="#222" stroke-width="0.8"/>
<line x1="629" y1="201.13" x2="629" y2="187.33" stroke="#222" stroke-width="0.8"/>
<line x1="624.75" y1="187.33" x2="633.25" y2="187.33" stroke="#222" stroke-width="0.8"/>
<line x1="624.75" y1="201.13" x2="633.25" y2="201.13" stroke="#222" stroke-width="0.8"/>
<line x1="653.6" y1="219.01" x2="653.6" y2="188.05" stroke="#222" stroke-width="0.8"/>
<line x1="649.35" y1="188.05" x2="657.85" y2="188.05" stroke="#222" stroke-width="0.8"/>
<line x1="649.35" y1="219.01" x2="657.85" y2="219.01" stroke="#222" stroke-width="0.8"/>
<circle cx="603.4" cy="178.5" r="1.9" fill="#4d4d4d" stroke="#1a1a1a" stroke-width="0.6"/>
<circle cx="603.4" cy="205.54" r="1.9" fill="#4d4d4d" stroke="#1a1a1a" stroke-width="0.6"/>
<circle cx="603.4" cy="210.13" r="1.9" fill="#4d4d4d" stroke="#1a1a1a" stroke-width="0.6"/>
<circle cx="603.4" cy="215.2" r="1.9" fill="#4d4d4d" stroke="#1a1a1a" stroke-width="0.6"/>
<circle cx="603.4" cy="224.09" r="1.9" fill="#4d4d4d" stroke="#1a1a1a" stroke-width="0.6"/>
<circle cx="625" cy="186.61" r="1.9" fill="#fe0000" stroke="#1a1a1a" stroke-width="0.6"/>
<circle cx="633" cy="187.6" r="1.9" fill="#fe0000" stroke="#1a1a1a" stroke-width="0.6"/>
<circle cx="629" cy="192.68" r="1.9" fill="#fe0000" stroke="#1a1a1a" stroke-width="0.6"/>
<circle cx="625" cy="203.89" r="1.9" fill="#fe0000" stroke="#1a1a1a" stroke-width="0.6"/>
<circle cx="633" cy="201.68" r="1.9" fill="#fe0000" stroke="#1a1a1a" stroke-width="0.6"/>
<circle cx="653.6" cy="177.39" r="1.9" fill="#6ccbfb" stroke="#1a1a1a" stroke-width="0.6"/>
<circle cx="653.6" cy="202.12" r="1.9" fill="#6ccbfb" stroke="#1a1a1a" stroke-width="0.6"/>
<circle cx="645.6" cy="213.38" r="1.9" fill="#6ccbfb" stroke="#1a1a1a" stroke-width="0.6"/>
<circle cx="653.6" cy="211.67" r="1.9" fill="#6ccbfb" stroke="#1a1a1a" stroke-width="0.6"/>
<circle cx="661.6" cy="213.27" r="1.9" fill="#6ccbfb" stroke="#1a1a1a" stroke-width="0.6"/>
<line x1="586.5" y1="165.8" x2="586.5" y2="248.6" stroke="#333" stroke-width="0.9"/>
<line x1="586.5" y1="248.6" x2="667" y2="248.6" stroke="#555" stroke-width="1"/>
<line x1="583.5" y1="248.6" x2="586.5" y2="248.6" stroke="#333" stroke-width="0.7"/>
<text x="583.1" y="250.25" font-size="4.55" font-weight="bold" text-anchor="end" fill="#222">0</text>
<line x1="583.5" y1="221" x2="586.5" y2="221" stroke="#333" stroke-width="0.7"/>
<text x="583.1" y="222.65" font-size="4.55" font-weight="bold" text-anchor="end" fill="#222">50000</text>
<line x1="583.5" y1="193.4" x2="586.5" y2="193.4" stroke="#333" stroke-width="0.7"/>
<text x="583.1" y="195.05" font-size="4.55" font-weight="bold" text-anchor="end" fill="#222">100000</text>
<line x1="583.5" y1="165.8" x2="586.5" y2="165.8" stroke="#333" stroke-width="0.7"/>
<text x="583.1" y="167.45" font-size="4.55" font-weight="bold" text-anchor="end" fill="#222">150000</text>
<line x1="603.4" y1="248.6" x2="603.4" y2="250.6" stroke="#555" stroke-width="0.8"/>
<line x1="629" y1="248.6" x2="629" y2="250.6" stroke="#555" stroke-width="0.8"/>
<line x1="653.6" y1="248.6" x2="653.6" y2="250.6" stroke="#555" stroke-width="0.8"/>
<text x="0" y="0" transform="translate(568.31 201.2) rotate(-90)" font-size="7.8" font-weight="bold" text-anchor="middle" fill="#000" stroke="#000" stroke-width="0.17">pro MMP-9 pg/mL</text>
<text x="0" y="0" transform="translate(606.79 253.8) rotate(-90)" font-size="8.3" font-weight="bold" text-anchor="end" fill="#000" stroke="#000" stroke-width="0.18">WT</text>
<text x="0" y="0" transform="translate(632.39 253.8) rotate(-90)" font-size="8.3" font-weight="bold" text-anchor="end" fill="#000" stroke="#000" stroke-width="0.18">&#916;<tspan font-style="italic">cna</tspan></text>
<text x="0" y="0" transform="translate(655.99 253.8) rotate(-90)" font-size="8.3" font-weight="bold" text-anchor="end" fill="#000" stroke="#000" stroke-width="0.18">comp <tspan font-style="italic">cna</tspan></text>
<line x1="603.4" y1="160.5" x2="653.6" y2="160.5" stroke="#666" stroke-width="0.6"/>
<line x1="603.4" y1="160.5" x2="603.4" y2="162.7" stroke="#666" stroke-width="0.6"/>
<line x1="653.6" y1="160.5" x2="653.6" y2="162.7" stroke="#666" stroke-width="0.6"/>
<text x="628.5" y="158.6" font-size="4.5" font-weight="normal" text-anchor="middle" fill="#555">ns</text>
<line x1="603.4" y1="171" x2="628" y2="171" stroke="#666" stroke-width="0.6"/>
<line x1="630" y1="171" x2="653.6" y2="171" stroke="#666" stroke-width="0.6"/>
<line x1="603.4" y1="171" x2="603.4" y2="175.5" stroke="#666" stroke-width="0.6"/>
<line x1="628" y1="171" x2="628" y2="183.5" stroke="#666" stroke-width="0.55"/>
<line x1="630" y1="171" x2="630" y2="183.5" stroke="#666" stroke-width="0.55"/>
<line x1="653.6" y1="171" x2="653.6" y2="175" stroke="#666" stroke-width="0.6"/>
<text x="616.2" y="169.1" font-size="4.5" font-weight="normal" text-anchor="middle" fill="#555">ns</text>
<text x="641.3" y="169.1" font-size="4.5" font-weight="normal" text-anchor="middle" fill="#555">ns</text>
<line x1="673.8" y1="166.3" x2="673.8" y2="249" stroke="#000" stroke-width="2"/>
<text x="0" y="0" transform="translate(676.42 204) rotate(90)" font-size="10.5" font-weight="bold" text-anchor="middle" fill="#000" stroke="#000" stroke-width="0.23">C1q KO</text>
<text x="320.6" y="319.6" font-size="27" font-weight="bold" text-anchor="start" fill="#000" stroke="#000" stroke-width="0.3">h</text>
<text x="397.2" y="316.4" font-size="10.2" font-weight="bold" text-anchor="middle" fill="#000" stroke="#000" stroke-width="0.22">WT BL57</text>
<line x1="352.1" y1="319.5" x2="444.6" y2="319.5" stroke="#000" stroke-width="2.4"/>
<rect x="366.85" y="401.1" width="18.3" height="26.9" fill="#4d4d4d" stroke="#1a1a1a" stroke-width="0.7"/>
<rect x="394.4" y="384.22" width="18.4" height="43.78" fill="#fe0000" stroke="#1a1a1a" stroke-width="0.7"/>
<rect x="422.5" y="394.71" width="18.2" height="33.29" fill="#6ccbfb" stroke="#1a1a1a" stroke-width="0.7"/>
<line x1="376" y1="407.02" x2="376" y2="395.17" stroke="#222" stroke-width="0.8"/>
<line x1="371.75" y1="395.17" x2="380.25" y2="395.17" stroke="#222" stroke-width="0.8"/>
<line x1="371.75" y1="407.02" x2="380.25" y2="407.02" stroke="#222" stroke-width="0.8"/>
<line x1="403.6" y1="393.8" x2="403.6" y2="372.37" stroke="#222" stroke-width="0.8"/>
<line x1="399.35" y1="372.37" x2="407.85" y2="372.37" stroke="#222" stroke-width="0.8"/>
<line x1="399.35" y1="393.8" x2="407.85" y2="393.8" stroke="#222" stroke-width="0.8"/>
<line x1="431.6" y1="399.73" x2="431.6" y2="388.33" stroke="#222" stroke-width="0.8"/>
<line x1="427.35" y1="388.33" x2="435.85" y2="388.33" stroke="#222" stroke-width="0.8"/>
<line x1="427.35" y1="399.73" x2="435.85" y2="399.73" stroke="#222" stroke-width="0.8"/>
<circle cx="368" cy="396.08" r="1.9" fill="#4d4d4d" stroke="#1a1a1a" stroke-width="0.6"/>
<circle cx="371" cy="395.62" r="1.9" fill="#4d4d4d" stroke="#1a1a1a" stroke-width="0.6"/>
<circle cx="374" cy="396.08" r="1.9" fill="#4d4d4d" stroke="#1a1a1a" stroke-width="0.6"/>
<circle cx="377" cy="395.17" r="1.9" fill="#4d4d4d" stroke="#1a1a1a" stroke-width="0.6"/>
<circle cx="380.5" cy="396.08" r="1.9" fill="#4d4d4d" stroke="#1a1a1a" stroke-width="0.6"/>
<circle cx="384" cy="396.08" r="1.9" fill="#4d4d4d" stroke="#1a1a1a" stroke-width="0.6"/>
<circle cx="373" cy="399.27" r="1.9" fill="#4d4d4d" stroke="#1a1a1a" stroke-width="0.6"/>
<circle cx="379" cy="398.82" r="1.9" fill="#4d4d4d" stroke="#1a1a1a" stroke-width="0.6"/>
<circle cx="376" cy="405.2" r="1.9" fill="#4d4d4d" stroke="#1a1a1a" stroke-width="0.6"/>
<circle cx="373.5" cy="410.67" r="1.9" fill="#4d4d4d" stroke="#1a1a1a" stroke-width="0.6"/>
<circle cx="378.5" cy="410.67" r="1.9" fill="#4d4d4d" stroke="#1a1a1a" stroke-width="0.6"/>
<circle cx="403.6" cy="360.97" r="1.9" fill="#fe0000" stroke="#1a1a1a" stroke-width="0.6"/>
<circle cx="403.6" cy="367.35" r="1.9" fill="#fe0000" stroke="#1a1a1a" stroke-width="0.6"/>
<circle cx="400.6" cy="381.94" r="1.9" fill="#fe0000" stroke="#1a1a1a" stroke-width="0.6"/>
<circle cx="407.1" cy="384.22" r="1.9" fill="#fe0000" stroke="#1a1a1a" stroke-width="0.6"/>
<circle cx="396.1" cy="390.15" r="1.9" fill="#fe0000" stroke="#1a1a1a" stroke-width="0.6"/>
<circle cx="411.1" cy="390.15" r="1.9" fill="#fe0000" stroke="#1a1a1a" stroke-width="0.6"/>
<circle cx="399.1" cy="393.8" r="1.9" fill="#fe0000" stroke="#1a1a1a" stroke-width="0.6"/>
<circle cx="408.1" cy="393.8" r="1.9" fill="#fe0000" stroke="#1a1a1a" stroke-width="0.6"/>
<circle cx="403.6" cy="388.78" r="1.9" fill="#fe0000" stroke="#1a1a1a" stroke-width="0.6"/>
<circle cx="403.6" cy="394.71" r="1.9" fill="#fe0000" stroke="#1a1a1a" stroke-width="0.6"/>
<circle cx="427.6" cy="385.14" r="1.9" fill="#6ccbfb" stroke="#1a1a1a" stroke-width="0.6"/>
<circle cx="435.6" cy="383.31" r="1.9" fill="#6ccbfb" stroke="#1a1a1a" stroke-width="0.6"/>
<circle cx="431.6" cy="389.24" r="1.9" fill="#6ccbfb" stroke="#1a1a1a" stroke-width="0.6"/>
<circle cx="424.1" cy="396.54" r="1.9" fill="#6ccbfb" stroke="#1a1a1a" stroke-width="0.6"/>
<circle cx="428.1" cy="396.99" r="1.9" fill="#6ccbfb" stroke="#1a1a1a" stroke-width="0.6"/>
<circle cx="431.6" cy="396.54" r="1.9" fill="#6ccbfb" stroke="#1a1a1a" stroke-width="0.6"/>
<circle cx="435.1" cy="396.99" r="1.9" fill="#6ccbfb" stroke="#1a1a1a" stroke-width="0.6"/>
<circle cx="439.1" cy="396.54" r="1.9" fill="#6ccbfb" stroke="#1a1a1a" stroke-width="0.6"/>
<circle cx="426.6" cy="400.64" r="1.9" fill="#6ccbfb" stroke="#1a1a1a" stroke-width="0.6"/>
<circle cx="436.6" cy="400.64" r="1.9" fill="#6ccbfb" stroke="#1a1a1a" stroke-width="0.6"/>
<line x1="357.5" y1="336.8" x2="357.5" y2="428" stroke="#333" stroke-width="0.9"/>
<line x1="357.5" y1="428" x2="450.5" y2="428" stroke="#555" stroke-width="1"/>
<line x1="354.5" y1="428" x2="357.5" y2="428" stroke="#333" stroke-width="0.7"/>
<text x="354.1" y="429.65" font-size="4.55" font-weight="bold" text-anchor="end" fill="#222">0</text>
<line x1="354.5" y1="405.2" x2="357.5" y2="405.2" stroke="#333" stroke-width="0.7"/>
<text x="354.1" y="406.85" font-size="4.55" font-weight="bold" text-anchor="end" fill="#222">5</text>
<line x1="354.5" y1="382.4" x2="357.5" y2="382.4" stroke="#333" stroke-width="0.7"/>
<text x="354.1" y="384.05" font-size="4.55" font-weight="bold" text-anchor="end" fill="#222">10</text>
<line x1="354.5" y1="359.6" x2="357.5" y2="359.6" stroke="#333" stroke-width="0.7"/>
<text x="354.1" y="361.25" font-size="4.55" font-weight="bold" text-anchor="end" fill="#222">15</text>
<line x1="354.5" y1="336.8" x2="357.5" y2="336.8" stroke="#333" stroke-width="0.7"/>
<text x="354.1" y="338.45" font-size="4.55" font-weight="bold" text-anchor="end" fill="#222">20</text>
<line x1="376" y1="428" x2="376" y2="430" stroke="#555" stroke-width="0.8"/>
<line x1="403.6" y1="428" x2="403.6" y2="430" stroke="#555" stroke-width="0.8"/>
<line x1="431.6" y1="428" x2="431.6" y2="430" stroke="#555" stroke-width="0.8"/>
<text x="0" y="0" transform="translate(346.65 375.2) rotate(-90)" font-size="8.2" font-weight="bold" text-anchor="middle" fill="#000" stroke="#000" stroke-width="0.18">LTAH<tspan font-size="6" dy="1.6">4</tspan><tspan dy="-1.6"> ng/mL</tspan></text>
<text x="0" y="0" transform="translate(379.39 432.7) rotate(-90)" font-size="8.3" font-weight="bold" text-anchor="end" fill="#000" stroke="#000" stroke-width="0.18">WT</text>
<text x="0" y="0" transform="translate(406.99 432.7) rotate(-90)" font-size="8.3" font-weight="bold" text-anchor="end" fill="#000" stroke="#000" stroke-width="0.18">&#916;<tspan font-style="italic">cna</tspan></text>
<text x="0" y="0" transform="translate(433.99 432.7) rotate(-90)" font-size="8.3" font-weight="bold" text-anchor="end" fill="#000" stroke="#000" stroke-width="0.18">comp <tspan font-style="italic">cna</tspan></text>
<line x1="376" y1="344.3" x2="431.6" y2="344.3" stroke="#666" stroke-width="0.6"/>
<line x1="376" y1="344.3" x2="376" y2="346.5" stroke="#666" stroke-width="0.6"/>
<line x1="431.6" y1="344.3" x2="431.6" y2="346.5" stroke="#666" stroke-width="0.6"/>
<text x="403.8" y="342.4" font-size="4.5" font-weight="normal" text-anchor="middle" fill="#555">ns</text>
<line x1="376" y1="355.2" x2="402.6" y2="355.2" stroke="#666" stroke-width="0.6"/>
<line x1="404.6" y1="355.2" x2="431.6" y2="355.2" stroke="#666" stroke-width="0.6"/>
<line x1="376" y1="355.2" x2="376" y2="393.5" stroke="#666" stroke-width="0.6"/>
<line x1="402.6" y1="355.2" x2="402.6" y2="358" stroke="#666" stroke-width="0.55"/>
<line x1="404.6" y1="355.2" x2="404.6" y2="358" stroke="#666" stroke-width="0.55"/>
<line x1="431.6" y1="355.2" x2="431.6" y2="382" stroke="#666" stroke-width="0.6"/>
<text x="389.8" y="356.05" font-size="7.3" font-weight="bold" text-anchor="middle" fill="#222" stroke="#222" stroke-width="0.16">**</text>
<text x="417.6" y="356.05" font-size="7.3" font-weight="bold" text-anchor="middle" fill="#222" stroke="#222" stroke-width="0.16">*</text>
<text x="451.9" y="319.1" font-size="27" font-weight="bold" text-anchor="start" fill="#000" stroke="#000" stroke-width="0.3">i</text>
<text x="507.7" y="316.4" font-size="10.2" font-weight="bold" text-anchor="middle" fill="#000" stroke="#000" stroke-width="0.22">C1q KO</text>
<line x1="464.1" y1="319.5" x2="555.7" y2="319.5" stroke="#000" stroke-width="2.4"/>
<rect x="477.6" y="369.87" width="18" height="58.03" fill="#4d4d4d" stroke="#1a1a1a" stroke-width="0.7"/>
<rect x="506" y="384.38" width="17.8" height="43.52" fill="#fe0000" stroke="#1a1a1a" stroke-width="0.7"/>
<rect x="534.2" y="376.19" width="18" height="51.71" fill="#6ccbfb" stroke="#1a1a1a" stroke-width="0.7"/>
<line x1="486.6" y1="389.58" x2="486.6" y2="350.52" stroke="#222" stroke-width="0.8"/>
<line x1="482.35" y1="350.52" x2="490.85" y2="350.52" stroke="#222" stroke-width="0.8"/>
<line x1="482.35" y1="389.58" x2="490.85" y2="389.58" stroke="#222" stroke-width="0.8"/>
<line x1="514.9" y1="390.7" x2="514.9" y2="375.82" stroke="#222" stroke-width="0.8"/>
<line x1="510.65" y1="375.82" x2="519.15" y2="375.82" stroke="#222" stroke-width="0.8"/>
<line x1="510.65" y1="390.7" x2="519.15" y2="390.7" stroke="#222" stroke-width="0.8"/>
<line x1="543.2" y1="394.05" x2="543.2" y2="357.59" stroke="#222" stroke-width="0.8"/>
<line x1="538.95" y1="357.59" x2="547.45" y2="357.59" stroke="#222" stroke-width="0.8"/>
<line x1="538.95" y1="394.05" x2="547.45" y2="394.05" stroke="#222" stroke-width="0.8"/>
<circle cx="483.6" cy="353.5" r="1.9" fill="#4d4d4d" stroke="#1a1a1a" stroke-width="0.6"/>
<circle cx="489.6" cy="353.5" r="1.9" fill="#4d4d4d" stroke="#1a1a1a" stroke-width="0.6"/>
<circle cx="486.6" cy="360.57" r="1.9" fill="#4d4d4d" stroke="#1a1a1a" stroke-width="0.6"/>
<circle cx="486.6" cy="375.82" r="1.9" fill="#4d4d4d" stroke="#1a1a1a" stroke-width="0.6"/>
<circle cx="486.6" cy="402.23" r="1.9" fill="#4d4d4d" stroke="#1a1a1a" stroke-width="0.6"/>
<circle cx="514.9" cy="372.1" r="1.9" fill="#fe0000" stroke="#1a1a1a" stroke-width="0.6"/>
<circle cx="514.9" cy="379.54" r="1.9" fill="#fe0000" stroke="#1a1a1a" stroke-width="0.6"/>
<circle cx="511.9" cy="385.86" r="1.9" fill="#fe0000" stroke="#1a1a1a" stroke-width="0.6"/>
<circle cx="514.9" cy="389.58" r="1.9" fill="#fe0000" stroke="#1a1a1a" stroke-width="0.6"/>
<circle cx="518.9" cy="390.7" r="1.9" fill="#fe0000" stroke="#1a1a1a" stroke-width="0.6"/>
<circle cx="543.2" cy="356.48" r="1.9" fill="#6ccbfb" stroke="#1a1a1a" stroke-width="0.6"/>
<circle cx="543.2" cy="372.1" r="1.9" fill="#6ccbfb" stroke="#1a1a1a" stroke-width="0.6"/>
<circle cx="543.2" cy="376.56" r="1.9" fill="#6ccbfb" stroke="#1a1a1a" stroke-width="0.6"/>
<circle cx="543.2" cy="398.14" r="1.9" fill="#6ccbfb" stroke="#1a1a1a" stroke-width="0.6"/>
<line x1="467.1" y1="334.9" x2="467.1" y2="427.9" stroke="#333" stroke-width="0.9"/>
<line x1="467.1" y1="427.9" x2="561.6" y2="427.9" stroke="#555" stroke-width="1"/>
<line x1="464.1" y1="427.9" x2="467.1" y2="427.9" stroke="#333" stroke-width="0.7"/>
<text x="463.7" y="429.55" font-size="4.55" font-weight="bold" text-anchor="end" fill="#222">0</text>
<line x1="464.1" y1="409.3" x2="467.1" y2="409.3" stroke="#333" stroke-width="0.7"/>
<text x="463.7" y="410.95" font-size="4.55" font-weight="bold" text-anchor="end" fill="#222">5</text>
<line x1="464.1" y1="390.7" x2="467.1" y2="390.7" stroke="#333" stroke-width="0.7"/>
<text x="463.7" y="392.35" font-size="4.55" font-weight="bold" text-anchor="end" fill="#222">10</text>
<line x1="464.1" y1="372.1" x2="467.1" y2="372.1" stroke="#333" stroke-width="0.7"/>
<text x="463.7" y="373.75" font-size="4.55" font-weight="bold" text-anchor="end" fill="#222">15</text>
<line x1="464.1" y1="353.5" x2="467.1" y2="353.5" stroke="#333" stroke-width="0.7"/>
<text x="463.7" y="355.15" font-size="4.55" font-weight="bold" text-anchor="end" fill="#222">20</text>
<line x1="464.1" y1="334.9" x2="467.1" y2="334.9" stroke="#333" stroke-width="0.7"/>
<text x="463.7" y="336.55" font-size="4.55" font-weight="bold" text-anchor="end" fill="#222">25</text>
<line x1="486.6" y1="427.9" x2="486.6" y2="429.9" stroke="#555" stroke-width="0.8"/>
<line x1="514.9" y1="427.9" x2="514.9" y2="429.9" stroke="#555" stroke-width="0.8"/>
<line x1="543.2" y1="427.9" x2="543.2" y2="429.9" stroke="#555" stroke-width="0.8"/>
<text x="0" y="0" transform="translate(456.25 379.6) rotate(-90)" font-size="8.2" font-weight="bold" text-anchor="middle" fill="#000" stroke="#000" stroke-width="0.18">LTAH<tspan font-size="6" dy="1.6">4</tspan><tspan dy="-1.6"> ng/mL</tspan></text>
<text x="0" y="0" transform="translate(489.99 432.2) rotate(-90)" font-size="8.3" font-weight="bold" text-anchor="end" fill="#000" stroke="#000" stroke-width="0.18">WT</text>
<text x="0" y="0" transform="translate(518.29 432.2) rotate(-90)" font-size="8.3" font-weight="bold" text-anchor="end" fill="#000" stroke="#000" stroke-width="0.18">&#916;<tspan font-style="italic">cna</tspan></text>
<text x="0" y="0" transform="translate(545.59 432.2) rotate(-90)" font-size="8.3" font-weight="bold" text-anchor="end" fill="#000" stroke="#000" stroke-width="0.18">comp <tspan font-style="italic">cna</tspan></text>
<line x1="486.6" y1="331.5" x2="543.2" y2="331.5" stroke="#666" stroke-width="0.6"/>
<line x1="486.6" y1="331.5" x2="486.6" y2="333.7" stroke="#666" stroke-width="0.6"/>
<line x1="543.2" y1="331.5" x2="543.2" y2="333.7" stroke="#666" stroke-width="0.6"/>
<text x="514.9" y="329.6" font-size="4.5" font-weight="normal" text-anchor="middle" fill="#555">ns</text>
<line x1="486.6" y1="342.4" x2="513.9" y2="342.4" stroke="#666" stroke-width="0.6"/>
<line x1="515.9" y1="342.4" x2="543.2" y2="342.4" stroke="#666" stroke-width="0.6"/>
<line x1="486.6" y1="342.4" x2="486.6" y2="346" stroke="#666" stroke-width="0.6"/>
<line x1="513.9" y1="342.4" x2="513.9" y2="369.5" stroke="#666" stroke-width="0.55"/>
<line x1="515.9" y1="342.4" x2="515.9" y2="369.5" stroke="#666" stroke-width="0.55"/>
<line x1="543.2" y1="342.4" x2="543.2" y2="353" stroke="#666" stroke-width="0.6"/>
<text x="500.75" y="340.5" font-size="4.5" font-weight="normal" text-anchor="middle" fill="#555">ns</text>
<text x="529.05" y="340.5" font-size="4.5" font-weight="normal" text-anchor="middle" fill="#555">ns</text>
<text x="575.6" y="316.3" font-size="26.5" font-weight="bold" text-anchor="start" fill="#000" stroke="#000" stroke-width="0.3">j</text>
<text x="631.7" y="316.4" font-size="10.2" font-weight="bold" text-anchor="middle" fill="#000" stroke="#000" stroke-width="0.22">WT BL57</text>
<line x1="586.4" y1="319.5" x2="678.7" y2="319.5" stroke="#000" stroke-width="2.4"/>
<rect x="591.3" y="376.95" width="18.4" height="50.35" fill="#4d4d4d" stroke="#1a1a1a" stroke-width="0.7"/>
<rect x="620.1" y="400.28" width="18" height="27.02" fill="#fe0000" stroke="#1a1a1a" stroke-width="0.7"/>
<rect x="648.2" y="376.34" width="18.4" height="50.96" fill="#6ccbfb" stroke="#1a1a1a" stroke-width="0.7"/>
<line x1="600.5" y1="386.78" x2="600.5" y2="365.9" stroke="#222" stroke-width="0.8"/>
<line x1="596.25" y1="365.9" x2="604.75" y2="365.9" stroke="#222" stroke-width="0.8"/>
<line x1="596.25" y1="386.78" x2="604.75" y2="386.78" stroke="#222" stroke-width="0.8"/>
<line x1="629.1" y1="407.65" x2="629.1" y2="392.3" stroke="#222" stroke-width="0.8"/>
<line x1="624.85" y1="392.3" x2="633.35" y2="392.3" stroke="#222" stroke-width="0.8"/>
<line x1="624.85" y1="407.65" x2="633.35" y2="407.65" stroke="#222" stroke-width="0.8"/>
<line x1="657.4" y1="389.23" x2="657.4" y2="362.22" stroke="#222" stroke-width="0.8"/>
<line x1="653.15" y1="362.22" x2="661.65" y2="362.22" stroke="#222" stroke-width="0.8"/>
<line x1="653.15" y1="389.23" x2="661.65" y2="389.23" stroke="#222" stroke-width="0.8"/>
<circle cx="600.5" cy="359.76" r="1.9" fill="#4d4d4d" stroke="#1a1a1a" stroke-width="0.6"/>
<circle cx="600.5" cy="374.5" r="1.9" fill="#4d4d4d" stroke="#1a1a1a" stroke-width="0.6"/>
<circle cx="592.5" cy="381.86" r="1.9" fill="#4d4d4d" stroke="#1a1a1a" stroke-width="0.6"/>
<circle cx="600.5" cy="380.64" r="1.9" fill="#4d4d4d" stroke="#1a1a1a" stroke-width="0.6"/>
<circle cx="608.5" cy="381.86" r="1.9" fill="#4d4d4d" stroke="#1a1a1a" stroke-width="0.6"/>
<circle cx="629.1" cy="390.46" r="1.9" fill="#fe0000" stroke="#1a1a1a" stroke-width="0.6"/>
<circle cx="625.1" cy="396.6" r="1.9" fill="#fe0000" stroke="#1a1a1a" stroke-width="0.6"/>
<circle cx="633.1" cy="396.6" r="1.9" fill="#fe0000" stroke="#1a1a1a" stroke-width="0.6"/>
<circle cx="625.1" cy="405.81" r="1.9" fill="#fe0000" stroke="#1a1a1a" stroke-width="0.6"/>
<circle cx="633.1" cy="405.81" r="1.9" fill="#fe0000" stroke="#1a1a1a" stroke-width="0.6"/>
<circle cx="657.4" cy="358.53" r="1.9" fill="#6ccbfb" stroke="#1a1a1a" stroke-width="0.6"/>
<circle cx="657.4" cy="365.9" r="1.9" fill="#6ccbfb" stroke="#1a1a1a" stroke-width="0.6"/>
<circle cx="653.4" cy="379.41" r="1.9" fill="#6ccbfb" stroke="#1a1a1a" stroke-width="0.6"/>
<circle cx="661.4" cy="382.48" r="1.9" fill="#6ccbfb" stroke="#1a1a1a" stroke-width="0.6"/>
<circle cx="657.4" cy="389.23" r="1.9" fill="#6ccbfb" stroke="#1a1a1a" stroke-width="0.6"/>
<line x1="581.4" y1="335.2" x2="581.4" y2="427.3" stroke="#333" stroke-width="0.9"/>
<line x1="581.4" y1="427.3" x2="675.3" y2="427.3" stroke="#555" stroke-width="1"/>
<line x1="578.4" y1="427.3" x2="581.4" y2="427.3" stroke="#333" stroke-width="0.7"/>
<text x="578" y="428.95" font-size="4.55" font-weight="bold" text-anchor="end" fill="#222">0.0</text>
<line x1="578.4" y1="396.6" x2="581.4" y2="396.6" stroke="#333" stroke-width="0.7"/>
<text x="578" y="398.25" font-size="4.55" font-weight="bold" text-anchor="end" fill="#222">0.5</text>
<line x1="578.4" y1="365.9" x2="581.4" y2="365.9" stroke="#333" stroke-width="0.7"/>
<text x="578" y="367.55" font-size="4.55" font-weight="bold" text-anchor="end" fill="#222">1.0</text>
<line x1="578.4" y1="335.2" x2="581.4" y2="335.2" stroke="#333" stroke-width="0.7"/>
<text x="578" y="336.85" font-size="4.55" font-weight="bold" text-anchor="end" fill="#222">1.5</text>
<line x1="600.5" y1="427.3" x2="600.5" y2="429.3" stroke="#555" stroke-width="0.8"/>
<line x1="629.1" y1="427.3" x2="629.1" y2="429.3" stroke="#555" stroke-width="0.8"/>
<line x1="657.4" y1="427.3" x2="657.4" y2="429.3" stroke="#555" stroke-width="0.8"/>
<text x="0" y="0" transform="translate(568.35 383.7) rotate(-90)" font-size="8.2" font-weight="bold" text-anchor="middle" fill="#000" stroke="#000" stroke-width="0.18">LTB<tspan font-size="6" dy="1.6">4</tspan><tspan dy="-1.6"> ng/mL</tspan></text>
<text x="0" y="0" transform="translate(603.89 432.7) rotate(-90)" font-size="8.3" font-weight="bold" text-anchor="end" fill="#000" stroke="#000" stroke-width="0.18">WT</text>
<text x="0" y="0" transform="translate(632.49 432.7) rotate(-90)" font-size="8.3" font-weight="bold" text-anchor="end" fill="#000" stroke="#000" stroke-width="0.18">&#916;<tspan font-style="italic">cna</tspan></text>
<text x="0" y="0" transform="translate(659.79 432.7) rotate(-90)" font-size="8.3" font-weight="bold" text-anchor="end" fill="#000" stroke="#000" stroke-width="0.18">comp <tspan font-style="italic">cna</tspan></text>
<line x1="600.5" y1="340.1" x2="657.4" y2="340.1" stroke="#666" stroke-width="0.6"/>
<line x1="600.5" y1="340.1" x2="600.5" y2="342.3" stroke="#666" stroke-width="0.6"/>
<line x1="657.4" y1="340.1" x2="657.4" y2="342.3" stroke="#666" stroke-width="0.6"/>
<text x="628.95" y="338.2" font-size="4.5" font-weight="normal" text-anchor="middle" fill="#555">ns</text>
<line x1="600.5" y1="351" x2="628.1" y2="351" stroke="#666" stroke-width="0.6"/>
<line x1="630.1" y1="351" x2="657.4" y2="351" stroke="#666" stroke-width="0.6"/>
<line x1="600.5" y1="351" x2="600.5" y2="357.5" stroke="#666" stroke-width="0.6"/>
<line x1="628.1" y1="351" x2="628.1" y2="386.5" stroke="#666" stroke-width="0.55"/>
<line x1="630.1" y1="351" x2="630.1" y2="386.5" stroke="#666" stroke-width="0.55"/>
<line x1="657.4" y1="351" x2="657.4" y2="356" stroke="#666" stroke-width="0.6"/>
<text x="614.8" y="351.85" font-size="7.3" font-weight="bold" text-anchor="middle" fill="#222" stroke="#222" stroke-width="0.16">*</text>
<text x="643.25" y="351.85" font-size="7.3" font-weight="bold" text-anchor="middle" fill="#222" stroke="#222" stroke-width="0.16">**</text>
</svg>
</body></html>
